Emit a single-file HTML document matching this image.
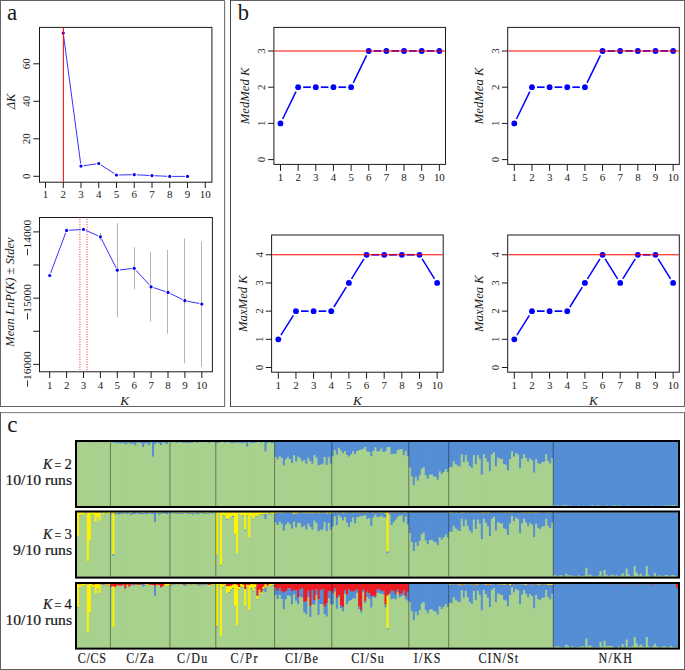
<!DOCTYPE html>
<html><head><meta charset="utf-8"><title>Figure</title>
<style>
html,body{margin:0;padding:0;background:#fff;width:685px;height:670px;overflow:hidden;}
svg{display:block;}
text{fill:#1a1a1a;}
text.h{stroke:#1a1a1a;stroke-width:0.2px;}
</style></head><body>
<svg width="685" height="670" viewBox="0 0 685 670"><rect x="0" y="0" width="225" height="1" fill="#5f5f5f" />
<rect x="0" y="406" width="225" height="1" fill="#636363" />
<rect x="0" y="0" width="1" height="407" fill="#666666" />
<rect x="224" y="0" width="1" height="407" fill="#7a7a7a" />
<rect x="225" y="1" width="1" height="406" fill="#e6e6e6" />
<rect x="230" y="0" width="455" height="1" fill="#5f5f5f" />
<rect x="230" y="406" width="455" height="1" fill="#636363" />
<rect x="230" y="0" width="1" height="407" fill="#474747" />
<rect x="684" y="0" width="1" height="407" fill="#666666" />
<rect x="0" y="412" width="685" height="1" fill="#8a8a8a" />
<rect x="1" y="413" width="683" height="1" fill="#ececec" />
<rect x="0" y="669" width="685" height="1" fill="#5c5c5c" />
<rect x="0" y="412" width="1" height="258" fill="#5f5f5f" />
<rect x="684" y="412" width="1" height="258" fill="#666666" />
<text transform="translate(12,20.1)" text-anchor="middle" style='font-family:"Liberation Serif", serif;font-size:23px;' >a</text>
<text transform="translate(243.3,20.2)" text-anchor="middle" style='font-family:"Liberation Serif", serif;font-size:22.5px;' >b</text>
<text transform="translate(12.4,431.8)" text-anchor="middle" style='font-family:"Liberation Serif", serif;font-size:23px;' >c</text>
<rect x="39.5" y="27.4" width="172.4" height="154.8" fill="none" stroke="#1a1a1a" stroke-width="1"/>
<line x1="33.3" y1="176.3" x2="39.5" y2="176.3" stroke="#1a1a1a" stroke-width="1" />
<text transform="translate(30,176.3) rotate(-90) scale(1.14,1)" text-anchor="middle" style='font-family:"Liberation Serif", serif;font-size:9.6px;' >0</text>
<line x1="33.3" y1="138.8" x2="39.5" y2="138.8" stroke="#1a1a1a" stroke-width="1" />
<text transform="translate(30,138.8) rotate(-90) scale(1.14,1)" text-anchor="middle" style='font-family:"Liberation Serif", serif;font-size:9.6px;' >20</text>
<line x1="33.3" y1="101.3" x2="39.5" y2="101.3" stroke="#1a1a1a" stroke-width="1" />
<text transform="translate(30,101.3) rotate(-90) scale(1.14,1)" text-anchor="middle" style='font-family:"Liberation Serif", serif;font-size:9.6px;' >40</text>
<line x1="33.3" y1="63.8" x2="39.5" y2="63.8" stroke="#1a1a1a" stroke-width="1" />
<text transform="translate(30,63.8) rotate(-90) scale(1.14,1)" text-anchor="middle" style='font-family:"Liberation Serif", serif;font-size:9.6px;' >60</text>
<line x1="45.5" y1="182.2" x2="45.5" y2="188" stroke="#1a1a1a" stroke-width="1" />
<text transform="translate(45.5,197.7) scale(1.14,1)" text-anchor="middle" style='font-family:"Liberation Serif", serif;font-size:9.6px;' >1</text>
<line x1="63.25" y1="182.2" x2="63.25" y2="188" stroke="#1a1a1a" stroke-width="1" />
<text transform="translate(63.25,197.7) scale(1.14,1)" text-anchor="middle" style='font-family:"Liberation Serif", serif;font-size:9.6px;' >2</text>
<line x1="81" y1="182.2" x2="81" y2="188" stroke="#1a1a1a" stroke-width="1" />
<text transform="translate(81,197.7) scale(1.14,1)" text-anchor="middle" style='font-family:"Liberation Serif", serif;font-size:9.6px;' >3</text>
<line x1="98.75" y1="182.2" x2="98.75" y2="188" stroke="#1a1a1a" stroke-width="1" />
<text transform="translate(98.75,197.7) scale(1.14,1)" text-anchor="middle" style='font-family:"Liberation Serif", serif;font-size:9.6px;' >4</text>
<line x1="116.5" y1="182.2" x2="116.5" y2="188" stroke="#1a1a1a" stroke-width="1" />
<text transform="translate(116.5,197.7) scale(1.14,1)" text-anchor="middle" style='font-family:"Liberation Serif", serif;font-size:9.6px;' >5</text>
<line x1="134.25" y1="182.2" x2="134.25" y2="188" stroke="#1a1a1a" stroke-width="1" />
<text transform="translate(134.25,197.7) scale(1.14,1)" text-anchor="middle" style='font-family:"Liberation Serif", serif;font-size:9.6px;' >6</text>
<line x1="152" y1="182.2" x2="152" y2="188" stroke="#1a1a1a" stroke-width="1" />
<text transform="translate(152,197.7) scale(1.14,1)" text-anchor="middle" style='font-family:"Liberation Serif", serif;font-size:9.6px;' >7</text>
<line x1="169.75" y1="182.2" x2="169.75" y2="188" stroke="#1a1a1a" stroke-width="1" />
<text transform="translate(169.75,197.7) scale(1.14,1)" text-anchor="middle" style='font-family:"Liberation Serif", serif;font-size:9.6px;' >8</text>
<line x1="187.5" y1="182.2" x2="187.5" y2="188" stroke="#1a1a1a" stroke-width="1" />
<text transform="translate(187.5,197.7) scale(1.14,1)" text-anchor="middle" style='font-family:"Liberation Serif", serif;font-size:9.6px;' >9</text>
<line x1="205.25" y1="182.2" x2="205.25" y2="188" stroke="#1a1a1a" stroke-width="1" />
<text transform="translate(205.25,197.7) scale(1.14,1)" text-anchor="middle" style='font-family:"Liberation Serif", serif;font-size:9.6px;' >10</text>
<text transform="translate(14.5,101.5) rotate(-90)" text-anchor="middle" style='font-family:"Liberation Serif", serif;font-size:12.5px;font-style:italic' >&#916;K</text>
<line x1="63.59" y1="35.68" x2="80.66" y2="163.52" stroke="#0000ff" stroke-width="0.8" />
<line x1="83.57" y1="165.72" x2="96.18" y2="163.88" stroke="#0000ff" stroke-width="0.8" />
<line x1="100.93" y1="164.91" x2="114.32" y2="173.59" stroke="#0000ff" stroke-width="0.8" />
<line x1="119.1" y1="174.96" x2="131.65" y2="174.74" stroke="#0000ff" stroke-width="0.8" />
<line x1="136.85" y1="174.83" x2="149.4" y2="175.47" stroke="#0000ff" stroke-width="0.8" />
<line x1="154.6" y1="175.72" x2="167.15" y2="176.28" stroke="#0000ff" stroke-width="0.8" />
<line x1="172.35" y1="176.4" x2="184.9" y2="176.4" stroke="#0000ff" stroke-width="0.8" />
<circle cx="63.25" cy="33.1" r="1.6" fill="#0000ff"/>
<circle cx="81" cy="166.1" r="1.6" fill="#0000ff"/>
<circle cx="98.75" cy="163.5" r="1.6" fill="#0000ff"/>
<circle cx="116.5" cy="175" r="1.6" fill="#0000ff"/>
<circle cx="134.25" cy="174.7" r="1.6" fill="#0000ff"/>
<circle cx="152" cy="175.6" r="1.6" fill="#0000ff"/>
<circle cx="169.75" cy="176.4" r="1.6" fill="#0000ff"/>
<circle cx="187.5" cy="176.4" r="1.6" fill="#0000ff"/>
<line x1="63.4" y1="27.9" x2="63.4" y2="181.7" stroke="#ff0000" stroke-width="1" />
<rect x="39.5" y="217.5" width="172.9" height="154.3" fill="none" stroke="#1a1a1a" stroke-width="1"/>
<line x1="33.3" y1="231.9" x2="39.5" y2="231.9" stroke="#1a1a1a" stroke-width="1" />
<line x1="33.3" y1="265.02" x2="39.5" y2="265.02" stroke="#1a1a1a" stroke-width="1" />
<line x1="33.3" y1="298.15" x2="39.5" y2="298.15" stroke="#1a1a1a" stroke-width="1" />
<line x1="33.3" y1="331.27" x2="39.5" y2="331.27" stroke="#1a1a1a" stroke-width="1" />
<line x1="33.3" y1="364.4" x2="39.5" y2="364.4" stroke="#1a1a1a" stroke-width="1" />
<text transform="translate(30.6,219.9) rotate(-90)" text-anchor="end" style='font-family:"Liberation Serif", serif;font-size:9.6px;' textLength="28.6" lengthAdjust="spacingAndGlyphs">14000</text>
<line x1="27.5" y1="248.9" x2="27.5" y2="255.3" stroke="#222" stroke-width="0.9" />
<text transform="translate(30.6,284.1) rotate(-90)" text-anchor="end" style='font-family:"Liberation Serif", serif;font-size:9.6px;' textLength="28.6" lengthAdjust="spacingAndGlyphs">15000</text>
<line x1="27.5" y1="313.1" x2="27.5" y2="319.5" stroke="#222" stroke-width="0.9" />
<text transform="translate(30.6,351.3) rotate(-90)" text-anchor="end" style='font-family:"Liberation Serif", serif;font-size:9.6px;' textLength="28.6" lengthAdjust="spacingAndGlyphs">16000</text>
<line x1="27.5" y1="380.3" x2="27.5" y2="386.7" stroke="#222" stroke-width="0.9" />
<line x1="49.7" y1="371.8" x2="49.7" y2="378" stroke="#1a1a1a" stroke-width="1" />
<text transform="translate(49.7,388.9) scale(1.14,1)" text-anchor="middle" style='font-family:"Liberation Serif", serif;font-size:9.6px;' >1</text>
<line x1="66.6" y1="371.8" x2="66.6" y2="378" stroke="#1a1a1a" stroke-width="1" />
<text transform="translate(66.6,388.9) scale(1.14,1)" text-anchor="middle" style='font-family:"Liberation Serif", serif;font-size:9.6px;' >2</text>
<line x1="83.5" y1="371.8" x2="83.5" y2="378" stroke="#1a1a1a" stroke-width="1" />
<text transform="translate(83.5,388.9) scale(1.14,1)" text-anchor="middle" style='font-family:"Liberation Serif", serif;font-size:9.6px;' >3</text>
<line x1="100.4" y1="371.8" x2="100.4" y2="378" stroke="#1a1a1a" stroke-width="1" />
<text transform="translate(100.4,388.9) scale(1.14,1)" text-anchor="middle" style='font-family:"Liberation Serif", serif;font-size:9.6px;' >4</text>
<line x1="117.3" y1="371.8" x2="117.3" y2="378" stroke="#1a1a1a" stroke-width="1" />
<text transform="translate(117.3,388.9) scale(1.14,1)" text-anchor="middle" style='font-family:"Liberation Serif", serif;font-size:9.6px;' >5</text>
<line x1="134.2" y1="371.8" x2="134.2" y2="378" stroke="#1a1a1a" stroke-width="1" />
<text transform="translate(134.2,388.9) scale(1.14,1)" text-anchor="middle" style='font-family:"Liberation Serif", serif;font-size:9.6px;' >6</text>
<line x1="151.1" y1="371.8" x2="151.1" y2="378" stroke="#1a1a1a" stroke-width="1" />
<text transform="translate(151.1,388.9) scale(1.14,1)" text-anchor="middle" style='font-family:"Liberation Serif", serif;font-size:9.6px;' >7</text>
<line x1="168" y1="371.8" x2="168" y2="378" stroke="#1a1a1a" stroke-width="1" />
<text transform="translate(168,388.9) scale(1.14,1)" text-anchor="middle" style='font-family:"Liberation Serif", serif;font-size:9.6px;' >8</text>
<line x1="184.9" y1="371.8" x2="184.9" y2="378" stroke="#1a1a1a" stroke-width="1" />
<text transform="translate(184.9,388.9) scale(1.14,1)" text-anchor="middle" style='font-family:"Liberation Serif", serif;font-size:9.6px;' >9</text>
<line x1="201.8" y1="371.8" x2="201.8" y2="378" stroke="#1a1a1a" stroke-width="1" />
<text transform="translate(201.8,388.9) scale(1.14,1)" text-anchor="middle" style='font-family:"Liberation Serif", serif;font-size:9.6px;' >10</text>
<text transform="translate(124.6,404.7)" text-anchor="middle" style='font-family:"Liberation Serif", serif;font-size:13.3px;font-style:italic' >K</text>
<text transform="translate(13.6,292) rotate(-90)" text-anchor="middle" style='font-family:"Liberation Serif", serif;font-size:12.5px;font-style:italic' >Mean LnP(K) &#177; Stdev</text>
<line x1="79.9" y1="219" x2="79.9" y2="371.3" stroke="#ff3030" stroke-width="1" stroke-dasharray="1 4" stroke-dashoffset="0"/>
<line x1="79.9" y1="219" x2="79.9" y2="371.3" stroke="#ff3030" stroke-width="1" stroke-dasharray="2 3" stroke-dashoffset="-2" stroke-opacity="0.55"/>
<line x1="87" y1="219" x2="87" y2="371.3" stroke="#ff3030" stroke-width="1" stroke-dasharray="1 4" stroke-dashoffset="0"/>
<line x1="87" y1="219" x2="87" y2="371.3" stroke="#ff3030" stroke-width="1" stroke-dasharray="2 3" stroke-dashoffset="-2" stroke-opacity="0.55"/>
<line x1="100.5" y1="232.8" x2="100.5" y2="240.7" stroke="#b4b4b4" stroke-width="1" />
<line x1="117.5" y1="223.2" x2="117.5" y2="317.2" stroke="#b4b4b4" stroke-width="1" />
<line x1="134.5" y1="247.3" x2="134.5" y2="289.3" stroke="#b4b4b4" stroke-width="1" />
<line x1="150.5" y1="251.8" x2="150.5" y2="321.5" stroke="#b4b4b4" stroke-width="1" />
<line x1="167.5" y1="250" x2="167.5" y2="333.7" stroke="#b4b4b4" stroke-width="1" />
<line x1="184.5" y1="238.6" x2="184.5" y2="363.4" stroke="#b4b4b4" stroke-width="1" />
<line x1="201.5" y1="241.7" x2="201.5" y2="366.7" stroke="#b4b4b4" stroke-width="1" />
<line x1="50.61" y1="273.07" x2="65.69" y2="232.83" stroke="#0000ff" stroke-width="0.8" />
<line x1="69.2" y1="230.25" x2="80.9" y2="229.55" stroke="#0000ff" stroke-width="0.8" />
<line x1="85.88" y1="230.44" x2="98.02" y2="235.76" stroke="#0000ff" stroke-width="0.8" />
<line x1="101.57" y1="239.12" x2="116.13" y2="267.88" stroke="#0000ff" stroke-width="0.8" />
<line x1="119.88" y1="269.91" x2="131.62" y2="268.59" stroke="#0000ff" stroke-width="0.8" />
<line x1="135.95" y1="270.22" x2="149.35" y2="284.88" stroke="#0000ff" stroke-width="0.8" />
<line x1="153.57" y1="287.62" x2="165.53" y2="291.58" stroke="#0000ff" stroke-width="0.8" />
<line x1="170.33" y1="293.55" x2="182.57" y2="299.55" stroke="#0000ff" stroke-width="0.8" />
<line x1="187.45" y1="301.2" x2="199.25" y2="303.5" stroke="#0000ff" stroke-width="0.8" />
<circle cx="49.7" cy="275.5" r="1.6" fill="#0000ff"/>
<circle cx="66.6" cy="230.4" r="1.6" fill="#0000ff"/>
<circle cx="83.5" cy="229.4" r="1.6" fill="#0000ff"/>
<circle cx="100.4" cy="236.8" r="1.6" fill="#0000ff"/>
<circle cx="117.3" cy="270.2" r="1.6" fill="#0000ff"/>
<circle cx="134.2" cy="268.3" r="1.6" fill="#0000ff"/>
<circle cx="151.1" cy="286.8" r="1.6" fill="#0000ff"/>
<circle cx="168" cy="292.4" r="1.6" fill="#0000ff"/>
<circle cx="184.9" cy="300.7" r="1.6" fill="#0000ff"/>
<circle cx="201.8" cy="304" r="1.6" fill="#0000ff"/>
<rect x="273.9" y="27.4" width="171.6" height="137" fill="none" stroke="#1a1a1a" stroke-width="1"/>
<line x1="268.1" y1="159.6" x2="273.9" y2="159.6" stroke="#1a1a1a" stroke-width="1" />
<text transform="translate(264.9,159.6) rotate(-90) scale(1.14,1)" text-anchor="middle" style='font-family:"Liberation Serif", serif;font-size:9.6px;' >0</text>
<line x1="268.1" y1="123.4" x2="273.9" y2="123.4" stroke="#1a1a1a" stroke-width="1" />
<text transform="translate(264.9,123.4) rotate(-90) scale(1.14,1)" text-anchor="middle" style='font-family:"Liberation Serif", serif;font-size:9.6px;' >1</text>
<line x1="268.1" y1="87.2" x2="273.9" y2="87.2" stroke="#1a1a1a" stroke-width="1" />
<text transform="translate(264.9,87.2) rotate(-90) scale(1.14,1)" text-anchor="middle" style='font-family:"Liberation Serif", serif;font-size:9.6px;' >2</text>
<line x1="268.1" y1="51" x2="273.9" y2="51" stroke="#1a1a1a" stroke-width="1" />
<text transform="translate(264.9,51) rotate(-90) scale(1.14,1)" text-anchor="middle" style='font-family:"Liberation Serif", serif;font-size:9.6px;' >3</text>
<line x1="280.5" y1="164.4" x2="280.5" y2="170.9" stroke="#1a1a1a" stroke-width="1" />
<text transform="translate(280.5,181.2) scale(1.14,1)" text-anchor="middle" style='font-family:"Liberation Serif", serif;font-size:9.6px;' >1</text>
<line x1="298.15" y1="164.4" x2="298.15" y2="170.9" stroke="#1a1a1a" stroke-width="1" />
<text transform="translate(298.15,181.2) scale(1.14,1)" text-anchor="middle" style='font-family:"Liberation Serif", serif;font-size:9.6px;' >2</text>
<line x1="315.8" y1="164.4" x2="315.8" y2="170.9" stroke="#1a1a1a" stroke-width="1" />
<text transform="translate(315.8,181.2) scale(1.14,1)" text-anchor="middle" style='font-family:"Liberation Serif", serif;font-size:9.6px;' >3</text>
<line x1="333.45" y1="164.4" x2="333.45" y2="170.9" stroke="#1a1a1a" stroke-width="1" />
<text transform="translate(333.45,181.2) scale(1.14,1)" text-anchor="middle" style='font-family:"Liberation Serif", serif;font-size:9.6px;' >4</text>
<line x1="351.1" y1="164.4" x2="351.1" y2="170.9" stroke="#1a1a1a" stroke-width="1" />
<text transform="translate(351.1,181.2) scale(1.14,1)" text-anchor="middle" style='font-family:"Liberation Serif", serif;font-size:9.6px;' >5</text>
<line x1="368.75" y1="164.4" x2="368.75" y2="170.9" stroke="#1a1a1a" stroke-width="1" />
<text transform="translate(368.75,181.2) scale(1.14,1)" text-anchor="middle" style='font-family:"Liberation Serif", serif;font-size:9.6px;' >6</text>
<line x1="386.4" y1="164.4" x2="386.4" y2="170.9" stroke="#1a1a1a" stroke-width="1" />
<text transform="translate(386.4,181.2) scale(1.14,1)" text-anchor="middle" style='font-family:"Liberation Serif", serif;font-size:9.6px;' >7</text>
<line x1="404.05" y1="164.4" x2="404.05" y2="170.9" stroke="#1a1a1a" stroke-width="1" />
<text transform="translate(404.05,181.2) scale(1.14,1)" text-anchor="middle" style='font-family:"Liberation Serif", serif;font-size:9.6px;' >8</text>
<line x1="421.7" y1="164.4" x2="421.7" y2="170.9" stroke="#1a1a1a" stroke-width="1" />
<text transform="translate(421.7,181.2) scale(1.14,1)" text-anchor="middle" style='font-family:"Liberation Serif", serif;font-size:9.6px;' >9</text>
<line x1="439.35" y1="164.4" x2="439.35" y2="170.9" stroke="#1a1a1a" stroke-width="1" />
<text transform="translate(439.35,181.2) scale(1.14,1)" text-anchor="middle" style='font-family:"Liberation Serif", serif;font-size:9.6px;' >10</text>
<text transform="translate(248.8,95.9) rotate(-90)" text-anchor="middle" style='font-family:"Liberation Serif", serif;font-size:12.7px;font-style:italic' >MedMed K</text>
<line x1="282.65" y1="119" x2="296" y2="91.6" stroke="#0000ff" stroke-width="1.5" />
<line x1="303.18" y1="87.2" x2="310.78" y2="87.2" stroke="#0000ff" stroke-width="1.7" />
<line x1="320.82" y1="87.2" x2="328.43" y2="87.2" stroke="#0000ff" stroke-width="1.7" />
<line x1="338.47" y1="87.2" x2="346.07" y2="87.2" stroke="#0000ff" stroke-width="1.7" />
<line x1="353.25" y1="82.8" x2="366.6" y2="55.4" stroke="#0000ff" stroke-width="1.5" />
<line x1="373.77" y1="51" x2="381.38" y2="51" stroke="#0000ff" stroke-width="1.7" />
<line x1="391.42" y1="51" x2="399.02" y2="51" stroke="#0000ff" stroke-width="1.7" />
<line x1="409.07" y1="51" x2="416.68" y2="51" stroke="#0000ff" stroke-width="1.7" />
<line x1="426.72" y1="51" x2="434.32" y2="51" stroke="#0000ff" stroke-width="1.7" />
<circle cx="280.5" cy="123.4" r="2.9" fill="#0000ff"/>
<circle cx="298.15" cy="87.2" r="2.9" fill="#0000ff"/>
<circle cx="315.8" cy="87.2" r="2.9" fill="#0000ff"/>
<circle cx="333.45" cy="87.2" r="2.9" fill="#0000ff"/>
<circle cx="351.1" cy="87.2" r="2.9" fill="#0000ff"/>
<circle cx="368.75" cy="51" r="2.9" fill="#0000ff"/>
<circle cx="386.4" cy="51" r="2.9" fill="#0000ff"/>
<circle cx="404.05" cy="51" r="2.9" fill="#0000ff"/>
<circle cx="421.7" cy="51" r="2.9" fill="#0000ff"/>
<circle cx="439.35" cy="51" r="2.9" fill="#0000ff"/>
<line x1="274.4" y1="51" x2="445" y2="51" stroke="#ff0000" stroke-width="1" />
<rect x="507.7" y="27.4" width="171.6" height="137" fill="none" stroke="#1a1a1a" stroke-width="1"/>
<line x1="501.9" y1="159.6" x2="507.7" y2="159.6" stroke="#1a1a1a" stroke-width="1" />
<text transform="translate(498.7,159.6) rotate(-90) scale(1.14,1)" text-anchor="middle" style='font-family:"Liberation Serif", serif;font-size:9.6px;' >0</text>
<line x1="501.9" y1="123.4" x2="507.7" y2="123.4" stroke="#1a1a1a" stroke-width="1" />
<text transform="translate(498.7,123.4) rotate(-90) scale(1.14,1)" text-anchor="middle" style='font-family:"Liberation Serif", serif;font-size:9.6px;' >1</text>
<line x1="501.9" y1="87.2" x2="507.7" y2="87.2" stroke="#1a1a1a" stroke-width="1" />
<text transform="translate(498.7,87.2) rotate(-90) scale(1.14,1)" text-anchor="middle" style='font-family:"Liberation Serif", serif;font-size:9.6px;' >2</text>
<line x1="501.9" y1="51" x2="507.7" y2="51" stroke="#1a1a1a" stroke-width="1" />
<text transform="translate(498.7,51) rotate(-90) scale(1.14,1)" text-anchor="middle" style='font-family:"Liberation Serif", serif;font-size:9.6px;' >3</text>
<line x1="514.3" y1="164.4" x2="514.3" y2="170.9" stroke="#1a1a1a" stroke-width="1" />
<text transform="translate(514.3,181.2) scale(1.14,1)" text-anchor="middle" style='font-family:"Liberation Serif", serif;font-size:9.6px;' >1</text>
<line x1="531.95" y1="164.4" x2="531.95" y2="170.9" stroke="#1a1a1a" stroke-width="1" />
<text transform="translate(531.95,181.2) scale(1.14,1)" text-anchor="middle" style='font-family:"Liberation Serif", serif;font-size:9.6px;' >2</text>
<line x1="549.6" y1="164.4" x2="549.6" y2="170.9" stroke="#1a1a1a" stroke-width="1" />
<text transform="translate(549.6,181.2) scale(1.14,1)" text-anchor="middle" style='font-family:"Liberation Serif", serif;font-size:9.6px;' >3</text>
<line x1="567.25" y1="164.4" x2="567.25" y2="170.9" stroke="#1a1a1a" stroke-width="1" />
<text transform="translate(567.25,181.2) scale(1.14,1)" text-anchor="middle" style='font-family:"Liberation Serif", serif;font-size:9.6px;' >4</text>
<line x1="584.9" y1="164.4" x2="584.9" y2="170.9" stroke="#1a1a1a" stroke-width="1" />
<text transform="translate(584.9,181.2) scale(1.14,1)" text-anchor="middle" style='font-family:"Liberation Serif", serif;font-size:9.6px;' >5</text>
<line x1="602.55" y1="164.4" x2="602.55" y2="170.9" stroke="#1a1a1a" stroke-width="1" />
<text transform="translate(602.55,181.2) scale(1.14,1)" text-anchor="middle" style='font-family:"Liberation Serif", serif;font-size:9.6px;' >6</text>
<line x1="620.2" y1="164.4" x2="620.2" y2="170.9" stroke="#1a1a1a" stroke-width="1" />
<text transform="translate(620.2,181.2) scale(1.14,1)" text-anchor="middle" style='font-family:"Liberation Serif", serif;font-size:9.6px;' >7</text>
<line x1="637.85" y1="164.4" x2="637.85" y2="170.9" stroke="#1a1a1a" stroke-width="1" />
<text transform="translate(637.85,181.2) scale(1.14,1)" text-anchor="middle" style='font-family:"Liberation Serif", serif;font-size:9.6px;' >8</text>
<line x1="655.5" y1="164.4" x2="655.5" y2="170.9" stroke="#1a1a1a" stroke-width="1" />
<text transform="translate(655.5,181.2) scale(1.14,1)" text-anchor="middle" style='font-family:"Liberation Serif", serif;font-size:9.6px;' >9</text>
<line x1="673.15" y1="164.4" x2="673.15" y2="170.9" stroke="#1a1a1a" stroke-width="1" />
<text transform="translate(673.15,181.2) scale(1.14,1)" text-anchor="middle" style='font-family:"Liberation Serif", serif;font-size:9.6px;' >10</text>
<text transform="translate(482.6,95.9) rotate(-90)" text-anchor="middle" style='font-family:"Liberation Serif", serif;font-size:12.7px;font-style:italic' >MedMea K</text>
<line x1="516.45" y1="119" x2="529.8" y2="91.6" stroke="#0000ff" stroke-width="1.5" />
<line x1="536.97" y1="87.2" x2="544.57" y2="87.2" stroke="#0000ff" stroke-width="1.7" />
<line x1="554.62" y1="87.2" x2="562.22" y2="87.2" stroke="#0000ff" stroke-width="1.7" />
<line x1="572.28" y1="87.2" x2="579.88" y2="87.2" stroke="#0000ff" stroke-width="1.7" />
<line x1="587.05" y1="82.8" x2="600.4" y2="55.4" stroke="#0000ff" stroke-width="1.5" />
<line x1="607.58" y1="51" x2="615.17" y2="51" stroke="#0000ff" stroke-width="1.7" />
<line x1="625.22" y1="51" x2="632.82" y2="51" stroke="#0000ff" stroke-width="1.7" />
<line x1="642.88" y1="51" x2="650.47" y2="51" stroke="#0000ff" stroke-width="1.7" />
<line x1="660.53" y1="51" x2="668.12" y2="51" stroke="#0000ff" stroke-width="1.7" />
<circle cx="514.3" cy="123.4" r="2.9" fill="#0000ff"/>
<circle cx="531.95" cy="87.2" r="2.9" fill="#0000ff"/>
<circle cx="549.6" cy="87.2" r="2.9" fill="#0000ff"/>
<circle cx="567.25" cy="87.2" r="2.9" fill="#0000ff"/>
<circle cx="584.9" cy="87.2" r="2.9" fill="#0000ff"/>
<circle cx="602.55" cy="51" r="2.9" fill="#0000ff"/>
<circle cx="620.2" cy="51" r="2.9" fill="#0000ff"/>
<circle cx="637.85" cy="51" r="2.9" fill="#0000ff"/>
<circle cx="655.5" cy="51" r="2.9" fill="#0000ff"/>
<circle cx="673.15" cy="51" r="2.9" fill="#0000ff"/>
<line x1="508.2" y1="51" x2="678.8" y2="51" stroke="#ff0000" stroke-width="1" />
<rect x="271.6" y="235" width="171.6" height="137.2" fill="none" stroke="#1a1a1a" stroke-width="1"/>
<line x1="265.8" y1="367.5" x2="271.6" y2="367.5" stroke="#1a1a1a" stroke-width="1" />
<text transform="translate(262.6,367.5) rotate(-90) scale(1.14,1)" text-anchor="middle" style='font-family:"Liberation Serif", serif;font-size:9.6px;' >0</text>
<line x1="265.8" y1="339.32" x2="271.6" y2="339.32" stroke="#1a1a1a" stroke-width="1" />
<text transform="translate(262.6,339.32) rotate(-90) scale(1.14,1)" text-anchor="middle" style='font-family:"Liberation Serif", serif;font-size:9.6px;' >1</text>
<line x1="265.8" y1="311.14" x2="271.6" y2="311.14" stroke="#1a1a1a" stroke-width="1" />
<text transform="translate(262.6,311.14) rotate(-90) scale(1.14,1)" text-anchor="middle" style='font-family:"Liberation Serif", serif;font-size:9.6px;' >2</text>
<line x1="265.8" y1="282.96" x2="271.6" y2="282.96" stroke="#1a1a1a" stroke-width="1" />
<text transform="translate(262.6,282.96) rotate(-90) scale(1.14,1)" text-anchor="middle" style='font-family:"Liberation Serif", serif;font-size:9.6px;' >3</text>
<line x1="265.8" y1="254.78" x2="271.6" y2="254.78" stroke="#1a1a1a" stroke-width="1" />
<text transform="translate(262.6,254.78) rotate(-90) scale(1.14,1)" text-anchor="middle" style='font-family:"Liberation Serif", serif;font-size:9.6px;' >4</text>
<line x1="278.3" y1="372.2" x2="278.3" y2="378.7" stroke="#1a1a1a" stroke-width="1" />
<text transform="translate(278.3,389) scale(1.14,1)" text-anchor="middle" style='font-family:"Liberation Serif", serif;font-size:9.6px;' >1</text>
<line x1="295.95" y1="372.2" x2="295.95" y2="378.7" stroke="#1a1a1a" stroke-width="1" />
<text transform="translate(295.95,389) scale(1.14,1)" text-anchor="middle" style='font-family:"Liberation Serif", serif;font-size:9.6px;' >2</text>
<line x1="313.6" y1="372.2" x2="313.6" y2="378.7" stroke="#1a1a1a" stroke-width="1" />
<text transform="translate(313.6,389) scale(1.14,1)" text-anchor="middle" style='font-family:"Liberation Serif", serif;font-size:9.6px;' >3</text>
<line x1="331.25" y1="372.2" x2="331.25" y2="378.7" stroke="#1a1a1a" stroke-width="1" />
<text transform="translate(331.25,389) scale(1.14,1)" text-anchor="middle" style='font-family:"Liberation Serif", serif;font-size:9.6px;' >4</text>
<line x1="348.9" y1="372.2" x2="348.9" y2="378.7" stroke="#1a1a1a" stroke-width="1" />
<text transform="translate(348.9,389) scale(1.14,1)" text-anchor="middle" style='font-family:"Liberation Serif", serif;font-size:9.6px;' >5</text>
<line x1="366.55" y1="372.2" x2="366.55" y2="378.7" stroke="#1a1a1a" stroke-width="1" />
<text transform="translate(366.55,389) scale(1.14,1)" text-anchor="middle" style='font-family:"Liberation Serif", serif;font-size:9.6px;' >6</text>
<line x1="384.2" y1="372.2" x2="384.2" y2="378.7" stroke="#1a1a1a" stroke-width="1" />
<text transform="translate(384.2,389) scale(1.14,1)" text-anchor="middle" style='font-family:"Liberation Serif", serif;font-size:9.6px;' >7</text>
<line x1="401.85" y1="372.2" x2="401.85" y2="378.7" stroke="#1a1a1a" stroke-width="1" />
<text transform="translate(401.85,389) scale(1.14,1)" text-anchor="middle" style='font-family:"Liberation Serif", serif;font-size:9.6px;' >8</text>
<line x1="419.5" y1="372.2" x2="419.5" y2="378.7" stroke="#1a1a1a" stroke-width="1" />
<text transform="translate(419.5,389) scale(1.14,1)" text-anchor="middle" style='font-family:"Liberation Serif", serif;font-size:9.6px;' >9</text>
<line x1="437.15" y1="372.2" x2="437.15" y2="378.7" stroke="#1a1a1a" stroke-width="1" />
<text transform="translate(437.15,389) scale(1.14,1)" text-anchor="middle" style='font-family:"Liberation Serif", serif;font-size:9.6px;' >10</text>
<text transform="translate(246.5,303.6) rotate(-90)" text-anchor="middle" style='font-family:"Liberation Serif", serif;font-size:12.7px;font-style:italic' >MaxMed K</text>
<text transform="translate(357.4,404.6)" text-anchor="middle" style='font-family:"Liberation Serif", serif;font-size:13.3px;font-style:italic' >K</text>
<line x1="280.9" y1="335.17" x2="293.35" y2="315.29" stroke="#0000ff" stroke-width="1.5" />
<line x1="300.97" y1="311.14" x2="308.57" y2="311.14" stroke="#0000ff" stroke-width="1.7" />
<line x1="318.62" y1="311.14" x2="326.23" y2="311.14" stroke="#0000ff" stroke-width="1.7" />
<line x1="333.85" y1="306.99" x2="346.3" y2="287.11" stroke="#0000ff" stroke-width="1.5" />
<line x1="351.5" y1="278.81" x2="363.95" y2="258.93" stroke="#0000ff" stroke-width="1.5" />
<line x1="371.57" y1="254.78" x2="379.18" y2="254.78" stroke="#0000ff" stroke-width="1.7" />
<line x1="389.22" y1="254.78" x2="396.82" y2="254.78" stroke="#0000ff" stroke-width="1.7" />
<line x1="406.88" y1="254.78" x2="414.48" y2="254.78" stroke="#0000ff" stroke-width="1.7" />
<line x1="422.1" y1="258.93" x2="434.55" y2="278.81" stroke="#0000ff" stroke-width="1.5" />
<circle cx="278.3" cy="339.32" r="2.9" fill="#0000ff"/>
<circle cx="295.95" cy="311.14" r="2.9" fill="#0000ff"/>
<circle cx="313.6" cy="311.14" r="2.9" fill="#0000ff"/>
<circle cx="331.25" cy="311.14" r="2.9" fill="#0000ff"/>
<circle cx="348.9" cy="282.96" r="2.9" fill="#0000ff"/>
<circle cx="366.55" cy="254.78" r="2.9" fill="#0000ff"/>
<circle cx="384.2" cy="254.78" r="2.9" fill="#0000ff"/>
<circle cx="401.85" cy="254.78" r="2.9" fill="#0000ff"/>
<circle cx="419.5" cy="254.78" r="2.9" fill="#0000ff"/>
<circle cx="437.15" cy="282.96" r="2.9" fill="#0000ff"/>
<line x1="272.1" y1="254.78" x2="442.7" y2="254.78" stroke="#ff0000" stroke-width="1" />
<rect x="507.7" y="235" width="171.6" height="137.2" fill="none" stroke="#1a1a1a" stroke-width="1"/>
<line x1="501.9" y1="367.5" x2="507.7" y2="367.5" stroke="#1a1a1a" stroke-width="1" />
<text transform="translate(498.7,367.5) rotate(-90) scale(1.14,1)" text-anchor="middle" style='font-family:"Liberation Serif", serif;font-size:9.6px;' >0</text>
<line x1="501.9" y1="339.32" x2="507.7" y2="339.32" stroke="#1a1a1a" stroke-width="1" />
<text transform="translate(498.7,339.32) rotate(-90) scale(1.14,1)" text-anchor="middle" style='font-family:"Liberation Serif", serif;font-size:9.6px;' >1</text>
<line x1="501.9" y1="311.14" x2="507.7" y2="311.14" stroke="#1a1a1a" stroke-width="1" />
<text transform="translate(498.7,311.14) rotate(-90) scale(1.14,1)" text-anchor="middle" style='font-family:"Liberation Serif", serif;font-size:9.6px;' >2</text>
<line x1="501.9" y1="282.96" x2="507.7" y2="282.96" stroke="#1a1a1a" stroke-width="1" />
<text transform="translate(498.7,282.96) rotate(-90) scale(1.14,1)" text-anchor="middle" style='font-family:"Liberation Serif", serif;font-size:9.6px;' >3</text>
<line x1="501.9" y1="254.78" x2="507.7" y2="254.78" stroke="#1a1a1a" stroke-width="1" />
<text transform="translate(498.7,254.78) rotate(-90) scale(1.14,1)" text-anchor="middle" style='font-family:"Liberation Serif", serif;font-size:9.6px;' >4</text>
<line x1="514.3" y1="372.2" x2="514.3" y2="378.7" stroke="#1a1a1a" stroke-width="1" />
<text transform="translate(514.3,389) scale(1.14,1)" text-anchor="middle" style='font-family:"Liberation Serif", serif;font-size:9.6px;' >1</text>
<line x1="531.95" y1="372.2" x2="531.95" y2="378.7" stroke="#1a1a1a" stroke-width="1" />
<text transform="translate(531.95,389) scale(1.14,1)" text-anchor="middle" style='font-family:"Liberation Serif", serif;font-size:9.6px;' >2</text>
<line x1="549.6" y1="372.2" x2="549.6" y2="378.7" stroke="#1a1a1a" stroke-width="1" />
<text transform="translate(549.6,389) scale(1.14,1)" text-anchor="middle" style='font-family:"Liberation Serif", serif;font-size:9.6px;' >3</text>
<line x1="567.25" y1="372.2" x2="567.25" y2="378.7" stroke="#1a1a1a" stroke-width="1" />
<text transform="translate(567.25,389) scale(1.14,1)" text-anchor="middle" style='font-family:"Liberation Serif", serif;font-size:9.6px;' >4</text>
<line x1="584.9" y1="372.2" x2="584.9" y2="378.7" stroke="#1a1a1a" stroke-width="1" />
<text transform="translate(584.9,389) scale(1.14,1)" text-anchor="middle" style='font-family:"Liberation Serif", serif;font-size:9.6px;' >5</text>
<line x1="602.55" y1="372.2" x2="602.55" y2="378.7" stroke="#1a1a1a" stroke-width="1" />
<text transform="translate(602.55,389) scale(1.14,1)" text-anchor="middle" style='font-family:"Liberation Serif", serif;font-size:9.6px;' >6</text>
<line x1="620.2" y1="372.2" x2="620.2" y2="378.7" stroke="#1a1a1a" stroke-width="1" />
<text transform="translate(620.2,389) scale(1.14,1)" text-anchor="middle" style='font-family:"Liberation Serif", serif;font-size:9.6px;' >7</text>
<line x1="637.85" y1="372.2" x2="637.85" y2="378.7" stroke="#1a1a1a" stroke-width="1" />
<text transform="translate(637.85,389) scale(1.14,1)" text-anchor="middle" style='font-family:"Liberation Serif", serif;font-size:9.6px;' >8</text>
<line x1="655.5" y1="372.2" x2="655.5" y2="378.7" stroke="#1a1a1a" stroke-width="1" />
<text transform="translate(655.5,389) scale(1.14,1)" text-anchor="middle" style='font-family:"Liberation Serif", serif;font-size:9.6px;' >9</text>
<line x1="673.15" y1="372.2" x2="673.15" y2="378.7" stroke="#1a1a1a" stroke-width="1" />
<text transform="translate(673.15,389) scale(1.14,1)" text-anchor="middle" style='font-family:"Liberation Serif", serif;font-size:9.6px;' >10</text>
<text transform="translate(482.6,303.6) rotate(-90)" text-anchor="middle" style='font-family:"Liberation Serif", serif;font-size:12.7px;font-style:italic' >MaxMea K</text>
<text transform="translate(593.5,404.6)" text-anchor="middle" style='font-family:"Liberation Serif", serif;font-size:13.3px;font-style:italic' >K</text>
<line x1="516.9" y1="335.17" x2="529.35" y2="315.29" stroke="#0000ff" stroke-width="1.5" />
<line x1="536.97" y1="311.14" x2="544.57" y2="311.14" stroke="#0000ff" stroke-width="1.7" />
<line x1="554.62" y1="311.14" x2="562.22" y2="311.14" stroke="#0000ff" stroke-width="1.7" />
<line x1="569.85" y1="306.99" x2="582.3" y2="287.11" stroke="#0000ff" stroke-width="1.5" />
<line x1="587.5" y1="278.81" x2="599.95" y2="258.93" stroke="#0000ff" stroke-width="1.5" />
<line x1="605.15" y1="258.93" x2="617.6" y2="278.81" stroke="#0000ff" stroke-width="1.5" />
<line x1="622.8" y1="278.81" x2="635.25" y2="258.93" stroke="#0000ff" stroke-width="1.5" />
<line x1="642.88" y1="254.78" x2="650.47" y2="254.78" stroke="#0000ff" stroke-width="1.7" />
<line x1="658.1" y1="258.93" x2="670.55" y2="278.81" stroke="#0000ff" stroke-width="1.5" />
<circle cx="514.3" cy="339.32" r="2.9" fill="#0000ff"/>
<circle cx="531.95" cy="311.14" r="2.9" fill="#0000ff"/>
<circle cx="549.6" cy="311.14" r="2.9" fill="#0000ff"/>
<circle cx="567.25" cy="311.14" r="2.9" fill="#0000ff"/>
<circle cx="584.9" cy="282.96" r="2.9" fill="#0000ff"/>
<circle cx="602.55" cy="254.78" r="2.9" fill="#0000ff"/>
<circle cx="620.2" cy="282.96" r="2.9" fill="#0000ff"/>
<circle cx="637.85" cy="254.78" r="2.9" fill="#0000ff"/>
<circle cx="655.5" cy="254.78" r="2.9" fill="#0000ff"/>
<circle cx="673.15" cy="282.96" r="2.9" fill="#0000ff"/>
<line x1="508.2" y1="254.78" x2="678.8" y2="254.78" stroke="#ff0000" stroke-width="1" />
<rect x="77" y="442" width="601" height="64" fill="#A9D18E" />
<rect x="77" y="442" width="2.96" height="0.19" fill="#558ED5" />
<rect x="77" y="442.19" width="2.96" height="63.81" fill="#A9D18E" />
<rect x="78.96" y="442" width="2.96" height="0.38" fill="#558ED5" />
<rect x="78.96" y="442.38" width="2.96" height="63.62" fill="#A9D18E" />
<rect x="80.93" y="442" width="2.96" height="0.19" fill="#558ED5" />
<rect x="80.93" y="442.19" width="2.96" height="63.81" fill="#A9D18E" />
<rect x="82.89" y="442" width="2.96" height="0.17" fill="#558ED5" />
<rect x="82.89" y="442.17" width="2.96" height="63.83" fill="#A9D18E" />
<rect x="84.86" y="442" width="2.96" height="64" fill="#A9D18E" />
<rect x="86.82" y="442" width="2.96" height="0.2" fill="#558ED5" />
<rect x="86.82" y="442.2" width="2.96" height="63.8" fill="#A9D18E" />
<rect x="88.79" y="442" width="2.96" height="0.53" fill="#558ED5" />
<rect x="88.79" y="442.53" width="2.96" height="63.47" fill="#A9D18E" />
<rect x="90.75" y="442" width="2.96" height="0.36" fill="#558ED5" />
<rect x="90.75" y="442.36" width="2.96" height="63.64" fill="#A9D18E" />
<rect x="92.72" y="442" width="2.96" height="0.51" fill="#558ED5" />
<rect x="92.72" y="442.51" width="2.96" height="63.49" fill="#A9D18E" />
<rect x="94.68" y="442" width="2.96" height="0.31" fill="#558ED5" />
<rect x="94.68" y="442.31" width="2.96" height="63.69" fill="#A9D18E" />
<rect x="96.65" y="442" width="2.96" height="0.35" fill="#558ED5" />
<rect x="96.65" y="442.35" width="2.96" height="63.65" fill="#A9D18E" />
<rect x="98.61" y="442" width="2.96" height="0.3" fill="#558ED5" />
<rect x="98.61" y="442.3" width="2.96" height="63.7" fill="#A9D18E" />
<rect x="100.58" y="442" width="2.96" height="64" fill="#A9D18E" />
<rect x="102.54" y="442" width="2.96" height="0.46" fill="#558ED5" />
<rect x="102.54" y="442.46" width="2.96" height="63.54" fill="#A9D18E" />
<rect x="104.51" y="442" width="2.96" height="0.38" fill="#558ED5" />
<rect x="104.51" y="442.38" width="2.96" height="63.62" fill="#A9D18E" />
<rect x="106.47" y="442" width="2.96" height="0.37" fill="#558ED5" />
<rect x="106.47" y="442.37" width="2.96" height="63.63" fill="#A9D18E" />
<rect x="108.44" y="442" width="2.96" height="64" fill="#A9D18E" />
<rect x="110.4" y="442" width="2.98" height="0.15" fill="#558ED5" />
<rect x="110.4" y="442.15" width="2.98" height="63.85" fill="#A9D18E" />
<rect x="112.38" y="442" width="2.98" height="0.67" fill="#558ED5" />
<rect x="112.38" y="442.67" width="2.98" height="63.33" fill="#A9D18E" />
<rect x="114.37" y="442" width="2.98" height="0.92" fill="#558ED5" />
<rect x="114.37" y="442.92" width="2.98" height="63.08" fill="#A9D18E" />
<rect x="116.35" y="442" width="2.98" height="1.38" fill="#558ED5" />
<rect x="116.35" y="443.38" width="2.98" height="62.62" fill="#A9D18E" />
<rect x="118.33" y="442" width="2.98" height="1.17" fill="#558ED5" />
<rect x="118.33" y="443.17" width="2.98" height="62.83" fill="#A9D18E" />
<rect x="120.32" y="442" width="2.98" height="1.51" fill="#558ED5" />
<rect x="120.32" y="443.51" width="2.98" height="62.49" fill="#A9D18E" />
<rect x="122.3" y="442" width="2.98" height="0.81" fill="#558ED5" />
<rect x="122.3" y="442.81" width="2.98" height="63.19" fill="#A9D18E" />
<rect x="124.28" y="442" width="2.98" height="2.6" fill="#558ED5" />
<rect x="124.28" y="444.6" width="2.98" height="61.4" fill="#A9D18E" />
<rect x="126.27" y="442" width="2.98" height="1.44" fill="#558ED5" />
<rect x="126.27" y="443.44" width="2.98" height="62.56" fill="#A9D18E" />
<rect x="128.25" y="442" width="2.98" height="0.8" fill="#558ED5" />
<rect x="128.25" y="442.8" width="2.98" height="63.2" fill="#A9D18E" />
<rect x="130.23" y="442" width="2.98" height="2.23" fill="#558ED5" />
<rect x="130.23" y="444.23" width="2.98" height="61.77" fill="#A9D18E" />
<rect x="132.22" y="442" width="2.98" height="1.53" fill="#558ED5" />
<rect x="132.22" y="443.53" width="2.98" height="62.47" fill="#A9D18E" />
<rect x="134.2" y="442" width="2.98" height="3.5" fill="#558ED5" />
<rect x="134.2" y="445.5" width="2.98" height="60.5" fill="#A9D18E" />
<rect x="136.18" y="442" width="2.98" height="0.83" fill="#558ED5" />
<rect x="136.18" y="442.83" width="2.98" height="63.17" fill="#A9D18E" />
<rect x="138.17" y="442" width="2.98" height="0.76" fill="#558ED5" />
<rect x="138.17" y="442.76" width="2.98" height="63.24" fill="#A9D18E" />
<rect x="140.15" y="442" width="2.98" height="0.99" fill="#558ED5" />
<rect x="140.15" y="442.99" width="2.98" height="63.01" fill="#A9D18E" />
<rect x="142.13" y="442" width="2.98" height="5" fill="#558ED5" />
<rect x="142.13" y="447" width="2.98" height="59" fill="#A9D18E" />
<rect x="144.12" y="442" width="2.98" height="1.58" fill="#558ED5" />
<rect x="144.12" y="443.58" width="2.98" height="62.42" fill="#A9D18E" />
<rect x="146.1" y="442" width="2.98" height="1.35" fill="#558ED5" />
<rect x="146.1" y="443.35" width="2.98" height="62.65" fill="#A9D18E" />
<rect x="148.08" y="442" width="2.98" height="3" fill="#558ED5" />
<rect x="148.08" y="445" width="2.98" height="61" fill="#A9D18E" />
<rect x="150.07" y="442" width="2.98" height="0.63" fill="#558ED5" />
<rect x="150.07" y="442.63" width="2.98" height="63.37" fill="#A9D18E" />
<rect x="152.05" y="442" width="2.98" height="14.7" fill="#558ED5" />
<rect x="152.05" y="456.7" width="2.98" height="49.3" fill="#A9D18E" />
<rect x="154.03" y="442" width="2.98" height="1.93" fill="#558ED5" />
<rect x="154.03" y="443.93" width="2.98" height="62.07" fill="#A9D18E" />
<rect x="156.02" y="442" width="2.98" height="0.72" fill="#558ED5" />
<rect x="156.02" y="442.72" width="2.98" height="63.28" fill="#A9D18E" />
<rect x="158" y="442" width="2.98" height="1.35" fill="#558ED5" />
<rect x="158" y="443.35" width="2.98" height="62.65" fill="#A9D18E" />
<rect x="159.98" y="442" width="2.98" height="3" fill="#558ED5" />
<rect x="159.98" y="445" width="2.98" height="61" fill="#A9D18E" />
<rect x="161.97" y="442" width="2.98" height="0.31" fill="#558ED5" />
<rect x="161.97" y="442.31" width="2.98" height="63.69" fill="#A9D18E" />
<rect x="163.95" y="442" width="2.98" height="1.23" fill="#558ED5" />
<rect x="163.95" y="443.23" width="2.98" height="62.77" fill="#A9D18E" />
<rect x="165.93" y="442" width="2.98" height="1.98" fill="#558ED5" />
<rect x="165.93" y="443.98" width="2.98" height="62.02" fill="#A9D18E" />
<rect x="167.92" y="442" width="2.98" height="64" fill="#A9D18E" />
<rect x="169.9" y="442" width="3" height="0.47" fill="#558ED5" />
<rect x="169.9" y="442.47" width="3" height="63.53" fill="#A9D18E" />
<rect x="171.9" y="442" width="3" height="0.56" fill="#558ED5" />
<rect x="171.9" y="442.56" width="3" height="63.44" fill="#A9D18E" />
<rect x="173.89" y="442" width="3" height="0.27" fill="#558ED5" />
<rect x="173.89" y="442.27" width="3" height="63.73" fill="#A9D18E" />
<rect x="175.89" y="442" width="3" height="0.8" fill="#558ED5" />
<rect x="175.89" y="442.8" width="3" height="63.2" fill="#A9D18E" />
<rect x="177.88" y="442" width="3" height="0.58" fill="#558ED5" />
<rect x="177.88" y="442.58" width="3" height="63.42" fill="#A9D18E" />
<rect x="179.88" y="442" width="3" height="64" fill="#A9D18E" />
<rect x="181.87" y="442" width="3" height="0.93" fill="#558ED5" />
<rect x="181.87" y="442.93" width="3" height="63.07" fill="#A9D18E" />
<rect x="183.87" y="442" width="3" height="0.87" fill="#558ED5" />
<rect x="183.87" y="442.87" width="3" height="63.13" fill="#A9D18E" />
<rect x="185.87" y="442" width="3" height="0.98" fill="#558ED5" />
<rect x="185.87" y="442.98" width="3" height="63.02" fill="#A9D18E" />
<rect x="187.86" y="442" width="3" height="1.18" fill="#558ED5" />
<rect x="187.86" y="443.18" width="3" height="62.82" fill="#A9D18E" />
<rect x="189.86" y="442" width="3" height="0.74" fill="#558ED5" />
<rect x="189.86" y="442.74" width="3" height="63.26" fill="#A9D18E" />
<rect x="191.85" y="442" width="3" height="0.65" fill="#558ED5" />
<rect x="191.85" y="442.65" width="3" height="63.35" fill="#A9D18E" />
<rect x="193.85" y="442" width="3" height="0.08" fill="#558ED5" />
<rect x="193.85" y="442.08" width="3" height="63.92" fill="#A9D18E" />
<rect x="195.84" y="442" width="3" height="0.85" fill="#558ED5" />
<rect x="195.84" y="442.85" width="3" height="63.15" fill="#A9D18E" />
<rect x="197.84" y="442" width="3" height="0.36" fill="#558ED5" />
<rect x="197.84" y="442.36" width="3" height="63.64" fill="#A9D18E" />
<rect x="199.83" y="442" width="3" height="0.42" fill="#558ED5" />
<rect x="199.83" y="442.42" width="3" height="63.58" fill="#A9D18E" />
<rect x="201.83" y="442" width="3" height="0.09" fill="#558ED5" />
<rect x="201.83" y="442.09" width="3" height="63.91" fill="#A9D18E" />
<rect x="203.83" y="442" width="3" height="0.21" fill="#558ED5" />
<rect x="203.83" y="442.21" width="3" height="63.79" fill="#A9D18E" />
<rect x="205.82" y="442" width="3" height="0.39" fill="#558ED5" />
<rect x="205.82" y="442.39" width="3" height="63.61" fill="#A9D18E" />
<rect x="207.82" y="442" width="3" height="1.12" fill="#558ED5" />
<rect x="207.82" y="443.12" width="3" height="62.88" fill="#A9D18E" />
<rect x="209.81" y="442" width="3" height="64" fill="#A9D18E" />
<rect x="211.81" y="442" width="3" height="64" fill="#A9D18E" />
<rect x="213.8" y="442" width="3" height="0.7" fill="#558ED5" />
<rect x="213.8" y="442.7" width="3" height="63.3" fill="#A9D18E" />
<rect x="215.8" y="442" width="3.03" height="1.18" fill="#558ED5" />
<rect x="215.8" y="443.18" width="3.03" height="62.82" fill="#A9D18E" />
<rect x="217.83" y="442" width="3.03" height="0.83" fill="#558ED5" />
<rect x="217.83" y="442.83" width="3.03" height="63.17" fill="#A9D18E" />
<rect x="219.86" y="442" width="3.03" height="64" fill="#A9D18E" />
<rect x="221.88" y="442" width="3.03" height="64" fill="#A9D18E" />
<rect x="223.91" y="442" width="3.03" height="0.74" fill="#558ED5" />
<rect x="223.91" y="442.74" width="3.03" height="63.26" fill="#A9D18E" />
<rect x="225.94" y="442" width="3.03" height="0.31" fill="#558ED5" />
<rect x="225.94" y="442.31" width="3.03" height="63.69" fill="#A9D18E" />
<rect x="227.97" y="442" width="3.03" height="0.15" fill="#558ED5" />
<rect x="227.97" y="442.15" width="3.03" height="63.85" fill="#A9D18E" />
<rect x="229.99" y="442" width="3.03" height="0.99" fill="#558ED5" />
<rect x="229.99" y="442.99" width="3.03" height="63.01" fill="#A9D18E" />
<rect x="232.02" y="442" width="3.03" height="1.04" fill="#558ED5" />
<rect x="232.02" y="443.04" width="3.03" height="62.96" fill="#A9D18E" />
<rect x="234.05" y="442" width="3.03" height="0.66" fill="#558ED5" />
<rect x="234.05" y="442.66" width="3.03" height="63.34" fill="#A9D18E" />
<rect x="236.08" y="442" width="3.03" height="0.7" fill="#558ED5" />
<rect x="236.08" y="442.7" width="3.03" height="63.3" fill="#A9D18E" />
<rect x="238.1" y="442" width="3.03" height="0.77" fill="#558ED5" />
<rect x="238.1" y="442.77" width="3.03" height="63.23" fill="#A9D18E" />
<rect x="240.13" y="442" width="3.03" height="1.24" fill="#558ED5" />
<rect x="240.13" y="443.24" width="3.03" height="62.76" fill="#A9D18E" />
<rect x="242.16" y="442" width="3.03" height="0.85" fill="#558ED5" />
<rect x="242.16" y="442.85" width="3.03" height="63.15" fill="#A9D18E" />
<rect x="244.19" y="442" width="3.03" height="0.81" fill="#558ED5" />
<rect x="244.19" y="442.81" width="3.03" height="63.19" fill="#A9D18E" />
<rect x="246.21" y="442" width="3.03" height="4.8" fill="#558ED5" />
<rect x="246.21" y="446.8" width="3.03" height="59.2" fill="#A9D18E" />
<rect x="248.24" y="442" width="3.03" height="64" fill="#A9D18E" />
<rect x="250.27" y="442" width="3.03" height="1.11" fill="#558ED5" />
<rect x="250.27" y="443.11" width="3.03" height="62.89" fill="#A9D18E" />
<rect x="252.3" y="442" width="3.03" height="0.98" fill="#558ED5" />
<rect x="252.3" y="442.98" width="3.03" height="63.02" fill="#A9D18E" />
<rect x="254.32" y="442" width="3.03" height="0.81" fill="#558ED5" />
<rect x="254.32" y="442.81" width="3.03" height="63.19" fill="#A9D18E" />
<rect x="256.35" y="442" width="3.03" height="64" fill="#A9D18E" />
<rect x="258.38" y="442" width="3.03" height="0.35" fill="#558ED5" />
<rect x="258.38" y="442.35" width="3.03" height="63.65" fill="#A9D18E" />
<rect x="260.41" y="442" width="3.03" height="0.94" fill="#558ED5" />
<rect x="260.41" y="442.94" width="3.03" height="63.06" fill="#A9D18E" />
<rect x="262.43" y="442" width="3.03" height="64" fill="#A9D18E" />
<rect x="264.46" y="442" width="3.03" height="9.6" fill="#558ED5" />
<rect x="264.46" y="451.6" width="3.03" height="54.4" fill="#A9D18E" />
<rect x="266.49" y="442" width="3.03" height="1.01" fill="#558ED5" />
<rect x="266.49" y="443.01" width="3.03" height="62.99" fill="#A9D18E" />
<rect x="268.52" y="442" width="3.03" height="0.08" fill="#558ED5" />
<rect x="268.52" y="442.08" width="3.03" height="63.92" fill="#A9D18E" />
<rect x="270.54" y="442" width="3.03" height="1.24" fill="#558ED5" />
<rect x="270.54" y="443.24" width="3.03" height="62.76" fill="#A9D18E" />
<rect x="272.57" y="442" width="3.03" height="0.82" fill="#558ED5" />
<rect x="272.57" y="442.82" width="3.03" height="63.18" fill="#A9D18E" />
<rect x="274.6" y="442" width="3.04" height="15" fill="#558ED5" />
<rect x="274.6" y="457" width="3.04" height="49" fill="#A9D18E" />
<rect x="276.64" y="442" width="3.04" height="17.5" fill="#558ED5" />
<rect x="276.64" y="459.5" width="3.04" height="46.5" fill="#A9D18E" />
<rect x="278.69" y="442" width="3.04" height="14.3" fill="#558ED5" />
<rect x="278.69" y="456.3" width="3.04" height="49.7" fill="#A9D18E" />
<rect x="280.73" y="442" width="3.04" height="16.1" fill="#558ED5" />
<rect x="280.73" y="458.1" width="3.04" height="47.9" fill="#A9D18E" />
<rect x="282.77" y="442" width="3.04" height="23.6" fill="#558ED5" />
<rect x="282.77" y="465.6" width="3.04" height="40.4" fill="#A9D18E" />
<rect x="284.81" y="442" width="3.04" height="17.5" fill="#558ED5" />
<rect x="284.81" y="459.5" width="3.04" height="46.5" fill="#A9D18E" />
<rect x="286.86" y="442" width="3.04" height="15.3" fill="#558ED5" />
<rect x="286.86" y="457.3" width="3.04" height="48.7" fill="#A9D18E" />
<rect x="288.9" y="442" width="3.04" height="17" fill="#558ED5" />
<rect x="288.9" y="459" width="3.04" height="47" fill="#A9D18E" />
<rect x="290.94" y="442" width="3.04" height="21" fill="#558ED5" />
<rect x="290.94" y="463" width="3.04" height="43" fill="#A9D18E" />
<rect x="292.99" y="442" width="3.04" height="13.3" fill="#558ED5" />
<rect x="292.99" y="455.3" width="3.04" height="50.7" fill="#A9D18E" />
<rect x="295.03" y="442" width="3.04" height="19.6" fill="#558ED5" />
<rect x="295.03" y="461.6" width="3.04" height="44.4" fill="#A9D18E" />
<rect x="297.07" y="442" width="3.04" height="14.8" fill="#558ED5" />
<rect x="297.07" y="456.8" width="3.04" height="49.2" fill="#A9D18E" />
<rect x="299.11" y="442" width="3.04" height="16.1" fill="#558ED5" />
<rect x="299.11" y="458.1" width="3.04" height="47.9" fill="#A9D18E" />
<rect x="301.16" y="442" width="3.04" height="19.6" fill="#558ED5" />
<rect x="301.16" y="461.6" width="3.04" height="44.4" fill="#A9D18E" />
<rect x="303.2" y="442" width="3.04" height="18.1" fill="#558ED5" />
<rect x="303.2" y="460.1" width="3.04" height="45.9" fill="#A9D18E" />
<rect x="305.24" y="442" width="3.04" height="21.8" fill="#558ED5" />
<rect x="305.24" y="463.8" width="3.04" height="42.2" fill="#A9D18E" />
<rect x="307.29" y="442" width="3.04" height="16.1" fill="#558ED5" />
<rect x="307.29" y="458.1" width="3.04" height="47.9" fill="#A9D18E" />
<rect x="309.33" y="442" width="3.04" height="19.2" fill="#558ED5" />
<rect x="309.33" y="461.2" width="3.04" height="44.8" fill="#A9D18E" />
<rect x="311.37" y="442" width="3.04" height="21.8" fill="#558ED5" />
<rect x="311.37" y="463.8" width="3.04" height="42.2" fill="#A9D18E" />
<rect x="313.41" y="442" width="3.04" height="13.1" fill="#558ED5" />
<rect x="313.41" y="455.1" width="3.04" height="50.9" fill="#A9D18E" />
<rect x="315.46" y="442" width="3.04" height="15.7" fill="#558ED5" />
<rect x="315.46" y="457.7" width="3.04" height="48.3" fill="#A9D18E" />
<rect x="317.5" y="442" width="3.04" height="23.4" fill="#558ED5" />
<rect x="317.5" y="465.4" width="3.04" height="40.6" fill="#A9D18E" />
<rect x="319.54" y="442" width="3.04" height="22.7" fill="#558ED5" />
<rect x="319.54" y="464.7" width="3.04" height="41.3" fill="#A9D18E" />
<rect x="321.59" y="442" width="3.04" height="21.8" fill="#558ED5" />
<rect x="321.59" y="463.8" width="3.04" height="42.2" fill="#A9D18E" />
<rect x="323.63" y="442" width="3.04" height="15" fill="#558ED5" />
<rect x="323.63" y="457" width="3.04" height="49" fill="#A9D18E" />
<rect x="325.67" y="442" width="3.04" height="22.9" fill="#558ED5" />
<rect x="325.67" y="464.9" width="3.04" height="41.1" fill="#A9D18E" />
<rect x="327.71" y="442" width="3.04" height="15.3" fill="#558ED5" />
<rect x="327.71" y="457.3" width="3.04" height="48.7" fill="#A9D18E" />
<rect x="329.76" y="442" width="3.04" height="21.8" fill="#558ED5" />
<rect x="329.76" y="463.8" width="3.04" height="42.2" fill="#A9D18E" />
<rect x="331.8" y="442" width="3.03" height="13.9" fill="#558ED5" />
<rect x="331.8" y="455.9" width="3.03" height="50.1" fill="#A9D18E" />
<rect x="333.83" y="442" width="3.03" height="8.1" fill="#558ED5" />
<rect x="333.83" y="450.1" width="3.03" height="55.9" fill="#A9D18E" />
<rect x="335.85" y="442" width="3.03" height="12.7" fill="#558ED5" />
<rect x="335.85" y="454.7" width="3.03" height="51.3" fill="#A9D18E" />
<rect x="337.88" y="442" width="3.03" height="5.8" fill="#558ED5" />
<rect x="337.88" y="447.8" width="3.03" height="58.2" fill="#A9D18E" />
<rect x="339.91" y="442" width="3.03" height="8.7" fill="#558ED5" />
<rect x="339.91" y="450.7" width="3.03" height="55.3" fill="#A9D18E" />
<rect x="341.93" y="442" width="3.03" height="11.5" fill="#558ED5" />
<rect x="341.93" y="453.5" width="3.03" height="52.5" fill="#A9D18E" />
<rect x="343.96" y="442" width="3.03" height="9.3" fill="#558ED5" />
<rect x="343.96" y="451.3" width="3.03" height="54.7" fill="#A9D18E" />
<rect x="345.98" y="442" width="3.03" height="13" fill="#558ED5" />
<rect x="345.98" y="455" width="3.03" height="51" fill="#A9D18E" />
<rect x="348.01" y="442" width="3.03" height="14.7" fill="#558ED5" />
<rect x="348.01" y="456.7" width="3.03" height="49.3" fill="#A9D18E" />
<rect x="350.04" y="442" width="3.03" height="12.4" fill="#558ED5" />
<rect x="350.04" y="454.4" width="3.03" height="51.6" fill="#A9D18E" />
<rect x="352.06" y="442" width="3.03" height="9.3" fill="#558ED5" />
<rect x="352.06" y="451.3" width="3.03" height="54.7" fill="#A9D18E" />
<rect x="354.09" y="442" width="3.03" height="12.1" fill="#558ED5" />
<rect x="354.09" y="454.1" width="3.03" height="51.9" fill="#A9D18E" />
<rect x="356.12" y="442" width="3.03" height="9" fill="#558ED5" />
<rect x="356.12" y="451" width="3.03" height="55" fill="#A9D18E" />
<rect x="358.14" y="442" width="3.03" height="8.3" fill="#558ED5" />
<rect x="358.14" y="450.3" width="3.03" height="55.7" fill="#A9D18E" />
<rect x="360.17" y="442" width="3.03" height="7.7" fill="#558ED5" />
<rect x="360.17" y="449.7" width="3.03" height="56.3" fill="#A9D18E" />
<rect x="362.19" y="442" width="3.03" height="6.9" fill="#558ED5" />
<rect x="362.19" y="448.9" width="3.03" height="57.1" fill="#A9D18E" />
<rect x="364.22" y="442" width="3.03" height="5.2" fill="#558ED5" />
<rect x="364.22" y="447.2" width="3.03" height="58.8" fill="#A9D18E" />
<rect x="366.25" y="442" width="3.03" height="9.6" fill="#558ED5" />
<rect x="366.25" y="451.6" width="3.03" height="54.4" fill="#A9D18E" />
<rect x="368.27" y="442" width="3.03" height="10" fill="#558ED5" />
<rect x="368.27" y="452" width="3.03" height="54" fill="#A9D18E" />
<rect x="370.3" y="442" width="3.03" height="14.4" fill="#558ED5" />
<rect x="370.3" y="456.4" width="3.03" height="49.6" fill="#A9D18E" />
<rect x="372.33" y="442" width="3.03" height="8.9" fill="#558ED5" />
<rect x="372.33" y="450.9" width="3.03" height="55.1" fill="#A9D18E" />
<rect x="374.35" y="442" width="3.03" height="5.2" fill="#558ED5" />
<rect x="374.35" y="447.2" width="3.03" height="58.8" fill="#A9D18E" />
<rect x="376.38" y="442" width="3.03" height="9.6" fill="#558ED5" />
<rect x="376.38" y="451.6" width="3.03" height="54.4" fill="#A9D18E" />
<rect x="378.41" y="442" width="3.03" height="9" fill="#558ED5" />
<rect x="378.41" y="451" width="3.03" height="55" fill="#A9D18E" />
<rect x="380.43" y="442" width="3.03" height="6.6" fill="#558ED5" />
<rect x="380.43" y="448.6" width="3.03" height="57.4" fill="#A9D18E" />
<rect x="382.46" y="442" width="3.03" height="10" fill="#558ED5" />
<rect x="382.46" y="452" width="3.03" height="54" fill="#A9D18E" />
<rect x="384.48" y="442" width="3.03" height="9.3" fill="#558ED5" />
<rect x="384.48" y="451.3" width="3.03" height="54.7" fill="#A9D18E" />
<rect x="386.51" y="442" width="3.03" height="5.2" fill="#558ED5" />
<rect x="386.51" y="447.2" width="3.03" height="58.8" fill="#A9D18E" />
<rect x="388.54" y="442" width="3.03" height="5.2" fill="#558ED5" />
<rect x="388.54" y="447.2" width="3.03" height="58.8" fill="#A9D18E" />
<rect x="390.56" y="442" width="3.03" height="12.4" fill="#558ED5" />
<rect x="390.56" y="454.4" width="3.03" height="51.6" fill="#A9D18E" />
<rect x="392.59" y="442" width="3.03" height="11.8" fill="#558ED5" />
<rect x="392.59" y="453.8" width="3.03" height="52.2" fill="#A9D18E" />
<rect x="394.62" y="442" width="3.03" height="11.8" fill="#558ED5" />
<rect x="394.62" y="453.8" width="3.03" height="52.2" fill="#A9D18E" />
<rect x="396.64" y="442" width="3.03" height="8.1" fill="#558ED5" />
<rect x="396.64" y="450.1" width="3.03" height="55.9" fill="#A9D18E" />
<rect x="398.67" y="442" width="3.03" height="7.2" fill="#558ED5" />
<rect x="398.67" y="449.2" width="3.03" height="56.8" fill="#A9D18E" />
<rect x="400.69" y="442" width="3.03" height="7.2" fill="#558ED5" />
<rect x="400.69" y="449.2" width="3.03" height="56.8" fill="#A9D18E" />
<rect x="402.72" y="442" width="3.03" height="13" fill="#558ED5" />
<rect x="402.72" y="455" width="3.03" height="51" fill="#A9D18E" />
<rect x="404.75" y="442" width="3.03" height="8.9" fill="#558ED5" />
<rect x="404.75" y="450.9" width="3.03" height="55.1" fill="#A9D18E" />
<rect x="406.77" y="442" width="3.03" height="14.1" fill="#558ED5" />
<rect x="406.77" y="456.1" width="3.03" height="49.9" fill="#A9D18E" />
<rect x="408.8" y="442" width="3" height="25.6" fill="#558ED5" />
<rect x="408.8" y="467.6" width="3" height="38.4" fill="#A9D18E" />
<rect x="410.8" y="442" width="3" height="34.6" fill="#558ED5" />
<rect x="410.8" y="476.6" width="3" height="29.4" fill="#A9D18E" />
<rect x="412.79" y="442" width="3" height="43.5" fill="#558ED5" />
<rect x="412.79" y="485.5" width="3" height="20.5" fill="#A9D18E" />
<rect x="414.79" y="442" width="3" height="34.9" fill="#558ED5" />
<rect x="414.79" y="476.9" width="3" height="29.1" fill="#A9D18E" />
<rect x="416.78" y="442" width="2.99" height="38.7" fill="#558ED5" />
<rect x="416.78" y="480.7" width="2.99" height="25.3" fill="#A9D18E" />
<rect x="418.77" y="442" width="3" height="33.4" fill="#558ED5" />
<rect x="418.77" y="475.4" width="3" height="30.6" fill="#A9D18E" />
<rect x="420.77" y="442" width="3" height="26.7" fill="#558ED5" />
<rect x="420.77" y="468.7" width="3" height="37.3" fill="#A9D18E" />
<rect x="422.76" y="442" width="3" height="25.2" fill="#558ED5" />
<rect x="422.76" y="467.2" width="3" height="38.8" fill="#A9D18E" />
<rect x="424.76" y="442" width="3" height="33.1" fill="#558ED5" />
<rect x="424.76" y="475.1" width="3" height="30.9" fill="#A9D18E" />
<rect x="426.75" y="442" width="3" height="36.8" fill="#558ED5" />
<rect x="426.75" y="478.8" width="3" height="27.2" fill="#A9D18E" />
<rect x="428.75" y="442" width="3" height="32.9" fill="#558ED5" />
<rect x="428.75" y="474.9" width="3" height="31.1" fill="#A9D18E" />
<rect x="430.75" y="442" width="3" height="32.2" fill="#558ED5" />
<rect x="430.75" y="474.2" width="3" height="31.8" fill="#A9D18E" />
<rect x="432.74" y="442" width="3" height="34.2" fill="#558ED5" />
<rect x="432.74" y="476.2" width="3" height="29.8" fill="#A9D18E" />
<rect x="434.74" y="442" width="3" height="34.9" fill="#558ED5" />
<rect x="434.74" y="476.9" width="3" height="29.1" fill="#A9D18E" />
<rect x="436.73" y="442" width="3" height="37.9" fill="#558ED5" />
<rect x="436.73" y="479.9" width="3" height="26.1" fill="#A9D18E" />
<rect x="438.73" y="442" width="2.99" height="29.5" fill="#558ED5" />
<rect x="438.73" y="471.5" width="2.99" height="34.5" fill="#A9D18E" />
<rect x="440.72" y="442" width="3" height="32.3" fill="#558ED5" />
<rect x="440.72" y="474.3" width="3" height="31.7" fill="#A9D18E" />
<rect x="442.71" y="442" width="3" height="30.1" fill="#558ED5" />
<rect x="442.71" y="472.1" width="3" height="33.9" fill="#A9D18E" />
<rect x="444.71" y="442" width="3" height="27.1" fill="#558ED5" />
<rect x="444.71" y="469.1" width="3" height="36.9" fill="#A9D18E" />
<rect x="446.7" y="442" width="3" height="30.1" fill="#558ED5" />
<rect x="446.7" y="472.1" width="3" height="33.9" fill="#A9D18E" />
<rect x="448.7" y="442" width="3.01" height="25" fill="#558ED5" />
<rect x="448.7" y="467" width="3.01" height="39" fill="#A9D18E" />
<rect x="450.71" y="442" width="3.01" height="25.4" fill="#558ED5" />
<rect x="450.71" y="467.4" width="3.01" height="38.6" fill="#A9D18E" />
<rect x="452.72" y="442" width="3.01" height="19.3" fill="#558ED5" />
<rect x="452.72" y="461.3" width="3.01" height="44.7" fill="#A9D18E" />
<rect x="454.73" y="442" width="3.01" height="22.1" fill="#558ED5" />
<rect x="454.73" y="464.1" width="3.01" height="41.9" fill="#A9D18E" />
<rect x="456.74" y="442" width="3.01" height="23.8" fill="#558ED5" />
<rect x="456.74" y="465.8" width="3.01" height="40.2" fill="#A9D18E" />
<rect x="458.75" y="442" width="3.01" height="24.6" fill="#558ED5" />
<rect x="458.75" y="466.6" width="3.01" height="39.4" fill="#A9D18E" />
<rect x="460.76" y="442" width="3.01" height="12.3" fill="#558ED5" />
<rect x="460.76" y="454.3" width="3.01" height="51.7" fill="#A9D18E" />
<rect x="462.77" y="442" width="3.01" height="20.1" fill="#558ED5" />
<rect x="462.77" y="462.1" width="3.01" height="43.9" fill="#A9D18E" />
<rect x="464.78" y="442" width="3.01" height="13.1" fill="#558ED5" />
<rect x="464.78" y="455.1" width="3.01" height="50.9" fill="#A9D18E" />
<rect x="466.79" y="442" width="3.01" height="19.7" fill="#558ED5" />
<rect x="466.79" y="461.7" width="3.01" height="44.3" fill="#A9D18E" />
<rect x="468.8" y="442" width="3.01" height="24.2" fill="#558ED5" />
<rect x="468.8" y="466.2" width="3.01" height="39.8" fill="#A9D18E" />
<rect x="470.81" y="442" width="3.01" height="26.2" fill="#558ED5" />
<rect x="470.81" y="468.2" width="3.01" height="37.8" fill="#A9D18E" />
<rect x="472.82" y="442" width="3.01" height="13.1" fill="#558ED5" />
<rect x="472.82" y="455.1" width="3.01" height="50.9" fill="#A9D18E" />
<rect x="474.82" y="442" width="3.01" height="22.5" fill="#558ED5" />
<rect x="474.82" y="464.5" width="3.01" height="41.5" fill="#A9D18E" />
<rect x="476.83" y="442" width="3.01" height="13.1" fill="#558ED5" />
<rect x="476.83" y="455.1" width="3.01" height="50.9" fill="#A9D18E" />
<rect x="478.84" y="442" width="3.01" height="17.2" fill="#558ED5" />
<rect x="478.84" y="459.2" width="3.01" height="46.8" fill="#A9D18E" />
<rect x="480.85" y="442" width="3.01" height="32.8" fill="#558ED5" />
<rect x="480.85" y="474.8" width="3.01" height="31.2" fill="#A9D18E" />
<rect x="482.86" y="442" width="3.01" height="12.3" fill="#558ED5" />
<rect x="482.86" y="454.3" width="3.01" height="51.7" fill="#A9D18E" />
<rect x="484.87" y="442" width="3.01" height="16.4" fill="#558ED5" />
<rect x="484.87" y="458.4" width="3.01" height="47.6" fill="#A9D18E" />
<rect x="486.88" y="442" width="3.01" height="20.1" fill="#558ED5" />
<rect x="486.88" y="462.1" width="3.01" height="43.9" fill="#A9D18E" />
<rect x="488.89" y="442" width="3.01" height="29.5" fill="#558ED5" />
<rect x="488.89" y="471.5" width="3.01" height="34.5" fill="#A9D18E" />
<rect x="490.9" y="442" width="3.01" height="12.3" fill="#558ED5" />
<rect x="490.9" y="454.3" width="3.01" height="51.7" fill="#A9D18E" />
<rect x="492.91" y="442" width="3.01" height="10.3" fill="#558ED5" />
<rect x="492.91" y="452.3" width="3.01" height="53.7" fill="#A9D18E" />
<rect x="494.92" y="442" width="3.01" height="24.2" fill="#558ED5" />
<rect x="494.92" y="466.2" width="3.01" height="39.8" fill="#A9D18E" />
<rect x="496.93" y="442" width="3.01" height="15.6" fill="#558ED5" />
<rect x="496.93" y="457.6" width="3.01" height="48.4" fill="#A9D18E" />
<rect x="498.94" y="442" width="3.01" height="16.8" fill="#558ED5" />
<rect x="498.94" y="458.8" width="3.01" height="47.2" fill="#A9D18E" />
<rect x="500.95" y="442" width="3.01" height="17.2" fill="#558ED5" />
<rect x="500.95" y="459.2" width="3.01" height="46.8" fill="#A9D18E" />
<rect x="502.96" y="442" width="3.01" height="22.1" fill="#558ED5" />
<rect x="502.96" y="464.1" width="3.01" height="41.9" fill="#A9D18E" />
<rect x="504.97" y="442" width="3.01" height="22.9" fill="#558ED5" />
<rect x="504.97" y="464.9" width="3.01" height="41.1" fill="#A9D18E" />
<rect x="506.98" y="442" width="3.01" height="28.7" fill="#558ED5" />
<rect x="506.98" y="470.7" width="3.01" height="35.3" fill="#A9D18E" />
<rect x="508.99" y="442" width="3.01" height="17.2" fill="#558ED5" />
<rect x="508.99" y="459.2" width="3.01" height="46.8" fill="#A9D18E" />
<rect x="511" y="442" width="3.01" height="9.4" fill="#558ED5" />
<rect x="511" y="451.4" width="3.01" height="54.6" fill="#A9D18E" />
<rect x="513.01" y="442" width="3.01" height="14.8" fill="#558ED5" />
<rect x="513.01" y="456.8" width="3.01" height="49.2" fill="#A9D18E" />
<rect x="515.02" y="442" width="3.01" height="11.1" fill="#558ED5" />
<rect x="515.02" y="453.1" width="3.01" height="52.9" fill="#A9D18E" />
<rect x="517.03" y="442" width="3.01" height="12.7" fill="#558ED5" />
<rect x="517.03" y="454.7" width="3.01" height="51.3" fill="#A9D18E" />
<rect x="519.04" y="442" width="3.01" height="26.6" fill="#558ED5" />
<rect x="519.04" y="468.6" width="3.01" height="37.4" fill="#A9D18E" />
<rect x="521.05" y="442" width="3.01" height="16.8" fill="#558ED5" />
<rect x="521.05" y="458.8" width="3.01" height="47.2" fill="#A9D18E" />
<rect x="523.06" y="442" width="3.01" height="12.3" fill="#558ED5" />
<rect x="523.06" y="454.3" width="3.01" height="51.7" fill="#A9D18E" />
<rect x="525.07" y="442" width="3.01" height="16" fill="#558ED5" />
<rect x="525.07" y="458" width="3.01" height="48" fill="#A9D18E" />
<rect x="527.08" y="442" width="3.01" height="19.7" fill="#558ED5" />
<rect x="527.08" y="461.7" width="3.01" height="44.3" fill="#A9D18E" />
<rect x="529.08" y="442" width="3.01" height="16.4" fill="#558ED5" />
<rect x="529.08" y="458.4" width="3.01" height="47.6" fill="#A9D18E" />
<rect x="531.09" y="442" width="3.01" height="18.4" fill="#558ED5" />
<rect x="531.09" y="460.4" width="3.01" height="45.6" fill="#A9D18E" />
<rect x="533.1" y="442" width="3.01" height="30.7" fill="#558ED5" />
<rect x="533.1" y="472.7" width="3.01" height="33.3" fill="#A9D18E" />
<rect x="535.11" y="442" width="3.01" height="17.2" fill="#558ED5" />
<rect x="535.11" y="459.2" width="3.01" height="46.8" fill="#A9D18E" />
<rect x="537.12" y="442" width="3.01" height="21.3" fill="#558ED5" />
<rect x="537.12" y="463.3" width="3.01" height="42.7" fill="#A9D18E" />
<rect x="539.13" y="442" width="3.01" height="22.5" fill="#558ED5" />
<rect x="539.13" y="464.5" width="3.01" height="41.5" fill="#A9D18E" />
<rect x="541.14" y="442" width="3.01" height="20.1" fill="#558ED5" />
<rect x="541.14" y="462.1" width="3.01" height="43.9" fill="#A9D18E" />
<rect x="543.15" y="442" width="3.01" height="19.7" fill="#558ED5" />
<rect x="543.15" y="461.7" width="3.01" height="44.3" fill="#A9D18E" />
<rect x="545.16" y="442" width="3.01" height="12.3" fill="#558ED5" />
<rect x="545.16" y="454.3" width="3.01" height="51.7" fill="#A9D18E" />
<rect x="547.17" y="442" width="3.01" height="19.3" fill="#558ED5" />
<rect x="547.17" y="461.3" width="3.01" height="44.7" fill="#A9D18E" />
<rect x="549.18" y="442" width="3.01" height="21.7" fill="#558ED5" />
<rect x="549.18" y="463.7" width="3.01" height="42.3" fill="#A9D18E" />
<rect x="551.19" y="442" width="3.01" height="16" fill="#558ED5" />
<rect x="551.19" y="458" width="3.01" height="48" fill="#A9D18E" />
<rect x="553.2" y="442" width="3.01" height="63.57" fill="#558ED5" />
<rect x="553.2" y="505.57" width="3.01" height="0.43" fill="#A9D18E" />
<rect x="555.21" y="442" width="3.01" height="63.87" fill="#558ED5" />
<rect x="555.21" y="505.87" width="3.01" height="0.13" fill="#A9D18E" />
<rect x="557.23" y="442" width="3.01" height="63.37" fill="#558ED5" />
<rect x="557.23" y="505.37" width="3.01" height="0.63" fill="#A9D18E" />
<rect x="559.24" y="442" width="3.01" height="63.92" fill="#558ED5" />
<rect x="559.24" y="505.92" width="3.01" height="0.08" fill="#A9D18E" />
<rect x="561.25" y="442" width="3.01" height="63.48" fill="#558ED5" />
<rect x="561.25" y="505.48" width="3.01" height="0.52" fill="#A9D18E" />
<rect x="563.26" y="442" width="3.01" height="63.3" fill="#558ED5" />
<rect x="563.26" y="505.3" width="3.01" height="0.7" fill="#A9D18E" />
<rect x="565.28" y="442" width="3.01" height="63.26" fill="#558ED5" />
<rect x="565.28" y="505.26" width="3.01" height="0.74" fill="#A9D18E" />
<rect x="567.29" y="442" width="3.01" height="64" fill="#558ED5" />
<rect x="567.29" y="506" width="3.01" height="0" fill="#A9D18E" />
<rect x="569.3" y="442" width="3.01" height="63.55" fill="#558ED5" />
<rect x="569.3" y="505.55" width="3.01" height="0.45" fill="#A9D18E" />
<rect x="571.32" y="442" width="3.01" height="64" fill="#558ED5" />
<rect x="571.32" y="506" width="3.01" height="0" fill="#A9D18E" />
<rect x="573.33" y="442" width="3.01" height="64" fill="#558ED5" />
<rect x="573.33" y="506" width="3.01" height="0" fill="#A9D18E" />
<rect x="575.34" y="442" width="3.01" height="64" fill="#558ED5" />
<rect x="575.34" y="506" width="3.01" height="0" fill="#A9D18E" />
<rect x="577.35" y="442" width="3.01" height="63.47" fill="#558ED5" />
<rect x="577.35" y="505.47" width="3.01" height="0.53" fill="#A9D18E" />
<rect x="579.37" y="442" width="3.01" height="64" fill="#558ED5" />
<rect x="579.37" y="506" width="3.01" height="0" fill="#A9D18E" />
<rect x="581.38" y="442" width="3.01" height="63.91" fill="#558ED5" />
<rect x="581.38" y="505.91" width="3.01" height="0.09" fill="#A9D18E" />
<rect x="583.39" y="442" width="3.01" height="63.98" fill="#558ED5" />
<rect x="583.39" y="505.98" width="3.01" height="0.02" fill="#A9D18E" />
<rect x="585.41" y="442" width="3.01" height="63.91" fill="#558ED5" />
<rect x="585.41" y="505.91" width="3.01" height="0.09" fill="#A9D18E" />
<rect x="587.42" y="442" width="3.01" height="64" fill="#558ED5" />
<rect x="587.42" y="506" width="3.01" height="0" fill="#A9D18E" />
<rect x="589.43" y="442" width="3.01" height="63.81" fill="#558ED5" />
<rect x="589.43" y="505.81" width="3.01" height="0.19" fill="#A9D18E" />
<rect x="591.45" y="442" width="3.01" height="63.18" fill="#558ED5" />
<rect x="591.45" y="505.18" width="3.01" height="0.82" fill="#A9D18E" />
<rect x="593.46" y="442" width="3.01" height="63.88" fill="#558ED5" />
<rect x="593.46" y="505.88" width="3.01" height="0.12" fill="#A9D18E" />
<rect x="595.47" y="442" width="3.01" height="63.69" fill="#558ED5" />
<rect x="595.47" y="505.69" width="3.01" height="0.31" fill="#A9D18E" />
<rect x="597.48" y="442" width="3.01" height="63.5" fill="#558ED5" />
<rect x="597.48" y="505.5" width="3.01" height="0.5" fill="#A9D18E" />
<rect x="599.5" y="442" width="3.01" height="63.98" fill="#558ED5" />
<rect x="599.5" y="505.98" width="3.01" height="0.02" fill="#A9D18E" />
<rect x="601.51" y="442" width="3.01" height="64" fill="#558ED5" />
<rect x="601.51" y="506" width="3.01" height="0" fill="#A9D18E" />
<rect x="603.52" y="442" width="3.01" height="64" fill="#558ED5" />
<rect x="603.52" y="506" width="3.01" height="0" fill="#A9D18E" />
<rect x="605.54" y="442" width="3.01" height="63.47" fill="#558ED5" />
<rect x="605.54" y="505.47" width="3.01" height="0.53" fill="#A9D18E" />
<rect x="607.55" y="442" width="3.01" height="64" fill="#558ED5" />
<rect x="607.55" y="506" width="3.01" height="0" fill="#A9D18E" />
<rect x="609.56" y="442" width="3.01" height="64" fill="#558ED5" />
<rect x="609.56" y="506" width="3.01" height="0" fill="#A9D18E" />
<rect x="611.57" y="442" width="3.01" height="63.5" fill="#558ED5" />
<rect x="611.57" y="505.5" width="3.01" height="0.5" fill="#A9D18E" />
<rect x="613.59" y="442" width="3.01" height="63.58" fill="#558ED5" />
<rect x="613.59" y="505.58" width="3.01" height="0.42" fill="#A9D18E" />
<rect x="615.6" y="442" width="3.01" height="63.9" fill="#558ED5" />
<rect x="615.6" y="505.9" width="3.01" height="0.1" fill="#A9D18E" />
<rect x="617.61" y="442" width="3.01" height="63.58" fill="#558ED5" />
<rect x="617.61" y="505.58" width="3.01" height="0.42" fill="#A9D18E" />
<rect x="619.63" y="442" width="3.01" height="63.83" fill="#558ED5" />
<rect x="619.63" y="505.83" width="3.01" height="0.17" fill="#A9D18E" />
<rect x="621.64" y="442" width="3.01" height="64" fill="#558ED5" />
<rect x="621.64" y="506" width="3.01" height="0" fill="#A9D18E" />
<rect x="623.65" y="442" width="3.01" height="64" fill="#558ED5" />
<rect x="623.65" y="506" width="3.01" height="0" fill="#A9D18E" />
<rect x="625.66" y="442" width="3.01" height="64" fill="#558ED5" />
<rect x="625.66" y="506" width="3.01" height="0" fill="#A9D18E" />
<rect x="627.68" y="442" width="3.01" height="63.53" fill="#558ED5" />
<rect x="627.68" y="505.53" width="3.01" height="0.47" fill="#A9D18E" />
<rect x="629.69" y="442" width="3.01" height="64" fill="#558ED5" />
<rect x="629.69" y="506" width="3.01" height="0" fill="#A9D18E" />
<rect x="631.7" y="442" width="3.01" height="64" fill="#558ED5" />
<rect x="631.7" y="506" width="3.01" height="0" fill="#A9D18E" />
<rect x="633.72" y="442" width="3.01" height="64" fill="#558ED5" />
<rect x="633.72" y="506" width="3.01" height="0" fill="#A9D18E" />
<rect x="635.73" y="442" width="3.01" height="64" fill="#558ED5" />
<rect x="635.73" y="506" width="3.01" height="0" fill="#A9D18E" />
<rect x="637.74" y="442" width="3.01" height="63.95" fill="#558ED5" />
<rect x="637.74" y="505.95" width="3.01" height="0.05" fill="#A9D18E" />
<rect x="639.75" y="442" width="3.01" height="64" fill="#558ED5" />
<rect x="639.75" y="506" width="3.01" height="0" fill="#A9D18E" />
<rect x="641.77" y="442" width="3.01" height="63.75" fill="#558ED5" />
<rect x="641.77" y="505.75" width="3.01" height="0.25" fill="#A9D18E" />
<rect x="643.78" y="442" width="3.01" height="64" fill="#558ED5" />
<rect x="643.78" y="506" width="3.01" height="0" fill="#A9D18E" />
<rect x="645.79" y="442" width="3.01" height="63.77" fill="#558ED5" />
<rect x="645.79" y="505.77" width="3.01" height="0.23" fill="#A9D18E" />
<rect x="647.81" y="442" width="3.01" height="64" fill="#558ED5" />
<rect x="647.81" y="506" width="3.01" height="0" fill="#A9D18E" />
<rect x="649.82" y="442" width="3.01" height="64" fill="#558ED5" />
<rect x="649.82" y="506" width="3.01" height="0" fill="#A9D18E" />
<rect x="651.83" y="442" width="3.01" height="63.61" fill="#558ED5" />
<rect x="651.83" y="505.61" width="3.01" height="0.39" fill="#A9D18E" />
<rect x="653.85" y="442" width="3.01" height="64" fill="#558ED5" />
<rect x="653.85" y="506" width="3.01" height="0" fill="#A9D18E" />
<rect x="655.86" y="442" width="3.01" height="64" fill="#558ED5" />
<rect x="655.86" y="506" width="3.01" height="0" fill="#A9D18E" />
<rect x="657.87" y="442" width="3.01" height="64" fill="#558ED5" />
<rect x="657.87" y="506" width="3.01" height="0" fill="#A9D18E" />
<rect x="659.88" y="442" width="3.01" height="63.78" fill="#558ED5" />
<rect x="659.88" y="505.78" width="3.01" height="0.22" fill="#A9D18E" />
<rect x="661.9" y="442" width="3.01" height="64" fill="#558ED5" />
<rect x="661.9" y="506" width="3.01" height="0" fill="#A9D18E" />
<rect x="663.91" y="442" width="3.01" height="63.59" fill="#558ED5" />
<rect x="663.91" y="505.59" width="3.01" height="0.41" fill="#A9D18E" />
<rect x="665.92" y="442" width="3.01" height="63.6" fill="#558ED5" />
<rect x="665.92" y="505.6" width="3.01" height="0.4" fill="#A9D18E" />
<rect x="667.94" y="442" width="3.01" height="63.63" fill="#558ED5" />
<rect x="667.94" y="505.63" width="3.01" height="0.37" fill="#A9D18E" />
<rect x="669.95" y="442" width="3.01" height="63.77" fill="#558ED5" />
<rect x="669.95" y="505.77" width="3.01" height="0.23" fill="#A9D18E" />
<rect x="671.96" y="442" width="3.01" height="63.37" fill="#558ED5" />
<rect x="671.96" y="505.37" width="3.01" height="0.63" fill="#A9D18E" />
<rect x="673.97" y="442" width="3.01" height="63.64" fill="#558ED5" />
<rect x="673.97" y="505.64" width="3.01" height="0.36" fill="#A9D18E" />
<rect x="675.99" y="442" width="2.01" height="63.72" fill="#558ED5" />
<rect x="675.99" y="505.72" width="2.01" height="0.28" fill="#A9D18E" />
<line x1="110.4" y1="442" x2="110.4" y2="506" stroke="#000000" stroke-width="1" stroke-opacity="0.42"/>
<line x1="169.9" y1="442" x2="169.9" y2="506" stroke="#000000" stroke-width="1" stroke-opacity="0.42"/>
<line x1="215.8" y1="442" x2="215.8" y2="506" stroke="#000000" stroke-width="1" stroke-opacity="0.42"/>
<line x1="274.6" y1="442" x2="274.6" y2="506" stroke="#000000" stroke-width="1" stroke-opacity="0.42"/>
<line x1="331.8" y1="442" x2="331.8" y2="506" stroke="#000000" stroke-width="1" stroke-opacity="0.42"/>
<line x1="408.8" y1="442" x2="408.8" y2="506" stroke="#000000" stroke-width="1" stroke-opacity="0.42"/>
<line x1="448.7" y1="442" x2="448.7" y2="506" stroke="#000000" stroke-width="1" stroke-opacity="0.42"/>
<line x1="553.2" y1="442" x2="553.2" y2="506" stroke="#000000" stroke-width="1" stroke-opacity="0.42"/>
<rect x="76" y="441" width="603" height="66" fill="none" stroke="#000" stroke-width="2"/>
<rect x="77" y="512.5" width="601" height="64.2" fill="#A9D18E" />
<rect x="77" y="512.5" width="2.96" height="23.2" fill="#FFF200" />
<rect x="77" y="535.7" width="2.96" height="41" fill="#A9D18E" />
<rect x="78.96" y="512.5" width="2.96" height="2.5" fill="#FFF200" />
<rect x="78.96" y="515" width="2.96" height="0.58" fill="#558ED5" />
<rect x="78.96" y="515.58" width="2.96" height="61.12" fill="#A9D18E" />
<rect x="80.93" y="512.5" width="2.96" height="2" fill="#FFF200" />
<rect x="80.93" y="514.5" width="2.96" height="0.13" fill="#558ED5" />
<rect x="80.93" y="514.63" width="2.96" height="62.07" fill="#A9D18E" />
<rect x="82.89" y="512.5" width="2.96" height="2" fill="#FFF200" />
<rect x="82.89" y="514.5" width="2.96" height="62.2" fill="#A9D18E" />
<rect x="84.86" y="512.5" width="2.96" height="0.14" fill="#FFF200" />
<rect x="84.86" y="512.64" width="2.96" height="0.86" fill="#558ED5" />
<rect x="84.86" y="513.49" width="2.96" height="63.21" fill="#A9D18E" />
<rect x="86.82" y="512.5" width="2.96" height="49.2" fill="#FFF200" />
<rect x="86.82" y="561.7" width="2.96" height="0.42" fill="#558ED5" />
<rect x="86.82" y="562.12" width="2.96" height="14.58" fill="#A9D18E" />
<rect x="88.79" y="512.5" width="2.96" height="28.3" fill="#FFF200" />
<rect x="88.79" y="540.8" width="2.96" height="0.22" fill="#558ED5" />
<rect x="88.79" y="541.02" width="2.96" height="35.68" fill="#A9D18E" />
<rect x="90.75" y="512.5" width="2.96" height="2" fill="#FFF200" />
<rect x="90.75" y="514.5" width="2.96" height="0.48" fill="#558ED5" />
<rect x="90.75" y="514.98" width="2.96" height="61.72" fill="#A9D18E" />
<rect x="92.72" y="512.5" width="2.96" height="2.5" fill="#FFF200" />
<rect x="92.72" y="515" width="2.96" height="0.23" fill="#558ED5" />
<rect x="92.72" y="515.23" width="2.96" height="61.47" fill="#A9D18E" />
<rect x="94.68" y="512.5" width="2.96" height="10.1" fill="#FFF200" />
<rect x="94.68" y="522.6" width="2.96" height="0.46" fill="#558ED5" />
<rect x="94.68" y="523.06" width="2.96" height="53.64" fill="#A9D18E" />
<rect x="96.65" y="512.5" width="2.96" height="4.5" fill="#FFF200" />
<rect x="96.65" y="517" width="2.96" height="0.2" fill="#558ED5" />
<rect x="96.65" y="517.2" width="2.96" height="59.5" fill="#A9D18E" />
<rect x="98.61" y="512.5" width="2.96" height="8.3" fill="#FFF200" />
<rect x="98.61" y="520.8" width="2.96" height="0.16" fill="#558ED5" />
<rect x="98.61" y="520.96" width="2.96" height="55.74" fill="#A9D18E" />
<rect x="100.58" y="512.5" width="2.96" height="0.17" fill="#FFF200" />
<rect x="100.58" y="512.67" width="2.96" height="0.28" fill="#558ED5" />
<rect x="100.58" y="512.95" width="2.96" height="63.75" fill="#A9D18E" />
<rect x="102.54" y="512.5" width="2.96" height="1.93" fill="#FFF200" />
<rect x="102.54" y="514.43" width="2.96" height="62.27" fill="#A9D18E" />
<rect x="104.51" y="512.5" width="2.96" height="0.92" fill="#FFF200" />
<rect x="104.51" y="513.42" width="2.96" height="0.53" fill="#558ED5" />
<rect x="104.51" y="513.95" width="2.96" height="62.75" fill="#A9D18E" />
<rect x="106.47" y="512.5" width="2.96" height="0.91" fill="#FFF200" />
<rect x="106.47" y="513.41" width="2.96" height="63.29" fill="#A9D18E" />
<rect x="108.44" y="512.5" width="2.96" height="1.44" fill="#FFF200" />
<rect x="108.44" y="513.94" width="2.96" height="0.37" fill="#558ED5" />
<rect x="108.44" y="514.31" width="2.96" height="62.39" fill="#A9D18E" />
<rect x="110.4" y="512.5" width="2.98" height="0.28" fill="#FFF200" />
<rect x="110.4" y="512.78" width="2.98" height="1.46" fill="#558ED5" />
<rect x="110.4" y="514.24" width="2.98" height="62.46" fill="#A9D18E" />
<rect x="112.38" y="512.5" width="2.98" height="41.9" fill="#FFF200" />
<rect x="112.38" y="554.4" width="2.98" height="1.51" fill="#558ED5" />
<rect x="112.38" y="555.91" width="2.98" height="20.79" fill="#A9D18E" />
<rect x="114.37" y="512.5" width="2.98" height="0.4" fill="#FFF200" />
<rect x="114.37" y="512.9" width="2.98" height="1.82" fill="#558ED5" />
<rect x="114.37" y="514.72" width="2.98" height="61.98" fill="#A9D18E" />
<rect x="116.35" y="512.5" width="2.98" height="0.7" fill="#FFF200" />
<rect x="116.35" y="513.2" width="2.98" height="0.78" fill="#558ED5" />
<rect x="116.35" y="513.98" width="2.98" height="62.72" fill="#A9D18E" />
<rect x="118.33" y="512.5" width="2.98" height="2.29" fill="#558ED5" />
<rect x="118.33" y="514.79" width="2.98" height="61.91" fill="#A9D18E" />
<rect x="120.32" y="512.5" width="2.98" height="0.39" fill="#FFF200" />
<rect x="120.32" y="512.89" width="2.98" height="0.8" fill="#558ED5" />
<rect x="120.32" y="513.69" width="2.98" height="63.01" fill="#A9D18E" />
<rect x="122.3" y="512.5" width="2.98" height="0.18" fill="#FFF200" />
<rect x="122.3" y="512.68" width="2.98" height="1.31" fill="#558ED5" />
<rect x="122.3" y="513.99" width="2.98" height="62.71" fill="#A9D18E" />
<rect x="124.28" y="512.5" width="2.98" height="0.94" fill="#FFF200" />
<rect x="124.28" y="513.44" width="2.98" height="0.62" fill="#558ED5" />
<rect x="124.28" y="514.05" width="2.98" height="62.65" fill="#A9D18E" />
<rect x="126.27" y="512.5" width="2.98" height="1.82" fill="#558ED5" />
<rect x="126.27" y="514.32" width="2.98" height="62.38" fill="#A9D18E" />
<rect x="128.25" y="512.5" width="2.98" height="0.81" fill="#FFF200" />
<rect x="128.25" y="513.31" width="2.98" height="0.39" fill="#558ED5" />
<rect x="128.25" y="513.7" width="2.98" height="63" fill="#A9D18E" />
<rect x="130.23" y="512.5" width="2.98" height="0.85" fill="#FFF200" />
<rect x="130.23" y="513.35" width="2.98" height="1.79" fill="#558ED5" />
<rect x="130.23" y="515.14" width="2.98" height="61.56" fill="#A9D18E" />
<rect x="132.22" y="512.5" width="2.98" height="1.69" fill="#558ED5" />
<rect x="132.22" y="514.19" width="2.98" height="62.51" fill="#A9D18E" />
<rect x="134.2" y="512.5" width="2.98" height="1.36" fill="#558ED5" />
<rect x="134.2" y="513.86" width="2.98" height="62.84" fill="#A9D18E" />
<rect x="136.18" y="512.5" width="2.98" height="0.28" fill="#FFF200" />
<rect x="136.18" y="512.78" width="2.98" height="0.75" fill="#558ED5" />
<rect x="136.18" y="513.53" width="2.98" height="63.17" fill="#A9D18E" />
<rect x="138.17" y="512.5" width="2.98" height="0.08" fill="#FFF200" />
<rect x="138.17" y="512.58" width="2.98" height="1.51" fill="#558ED5" />
<rect x="138.17" y="514.1" width="2.98" height="62.6" fill="#A9D18E" />
<rect x="140.15" y="512.5" width="2.98" height="0.44" fill="#FFF200" />
<rect x="140.15" y="512.94" width="2.98" height="1.13" fill="#558ED5" />
<rect x="140.15" y="514.06" width="2.98" height="62.64" fill="#A9D18E" />
<rect x="142.13" y="512.5" width="2.98" height="0.49" fill="#FFF200" />
<rect x="142.13" y="512.99" width="2.98" height="1.43" fill="#558ED5" />
<rect x="142.13" y="514.42" width="2.98" height="62.28" fill="#A9D18E" />
<rect x="144.12" y="512.5" width="2.98" height="0.2" fill="#FFF200" />
<rect x="144.12" y="512.7" width="2.98" height="1.33" fill="#558ED5" />
<rect x="144.12" y="514.03" width="2.98" height="62.67" fill="#A9D18E" />
<rect x="146.1" y="512.5" width="2.98" height="0.31" fill="#FFF200" />
<rect x="146.1" y="512.81" width="2.98" height="1.67" fill="#558ED5" />
<rect x="146.1" y="514.49" width="2.98" height="62.21" fill="#A9D18E" />
<rect x="148.08" y="512.5" width="2.98" height="0.11" fill="#FFF200" />
<rect x="148.08" y="512.61" width="2.98" height="0.7" fill="#558ED5" />
<rect x="148.08" y="513.32" width="2.98" height="63.38" fill="#A9D18E" />
<rect x="150.07" y="512.5" width="2.98" height="0.27" fill="#FFF200" />
<rect x="150.07" y="512.77" width="2.98" height="1.2" fill="#558ED5" />
<rect x="150.07" y="513.97" width="2.98" height="62.73" fill="#A9D18E" />
<rect x="152.05" y="512.5" width="2.98" height="0.3" fill="#FFF200" />
<rect x="152.05" y="512.8" width="2.98" height="1.29" fill="#558ED5" />
<rect x="152.05" y="514.09" width="2.98" height="62.61" fill="#A9D18E" />
<rect x="154.03" y="512.5" width="2.98" height="0.26" fill="#FFF200" />
<rect x="154.03" y="512.76" width="2.98" height="9.4" fill="#558ED5" />
<rect x="154.03" y="522.16" width="2.98" height="54.54" fill="#A9D18E" />
<rect x="156.02" y="512.5" width="2.98" height="0.43" fill="#FFF200" />
<rect x="156.02" y="512.93" width="2.98" height="0.44" fill="#558ED5" />
<rect x="156.02" y="513.37" width="2.98" height="63.33" fill="#A9D18E" />
<rect x="158" y="512.5" width="2.98" height="0.43" fill="#FFF200" />
<rect x="158" y="512.93" width="2.98" height="1.83" fill="#558ED5" />
<rect x="158" y="514.76" width="2.98" height="61.94" fill="#A9D18E" />
<rect x="159.98" y="512.5" width="2.98" height="0.43" fill="#FFF200" />
<rect x="159.98" y="512.93" width="2.98" height="1.09" fill="#558ED5" />
<rect x="159.98" y="514.02" width="2.98" height="62.68" fill="#A9D18E" />
<rect x="161.97" y="512.5" width="2.98" height="0.62" fill="#558ED5" />
<rect x="161.97" y="513.12" width="2.98" height="63.58" fill="#A9D18E" />
<rect x="163.95" y="512.5" width="2.98" height="1.24" fill="#558ED5" />
<rect x="163.95" y="513.74" width="2.98" height="62.96" fill="#A9D18E" />
<rect x="165.93" y="512.5" width="2.98" height="1.64" fill="#558ED5" />
<rect x="165.93" y="514.14" width="2.98" height="62.56" fill="#A9D18E" />
<rect x="167.92" y="512.5" width="2.98" height="64.2" fill="#A9D18E" />
<rect x="169.9" y="512.5" width="3" height="0.19" fill="#FFF200" />
<rect x="169.9" y="512.69" width="3" height="1.23" fill="#558ED5" />
<rect x="169.9" y="513.92" width="3" height="62.78" fill="#A9D18E" />
<rect x="171.9" y="512.5" width="3" height="0.07" fill="#FFF200" />
<rect x="171.9" y="512.57" width="3" height="0.05" fill="#558ED5" />
<rect x="171.9" y="512.62" width="3" height="64.08" fill="#A9D18E" />
<rect x="173.89" y="512.5" width="3" height="0.45" fill="#FFF200" />
<rect x="173.89" y="512.95" width="3" height="0.81" fill="#558ED5" />
<rect x="173.89" y="513.76" width="3" height="62.94" fill="#A9D18E" />
<rect x="175.89" y="512.5" width="3" height="0.75" fill="#FFF200" />
<rect x="175.89" y="513.25" width="3" height="0.67" fill="#558ED5" />
<rect x="175.89" y="513.92" width="3" height="62.78" fill="#A9D18E" />
<rect x="177.88" y="512.5" width="3" height="0.29" fill="#FFF200" />
<rect x="177.88" y="512.79" width="3" height="0.88" fill="#558ED5" />
<rect x="177.88" y="513.68" width="3" height="63.02" fill="#A9D18E" />
<rect x="179.88" y="512.5" width="3" height="0.8" fill="#FFF200" />
<rect x="179.88" y="513.3" width="3" height="0.84" fill="#558ED5" />
<rect x="179.88" y="514.14" width="3" height="62.56" fill="#A9D18E" />
<rect x="181.87" y="512.5" width="3" height="0.61" fill="#FFF200" />
<rect x="181.87" y="513.11" width="3" height="0.99" fill="#558ED5" />
<rect x="181.87" y="514.1" width="3" height="62.6" fill="#A9D18E" />
<rect x="183.87" y="512.5" width="3" height="0.26" fill="#FFF200" />
<rect x="183.87" y="512.76" width="3" height="0.17" fill="#558ED5" />
<rect x="183.87" y="512.92" width="3" height="63.78" fill="#A9D18E" />
<rect x="185.87" y="512.5" width="3" height="0.21" fill="#FFF200" />
<rect x="185.87" y="512.71" width="3" height="0.89" fill="#558ED5" />
<rect x="185.87" y="513.6" width="3" height="63.1" fill="#A9D18E" />
<rect x="187.86" y="512.5" width="3" height="0.48" fill="#FFF200" />
<rect x="187.86" y="512.98" width="3" height="1.03" fill="#558ED5" />
<rect x="187.86" y="514.01" width="3" height="62.69" fill="#A9D18E" />
<rect x="189.86" y="512.5" width="3" height="0.24" fill="#FFF200" />
<rect x="189.86" y="512.74" width="3" height="0.96" fill="#558ED5" />
<rect x="189.86" y="513.7" width="3" height="63" fill="#A9D18E" />
<rect x="191.85" y="512.5" width="3" height="0.67" fill="#FFF200" />
<rect x="191.85" y="513.17" width="3" height="1.62" fill="#558ED5" />
<rect x="191.85" y="514.79" width="3" height="61.91" fill="#A9D18E" />
<rect x="193.85" y="512.5" width="3" height="0.33" fill="#FFF200" />
<rect x="193.85" y="512.83" width="3" height="0.51" fill="#558ED5" />
<rect x="193.85" y="513.34" width="3" height="63.36" fill="#A9D18E" />
<rect x="195.84" y="512.5" width="3" height="0.2" fill="#FFF200" />
<rect x="195.84" y="512.7" width="3" height="1.64" fill="#558ED5" />
<rect x="195.84" y="514.34" width="3" height="62.36" fill="#A9D18E" />
<rect x="197.84" y="512.5" width="3" height="0.59" fill="#FFF200" />
<rect x="197.84" y="513.09" width="3" height="0.95" fill="#558ED5" />
<rect x="197.84" y="514.04" width="3" height="62.66" fill="#A9D18E" />
<rect x="199.83" y="512.5" width="3" height="0.6" fill="#558ED5" />
<rect x="199.83" y="513.1" width="3" height="63.6" fill="#A9D18E" />
<rect x="201.83" y="512.5" width="3" height="0.41" fill="#FFF200" />
<rect x="201.83" y="512.91" width="3" height="0.68" fill="#558ED5" />
<rect x="201.83" y="513.58" width="3" height="63.12" fill="#A9D18E" />
<rect x="203.83" y="512.5" width="3" height="0.53" fill="#FFF200" />
<rect x="203.83" y="513.03" width="3" height="1.05" fill="#558ED5" />
<rect x="203.83" y="514.09" width="3" height="62.61" fill="#A9D18E" />
<rect x="205.82" y="512.5" width="3" height="0.56" fill="#FFF200" />
<rect x="205.82" y="513.06" width="3" height="0.61" fill="#558ED5" />
<rect x="205.82" y="513.67" width="3" height="63.03" fill="#A9D18E" />
<rect x="207.82" y="512.5" width="3" height="0.36" fill="#FFF200" />
<rect x="207.82" y="512.86" width="3" height="0.82" fill="#558ED5" />
<rect x="207.82" y="513.68" width="3" height="63.02" fill="#A9D18E" />
<rect x="209.81" y="512.5" width="3" height="0.23" fill="#FFF200" />
<rect x="209.81" y="512.73" width="3" height="0.62" fill="#558ED5" />
<rect x="209.81" y="513.35" width="3" height="63.35" fill="#A9D18E" />
<rect x="211.81" y="512.5" width="3" height="0.87" fill="#558ED5" />
<rect x="211.81" y="513.37" width="3" height="63.33" fill="#A9D18E" />
<rect x="213.8" y="512.5" width="3" height="0.3" fill="#FFF200" />
<rect x="213.8" y="512.8" width="3" height="0.35" fill="#558ED5" />
<rect x="213.8" y="513.15" width="3" height="63.55" fill="#A9D18E" />
<rect x="215.8" y="512.5" width="3.03" height="42.1" fill="#FFF200" />
<rect x="215.8" y="554.6" width="3.03" height="22.1" fill="#A9D18E" />
<rect x="217.83" y="512.5" width="3.03" height="1.05" fill="#FFF200" />
<rect x="217.83" y="513.55" width="3.03" height="63.15" fill="#A9D18E" />
<rect x="219.86" y="512.5" width="3.03" height="52.5" fill="#FFF200" />
<rect x="219.86" y="565" width="3.03" height="0.83" fill="#558ED5" />
<rect x="219.86" y="565.83" width="3.03" height="10.87" fill="#A9D18E" />
<rect x="221.88" y="512.5" width="3.03" height="3" fill="#FFF200" />
<rect x="221.88" y="515.5" width="3.03" height="0.58" fill="#558ED5" />
<rect x="221.88" y="516.08" width="3.03" height="60.62" fill="#A9D18E" />
<rect x="223.91" y="512.5" width="3.03" height="3.06" fill="#FFF200" />
<rect x="223.91" y="515.56" width="3.03" height="61.14" fill="#A9D18E" />
<rect x="225.94" y="512.5" width="3.03" height="6.7" fill="#FFF200" />
<rect x="225.94" y="519.2" width="3.03" height="0.81" fill="#558ED5" />
<rect x="225.94" y="520.01" width="3.03" height="56.69" fill="#A9D18E" />
<rect x="227.97" y="512.5" width="3.03" height="6" fill="#FFF200" />
<rect x="227.97" y="518.5" width="3.03" height="0.25" fill="#558ED5" />
<rect x="227.97" y="518.75" width="3.03" height="57.95" fill="#A9D18E" />
<rect x="229.99" y="512.5" width="3.03" height="4" fill="#FFF200" />
<rect x="229.99" y="516.5" width="3.03" height="60.2" fill="#A9D18E" />
<rect x="232.02" y="512.5" width="3.03" height="3.5" fill="#FFF200" />
<rect x="232.02" y="516" width="3.03" height="0.97" fill="#558ED5" />
<rect x="232.02" y="516.97" width="3.03" height="59.73" fill="#A9D18E" />
<rect x="234.05" y="512.5" width="3.03" height="22" fill="#FFF200" />
<rect x="234.05" y="534.5" width="3.03" height="0.58" fill="#558ED5" />
<rect x="234.05" y="535.08" width="3.03" height="41.62" fill="#A9D18E" />
<rect x="236.08" y="512.5" width="3.03" height="40.8" fill="#FFF200" />
<rect x="236.08" y="553.3" width="3.03" height="23.4" fill="#A9D18E" />
<rect x="238.1" y="512.5" width="3.03" height="1.1" fill="#FFF200" />
<rect x="238.1" y="513.6" width="3.03" height="0.17" fill="#558ED5" />
<rect x="238.1" y="513.77" width="3.03" height="62.93" fill="#A9D18E" />
<rect x="240.13" y="512.5" width="3.03" height="3" fill="#FFF200" />
<rect x="240.13" y="515.5" width="3.03" height="61.2" fill="#A9D18E" />
<rect x="242.16" y="512.5" width="3.03" height="2.5" fill="#FFF200" />
<rect x="242.16" y="515" width="3.03" height="0.7" fill="#558ED5" />
<rect x="242.16" y="515.7" width="3.03" height="61" fill="#A9D18E" />
<rect x="244.19" y="512.5" width="3.03" height="17.2" fill="#FFF200" />
<rect x="244.19" y="529.7" width="3.03" height="0.88" fill="#558ED5" />
<rect x="244.19" y="530.58" width="3.03" height="46.12" fill="#A9D18E" />
<rect x="246.21" y="512.5" width="3.03" height="3" fill="#FFF200" />
<rect x="246.21" y="515.5" width="3.03" height="1.07" fill="#558ED5" />
<rect x="246.21" y="516.57" width="3.03" height="60.13" fill="#A9D18E" />
<rect x="248.24" y="512.5" width="3.03" height="25.2" fill="#FFF200" />
<rect x="248.24" y="537.7" width="3.03" height="0.4" fill="#558ED5" />
<rect x="248.24" y="538.1" width="3.03" height="38.6" fill="#A9D18E" />
<rect x="250.27" y="512.5" width="3.03" height="4" fill="#FFF200" />
<rect x="250.27" y="516.5" width="3.03" height="0.17" fill="#558ED5" />
<rect x="250.27" y="516.67" width="3.03" height="60.03" fill="#A9D18E" />
<rect x="252.3" y="512.5" width="3.03" height="6.4" fill="#FFF200" />
<rect x="252.3" y="518.9" width="3.03" height="0.6" fill="#558ED5" />
<rect x="252.3" y="519.5" width="3.03" height="57.2" fill="#A9D18E" />
<rect x="254.32" y="512.5" width="3.03" height="3" fill="#FFF200" />
<rect x="254.32" y="515.5" width="3.03" height="61.2" fill="#A9D18E" />
<rect x="256.35" y="512.5" width="3.03" height="3.5" fill="#FFF200" />
<rect x="256.35" y="516" width="3.03" height="0.59" fill="#558ED5" />
<rect x="256.35" y="516.59" width="3.03" height="60.11" fill="#A9D18E" />
<rect x="258.38" y="512.5" width="3.03" height="1.55" fill="#FFF200" />
<rect x="258.38" y="514.05" width="3.03" height="0.48" fill="#558ED5" />
<rect x="258.38" y="514.52" width="3.03" height="62.18" fill="#A9D18E" />
<rect x="260.41" y="512.5" width="3.03" height="2.16" fill="#FFF200" />
<rect x="260.41" y="514.66" width="3.03" height="0.3" fill="#558ED5" />
<rect x="260.41" y="514.96" width="3.03" height="61.74" fill="#A9D18E" />
<rect x="262.43" y="512.5" width="3.03" height="1.53" fill="#FFF200" />
<rect x="262.43" y="514.03" width="3.03" height="0.74" fill="#558ED5" />
<rect x="262.43" y="514.77" width="3.03" height="61.93" fill="#A9D18E" />
<rect x="264.46" y="512.5" width="3.03" height="1.46" fill="#FFF200" />
<rect x="264.46" y="513.96" width="3.03" height="5" fill="#558ED5" />
<rect x="264.46" y="518.96" width="3.03" height="57.74" fill="#A9D18E" />
<rect x="266.49" y="512.5" width="3.03" height="0.81" fill="#FFF200" />
<rect x="266.49" y="513.31" width="3.03" height="63.39" fill="#A9D18E" />
<rect x="268.52" y="512.5" width="3.03" height="0.4" fill="#FFF200" />
<rect x="268.52" y="512.9" width="3.03" height="0.61" fill="#558ED5" />
<rect x="268.52" y="513.51" width="3.03" height="63.19" fill="#A9D18E" />
<rect x="270.54" y="512.5" width="3.03" height="1.72" fill="#FFF200" />
<rect x="270.54" y="514.22" width="3.03" height="0.68" fill="#558ED5" />
<rect x="270.54" y="514.9" width="3.03" height="61.8" fill="#A9D18E" />
<rect x="272.57" y="512.5" width="3.03" height="1.4" fill="#FFF200" />
<rect x="272.57" y="513.9" width="3.03" height="62.8" fill="#A9D18E" />
<rect x="274.6" y="512.5" width="3.04" height="0.68" fill="#FFF200" />
<rect x="274.6" y="513.18" width="3.04" height="9.5" fill="#558ED5" />
<rect x="274.6" y="522.68" width="3.04" height="54.02" fill="#A9D18E" />
<rect x="276.64" y="512.5" width="3.04" height="0.49" fill="#FFF200" />
<rect x="276.64" y="512.99" width="3.04" height="12" fill="#558ED5" />
<rect x="276.64" y="524.99" width="3.04" height="51.71" fill="#A9D18E" />
<rect x="278.69" y="512.5" width="3.04" height="0.44" fill="#FFF200" />
<rect x="278.69" y="512.94" width="3.04" height="8.8" fill="#558ED5" />
<rect x="278.69" y="521.74" width="3.04" height="54.96" fill="#A9D18E" />
<rect x="280.73" y="512.5" width="3.04" height="0.79" fill="#FFF200" />
<rect x="280.73" y="513.29" width="3.04" height="10.6" fill="#558ED5" />
<rect x="280.73" y="523.89" width="3.04" height="52.81" fill="#A9D18E" />
<rect x="282.77" y="512.5" width="3.04" height="0.21" fill="#FFF200" />
<rect x="282.77" y="512.71" width="3.04" height="18.1" fill="#558ED5" />
<rect x="282.77" y="530.81" width="3.04" height="45.89" fill="#A9D18E" />
<rect x="284.81" y="512.5" width="3.04" height="0.35" fill="#FFF200" />
<rect x="284.81" y="512.85" width="3.04" height="12" fill="#558ED5" />
<rect x="284.81" y="524.85" width="3.04" height="51.85" fill="#A9D18E" />
<rect x="286.86" y="512.5" width="3.04" height="0.06" fill="#FFF200" />
<rect x="286.86" y="512.56" width="3.04" height="9.8" fill="#558ED5" />
<rect x="286.86" y="522.36" width="3.04" height="54.34" fill="#A9D18E" />
<rect x="288.9" y="512.5" width="3.04" height="0.3" fill="#FFF200" />
<rect x="288.9" y="512.8" width="3.04" height="11.5" fill="#558ED5" />
<rect x="288.9" y="524.3" width="3.04" height="52.4" fill="#A9D18E" />
<rect x="290.94" y="512.5" width="3.04" height="0.71" fill="#FFF200" />
<rect x="290.94" y="513.21" width="3.04" height="15.5" fill="#558ED5" />
<rect x="290.94" y="528.71" width="3.04" height="47.99" fill="#A9D18E" />
<rect x="292.99" y="512.5" width="3.04" height="1.43" fill="#FFF200" />
<rect x="292.99" y="513.93" width="3.04" height="7.8" fill="#558ED5" />
<rect x="292.99" y="521.73" width="3.04" height="54.97" fill="#A9D18E" />
<rect x="295.03" y="512.5" width="3.04" height="0.94" fill="#FFF200" />
<rect x="295.03" y="513.44" width="3.04" height="14.1" fill="#558ED5" />
<rect x="295.03" y="527.54" width="3.04" height="49.16" fill="#A9D18E" />
<rect x="297.07" y="512.5" width="3.04" height="0.95" fill="#FFF200" />
<rect x="297.07" y="513.45" width="3.04" height="9.3" fill="#558ED5" />
<rect x="297.07" y="522.75" width="3.04" height="53.95" fill="#A9D18E" />
<rect x="299.11" y="512.5" width="3.04" height="0.2" fill="#FFF200" />
<rect x="299.11" y="512.7" width="3.04" height="10.6" fill="#558ED5" />
<rect x="299.11" y="523.3" width="3.04" height="53.4" fill="#A9D18E" />
<rect x="301.16" y="512.5" width="3.04" height="0.74" fill="#FFF200" />
<rect x="301.16" y="513.24" width="3.04" height="14.1" fill="#558ED5" />
<rect x="301.16" y="527.34" width="3.04" height="49.36" fill="#A9D18E" />
<rect x="303.2" y="512.5" width="3.04" height="0.63" fill="#FFF200" />
<rect x="303.2" y="513.13" width="3.04" height="12.6" fill="#558ED5" />
<rect x="303.2" y="525.73" width="3.04" height="50.97" fill="#A9D18E" />
<rect x="305.24" y="512.5" width="3.04" height="0.81" fill="#FFF200" />
<rect x="305.24" y="513.31" width="3.04" height="16.3" fill="#558ED5" />
<rect x="305.24" y="529.61" width="3.04" height="47.09" fill="#A9D18E" />
<rect x="307.29" y="512.5" width="3.04" height="0.7" fill="#FFF200" />
<rect x="307.29" y="513.2" width="3.04" height="10.6" fill="#558ED5" />
<rect x="307.29" y="523.8" width="3.04" height="52.9" fill="#A9D18E" />
<rect x="309.33" y="512.5" width="3.04" height="0.7" fill="#FFF200" />
<rect x="309.33" y="513.2" width="3.04" height="13.7" fill="#558ED5" />
<rect x="309.33" y="526.9" width="3.04" height="49.8" fill="#A9D18E" />
<rect x="311.37" y="512.5" width="3.04" height="0.97" fill="#FFF200" />
<rect x="311.37" y="513.47" width="3.04" height="16.3" fill="#558ED5" />
<rect x="311.37" y="529.77" width="3.04" height="46.93" fill="#A9D18E" />
<rect x="313.41" y="512.5" width="3.04" height="0.6" fill="#FFF200" />
<rect x="313.41" y="513.1" width="3.04" height="7.6" fill="#558ED5" />
<rect x="313.41" y="520.7" width="3.04" height="56" fill="#A9D18E" />
<rect x="315.46" y="512.5" width="3.04" height="0.41" fill="#FFF200" />
<rect x="315.46" y="512.91" width="3.04" height="10.2" fill="#558ED5" />
<rect x="315.46" y="523.11" width="3.04" height="53.59" fill="#A9D18E" />
<rect x="317.5" y="512.5" width="3.04" height="0.97" fill="#FFF200" />
<rect x="317.5" y="513.47" width="3.04" height="17.9" fill="#558ED5" />
<rect x="317.5" y="531.37" width="3.04" height="45.33" fill="#A9D18E" />
<rect x="319.54" y="512.5" width="3.04" height="0.18" fill="#FFF200" />
<rect x="319.54" y="512.68" width="3.04" height="17.2" fill="#558ED5" />
<rect x="319.54" y="529.88" width="3.04" height="46.82" fill="#A9D18E" />
<rect x="321.59" y="512.5" width="3.04" height="0.73" fill="#FFF200" />
<rect x="321.59" y="513.23" width="3.04" height="16.3" fill="#558ED5" />
<rect x="321.59" y="529.53" width="3.04" height="47.17" fill="#A9D18E" />
<rect x="323.63" y="512.5" width="3.04" height="0.19" fill="#FFF200" />
<rect x="323.63" y="512.69" width="3.04" height="9.5" fill="#558ED5" />
<rect x="323.63" y="522.19" width="3.04" height="54.51" fill="#A9D18E" />
<rect x="325.67" y="512.5" width="3.04" height="1.17" fill="#FFF200" />
<rect x="325.67" y="513.67" width="3.04" height="17.4" fill="#558ED5" />
<rect x="325.67" y="531.07" width="3.04" height="45.63" fill="#A9D18E" />
<rect x="327.71" y="512.5" width="3.04" height="0.61" fill="#FFF200" />
<rect x="327.71" y="513.11" width="3.04" height="9.8" fill="#558ED5" />
<rect x="327.71" y="522.91" width="3.04" height="53.79" fill="#A9D18E" />
<rect x="329.76" y="512.5" width="3.04" height="1.07" fill="#FFF200" />
<rect x="329.76" y="513.57" width="3.04" height="16.3" fill="#558ED5" />
<rect x="329.76" y="529.87" width="3.04" height="46.83" fill="#A9D18E" />
<rect x="331.8" y="512.5" width="3.03" height="0.6" fill="#FFF200" />
<rect x="331.8" y="513.1" width="3.03" height="13.4" fill="#558ED5" />
<rect x="331.8" y="526.5" width="3.03" height="50.2" fill="#A9D18E" />
<rect x="333.83" y="512.5" width="3.03" height="0.19" fill="#FFF200" />
<rect x="333.83" y="512.69" width="3.03" height="3.8" fill="#558ED5" />
<rect x="333.83" y="516.49" width="3.03" height="60.21" fill="#A9D18E" />
<rect x="335.85" y="512.5" width="3.03" height="0.8" fill="#FFF200" />
<rect x="335.85" y="513.3" width="3.03" height="12.2" fill="#558ED5" />
<rect x="335.85" y="525.5" width="3.03" height="51.2" fill="#A9D18E" />
<rect x="337.88" y="512.5" width="3.03" height="0.2" fill="#FFF200" />
<rect x="337.88" y="512.7" width="3.03" height="2.6" fill="#558ED5" />
<rect x="337.88" y="515.3" width="3.03" height="61.4" fill="#A9D18E" />
<rect x="339.91" y="512.5" width="3.03" height="0.39" fill="#FFF200" />
<rect x="339.91" y="512.89" width="3.03" height="4.3" fill="#558ED5" />
<rect x="339.91" y="517.19" width="3.03" height="59.51" fill="#A9D18E" />
<rect x="341.93" y="512.5" width="3.03" height="0.86" fill="#FFF200" />
<rect x="341.93" y="513.36" width="3.03" height="7.3" fill="#558ED5" />
<rect x="341.93" y="520.66" width="3.03" height="56.04" fill="#A9D18E" />
<rect x="343.96" y="512.5" width="3.03" height="0.24" fill="#FFF200" />
<rect x="343.96" y="512.74" width="3.03" height="4.3" fill="#558ED5" />
<rect x="343.96" y="517.04" width="3.03" height="59.66" fill="#A9D18E" />
<rect x="345.98" y="512.5" width="3.03" height="0.4" fill="#FFF200" />
<rect x="345.98" y="512.9" width="3.03" height="9.9" fill="#558ED5" />
<rect x="345.98" y="522.8" width="3.03" height="53.9" fill="#A9D18E" />
<rect x="348.01" y="512.5" width="3.03" height="0.21" fill="#FFF200" />
<rect x="348.01" y="512.71" width="3.03" height="14.3" fill="#558ED5" />
<rect x="348.01" y="527.01" width="3.03" height="49.69" fill="#A9D18E" />
<rect x="350.04" y="512.5" width="3.03" height="9.6" fill="#558ED5" />
<rect x="350.04" y="522.1" width="3.03" height="54.6" fill="#A9D18E" />
<rect x="352.06" y="512.5" width="3.03" height="0.81" fill="#FFF200" />
<rect x="352.06" y="513.31" width="3.03" height="4.3" fill="#558ED5" />
<rect x="352.06" y="517.61" width="3.03" height="59.09" fill="#A9D18E" />
<rect x="354.09" y="512.5" width="3.03" height="11.1" fill="#558ED5" />
<rect x="354.09" y="523.6" width="3.03" height="53.1" fill="#A9D18E" />
<rect x="356.12" y="512.5" width="3.03" height="0.75" fill="#FFF200" />
<rect x="356.12" y="513.25" width="3.03" height="4" fill="#558ED5" />
<rect x="356.12" y="517.25" width="3.03" height="59.45" fill="#A9D18E" />
<rect x="358.14" y="512.5" width="3.03" height="0.38" fill="#FFF200" />
<rect x="358.14" y="512.88" width="3.03" height="3.8" fill="#558ED5" />
<rect x="358.14" y="516.68" width="3.03" height="60.02" fill="#A9D18E" />
<rect x="360.17" y="512.5" width="3.03" height="0.36" fill="#FFF200" />
<rect x="360.17" y="512.86" width="3.03" height="3.5" fill="#558ED5" />
<rect x="360.17" y="516.36" width="3.03" height="60.34" fill="#A9D18E" />
<rect x="362.19" y="512.5" width="3.03" height="0.41" fill="#FFF200" />
<rect x="362.19" y="512.91" width="3.03" height="2.9" fill="#558ED5" />
<rect x="362.19" y="515.81" width="3.03" height="60.89" fill="#A9D18E" />
<rect x="364.22" y="512.5" width="3.03" height="0.38" fill="#FFF200" />
<rect x="364.22" y="512.88" width="3.03" height="2.6" fill="#558ED5" />
<rect x="364.22" y="515.48" width="3.03" height="61.22" fill="#A9D18E" />
<rect x="366.25" y="512.5" width="3.03" height="0.54" fill="#FFF200" />
<rect x="366.25" y="513.04" width="3.03" height="6.1" fill="#558ED5" />
<rect x="366.25" y="519.14" width="3.03" height="57.56" fill="#A9D18E" />
<rect x="368.27" y="512.5" width="3.03" height="0.13" fill="#FFF200" />
<rect x="368.27" y="512.63" width="3.03" height="5.5" fill="#558ED5" />
<rect x="368.27" y="518.13" width="3.03" height="58.57" fill="#A9D18E" />
<rect x="370.3" y="512.5" width="3.03" height="0.25" fill="#FFF200" />
<rect x="370.3" y="512.75" width="3.03" height="13.1" fill="#558ED5" />
<rect x="370.3" y="525.85" width="3.03" height="50.85" fill="#A9D18E" />
<rect x="372.33" y="512.5" width="3.03" height="0.63" fill="#FFF200" />
<rect x="372.33" y="513.13" width="3.03" height="4.3" fill="#558ED5" />
<rect x="372.33" y="517.43" width="3.03" height="59.27" fill="#A9D18E" />
<rect x="374.35" y="512.5" width="3.03" height="0.26" fill="#FFF200" />
<rect x="374.35" y="512.76" width="3.03" height="2" fill="#558ED5" />
<rect x="374.35" y="514.76" width="3.03" height="61.94" fill="#A9D18E" />
<rect x="376.38" y="512.5" width="3.03" height="0.12" fill="#FFF200" />
<rect x="376.38" y="512.62" width="3.03" height="4.3" fill="#558ED5" />
<rect x="376.38" y="516.92" width="3.03" height="59.78" fill="#A9D18E" />
<rect x="378.41" y="512.5" width="3.03" height="0.49" fill="#FFF200" />
<rect x="378.41" y="512.99" width="3.03" height="4.3" fill="#558ED5" />
<rect x="378.41" y="517.29" width="3.03" height="59.41" fill="#A9D18E" />
<rect x="380.43" y="512.5" width="3.03" height="0.57" fill="#FFF200" />
<rect x="380.43" y="513.07" width="3.03" height="2.6" fill="#558ED5" />
<rect x="380.43" y="515.67" width="3.03" height="61.03" fill="#A9D18E" />
<rect x="382.46" y="512.5" width="3.03" height="0.19" fill="#FFF200" />
<rect x="382.46" y="512.69" width="3.03" height="4.6" fill="#558ED5" />
<rect x="382.46" y="517.29" width="3.03" height="59.41" fill="#A9D18E" />
<rect x="384.48" y="512.5" width="3.03" height="1.24" fill="#FFF200" />
<rect x="384.48" y="513.74" width="3.03" height="4" fill="#558ED5" />
<rect x="384.48" y="517.74" width="3.03" height="58.96" fill="#A9D18E" />
<rect x="386.51" y="512.5" width="3.03" height="39" fill="#FFF200" />
<rect x="386.51" y="551.5" width="3.03" height="2" fill="#558ED5" />
<rect x="386.51" y="553.5" width="3.03" height="23.2" fill="#A9D18E" />
<rect x="388.54" y="512.5" width="3.03" height="0.45" fill="#FFF200" />
<rect x="388.54" y="512.95" width="3.03" height="1.7" fill="#558ED5" />
<rect x="388.54" y="514.65" width="3.03" height="62.05" fill="#A9D18E" />
<rect x="390.56" y="512.5" width="3.03" height="0.33" fill="#FFF200" />
<rect x="390.56" y="512.83" width="3.03" height="12.2" fill="#558ED5" />
<rect x="390.56" y="525.03" width="3.03" height="51.67" fill="#A9D18E" />
<rect x="392.59" y="512.5" width="3.03" height="0.42" fill="#FFF200" />
<rect x="392.59" y="512.92" width="3.03" height="9.3" fill="#558ED5" />
<rect x="392.59" y="522.22" width="3.03" height="54.48" fill="#A9D18E" />
<rect x="394.62" y="512.5" width="3.03" height="7.3" fill="#558ED5" />
<rect x="394.62" y="519.8" width="3.03" height="56.9" fill="#A9D18E" />
<rect x="396.64" y="512.5" width="3.03" height="0.4" fill="#FFF200" />
<rect x="396.64" y="512.9" width="3.03" height="4" fill="#558ED5" />
<rect x="396.64" y="516.9" width="3.03" height="59.8" fill="#A9D18E" />
<rect x="398.67" y="512.5" width="3.03" height="0.09" fill="#FFF200" />
<rect x="398.67" y="512.59" width="3.03" height="3.2" fill="#558ED5" />
<rect x="398.67" y="515.79" width="3.03" height="60.91" fill="#A9D18E" />
<rect x="400.69" y="512.5" width="3.03" height="0.21" fill="#FFF200" />
<rect x="400.69" y="512.71" width="3.03" height="2.6" fill="#558ED5" />
<rect x="400.69" y="515.31" width="3.03" height="61.39" fill="#A9D18E" />
<rect x="402.72" y="512.5" width="3.03" height="0.62" fill="#FFF200" />
<rect x="402.72" y="513.12" width="3.03" height="9.3" fill="#558ED5" />
<rect x="402.72" y="522.42" width="3.03" height="54.28" fill="#A9D18E" />
<rect x="404.75" y="512.5" width="3.03" height="0.55" fill="#FFF200" />
<rect x="404.75" y="513.05" width="3.03" height="3.5" fill="#558ED5" />
<rect x="404.75" y="516.55" width="3.03" height="60.15" fill="#A9D18E" />
<rect x="406.77" y="512.5" width="3.03" height="12.2" fill="#558ED5" />
<rect x="406.77" y="524.7" width="3.03" height="52" fill="#A9D18E" />
<rect x="408.8" y="512.5" width="3" height="20.6" fill="#558ED5" />
<rect x="408.8" y="533.1" width="3" height="43.6" fill="#A9D18E" />
<rect x="410.8" y="512.5" width="3" height="29.6" fill="#558ED5" />
<rect x="410.8" y="542.1" width="3" height="34.6" fill="#A9D18E" />
<rect x="412.79" y="512.5" width="3" height="38.5" fill="#558ED5" />
<rect x="412.79" y="551" width="3" height="25.7" fill="#A9D18E" />
<rect x="414.79" y="512.5" width="3" height="29.9" fill="#558ED5" />
<rect x="414.79" y="542.4" width="3" height="34.3" fill="#A9D18E" />
<rect x="416.78" y="512.5" width="2.99" height="33.7" fill="#558ED5" />
<rect x="416.78" y="546.2" width="2.99" height="30.5" fill="#A9D18E" />
<rect x="418.77" y="512.5" width="3" height="28.4" fill="#558ED5" />
<rect x="418.77" y="540.9" width="3" height="35.8" fill="#A9D18E" />
<rect x="420.77" y="512.5" width="3" height="21.7" fill="#558ED5" />
<rect x="420.77" y="534.2" width="3" height="42.5" fill="#A9D18E" />
<rect x="422.76" y="512.5" width="3" height="20.2" fill="#558ED5" />
<rect x="422.76" y="532.7" width="3" height="44" fill="#A9D18E" />
<rect x="424.76" y="512.5" width="3" height="28.1" fill="#558ED5" />
<rect x="424.76" y="540.6" width="3" height="36.1" fill="#A9D18E" />
<rect x="426.75" y="512.5" width="3" height="31.8" fill="#558ED5" />
<rect x="426.75" y="544.3" width="3" height="32.4" fill="#A9D18E" />
<rect x="428.75" y="512.5" width="3" height="27.9" fill="#558ED5" />
<rect x="428.75" y="540.4" width="3" height="36.3" fill="#A9D18E" />
<rect x="430.75" y="512.5" width="3" height="27.2" fill="#558ED5" />
<rect x="430.75" y="539.7" width="3" height="37" fill="#A9D18E" />
<rect x="432.74" y="512.5" width="3" height="29.2" fill="#558ED5" />
<rect x="432.74" y="541.7" width="3" height="35" fill="#A9D18E" />
<rect x="434.74" y="512.5" width="3" height="29.9" fill="#558ED5" />
<rect x="434.74" y="542.4" width="3" height="34.3" fill="#A9D18E" />
<rect x="436.73" y="512.5" width="3" height="32.9" fill="#558ED5" />
<rect x="436.73" y="545.4" width="3" height="31.3" fill="#A9D18E" />
<rect x="438.73" y="512.5" width="2.99" height="24.5" fill="#558ED5" />
<rect x="438.73" y="537" width="2.99" height="39.7" fill="#A9D18E" />
<rect x="440.72" y="512.5" width="3" height="27.3" fill="#558ED5" />
<rect x="440.72" y="539.8" width="3" height="36.9" fill="#A9D18E" />
<rect x="442.71" y="512.5" width="3" height="25.1" fill="#558ED5" />
<rect x="442.71" y="537.6" width="3" height="39.1" fill="#A9D18E" />
<rect x="444.71" y="512.5" width="3" height="22.1" fill="#558ED5" />
<rect x="444.71" y="534.6" width="3" height="42.1" fill="#A9D18E" />
<rect x="446.7" y="512.5" width="3" height="25.1" fill="#558ED5" />
<rect x="446.7" y="537.6" width="3" height="39.1" fill="#A9D18E" />
<rect x="448.7" y="512.5" width="3.01" height="0.52" fill="#FFF200" />
<rect x="448.7" y="513.02" width="3.01" height="18.48" fill="#558ED5" />
<rect x="448.7" y="531.5" width="3.01" height="45.2" fill="#A9D18E" />
<rect x="450.71" y="512.5" width="3.01" height="0.43" fill="#FFF200" />
<rect x="450.71" y="512.93" width="3.01" height="18.97" fill="#558ED5" />
<rect x="450.71" y="531.9" width="3.01" height="44.8" fill="#A9D18E" />
<rect x="452.72" y="512.5" width="3.01" height="13.3" fill="#558ED5" />
<rect x="452.72" y="525.8" width="3.01" height="50.9" fill="#A9D18E" />
<rect x="454.73" y="512.5" width="3.01" height="0.75" fill="#FFF200" />
<rect x="454.73" y="513.25" width="3.01" height="15.35" fill="#558ED5" />
<rect x="454.73" y="528.6" width="3.01" height="48.1" fill="#A9D18E" />
<rect x="456.74" y="512.5" width="3.01" height="17.8" fill="#558ED5" />
<rect x="456.74" y="530.3" width="3.01" height="46.4" fill="#A9D18E" />
<rect x="458.75" y="512.5" width="3.01" height="18.6" fill="#558ED5" />
<rect x="458.75" y="531.1" width="3.01" height="45.6" fill="#A9D18E" />
<rect x="460.76" y="512.5" width="3.01" height="0.81" fill="#FFF200" />
<rect x="460.76" y="513.31" width="3.01" height="5.49" fill="#558ED5" />
<rect x="460.76" y="518.8" width="3.01" height="57.9" fill="#A9D18E" />
<rect x="462.77" y="512.5" width="3.01" height="0.37" fill="#FFF200" />
<rect x="462.77" y="512.87" width="3.01" height="13.73" fill="#558ED5" />
<rect x="462.77" y="526.6" width="3.01" height="50.1" fill="#A9D18E" />
<rect x="464.78" y="512.5" width="3.01" height="0.14" fill="#FFF200" />
<rect x="464.78" y="512.64" width="3.01" height="6.96" fill="#558ED5" />
<rect x="464.78" y="519.6" width="3.01" height="57.1" fill="#A9D18E" />
<rect x="466.79" y="512.5" width="3.01" height="0.46" fill="#FFF200" />
<rect x="466.79" y="512.96" width="3.01" height="13.24" fill="#558ED5" />
<rect x="466.79" y="526.2" width="3.01" height="50.5" fill="#A9D18E" />
<rect x="468.8" y="512.5" width="3.01" height="18.2" fill="#558ED5" />
<rect x="468.8" y="530.7" width="3.01" height="46" fill="#A9D18E" />
<rect x="470.81" y="512.5" width="3.01" height="0.39" fill="#FFF200" />
<rect x="470.81" y="512.89" width="3.01" height="19.81" fill="#558ED5" />
<rect x="470.81" y="532.7" width="3.01" height="44" fill="#A9D18E" />
<rect x="472.82" y="512.5" width="3.01" height="7.1" fill="#558ED5" />
<rect x="472.82" y="519.6" width="3.01" height="57.1" fill="#A9D18E" />
<rect x="474.82" y="512.5" width="3.01" height="0.14" fill="#FFF200" />
<rect x="474.82" y="512.64" width="3.01" height="16.36" fill="#558ED5" />
<rect x="474.82" y="529" width="3.01" height="47.7" fill="#A9D18E" />
<rect x="476.83" y="512.5" width="3.01" height="0.26" fill="#FFF200" />
<rect x="476.83" y="512.76" width="3.01" height="6.84" fill="#558ED5" />
<rect x="476.83" y="519.6" width="3.01" height="57.1" fill="#A9D18E" />
<rect x="478.84" y="512.5" width="3.01" height="0.19" fill="#FFF200" />
<rect x="478.84" y="512.69" width="3.01" height="11.01" fill="#558ED5" />
<rect x="478.84" y="523.7" width="3.01" height="53" fill="#A9D18E" />
<rect x="480.85" y="512.5" width="3.01" height="0.72" fill="#FFF200" />
<rect x="480.85" y="513.22" width="3.01" height="26.08" fill="#558ED5" />
<rect x="480.85" y="539.3" width="3.01" height="37.4" fill="#A9D18E" />
<rect x="482.86" y="512.5" width="3.01" height="0.55" fill="#FFF200" />
<rect x="482.86" y="513.05" width="3.01" height="5.75" fill="#558ED5" />
<rect x="482.86" y="518.8" width="3.01" height="57.9" fill="#A9D18E" />
<rect x="484.87" y="512.5" width="3.01" height="0.32" fill="#FFF200" />
<rect x="484.87" y="512.82" width="3.01" height="10.08" fill="#558ED5" />
<rect x="484.87" y="522.9" width="3.01" height="53.8" fill="#A9D18E" />
<rect x="486.88" y="512.5" width="3.01" height="0.75" fill="#FFF200" />
<rect x="486.88" y="513.25" width="3.01" height="13.35" fill="#558ED5" />
<rect x="486.88" y="526.6" width="3.01" height="50.1" fill="#A9D18E" />
<rect x="488.89" y="512.5" width="3.01" height="0.28" fill="#FFF200" />
<rect x="488.89" y="512.78" width="3.01" height="23.22" fill="#558ED5" />
<rect x="488.89" y="536" width="3.01" height="40.7" fill="#A9D18E" />
<rect x="490.9" y="512.5" width="3.01" height="6.3" fill="#558ED5" />
<rect x="490.9" y="518.8" width="3.01" height="57.9" fill="#A9D18E" />
<rect x="492.91" y="512.5" width="3.01" height="0.1" fill="#FFF200" />
<rect x="492.91" y="512.6" width="3.01" height="4.2" fill="#558ED5" />
<rect x="492.91" y="516.8" width="3.01" height="59.9" fill="#A9D18E" />
<rect x="494.92" y="512.5" width="3.01" height="18.2" fill="#558ED5" />
<rect x="494.92" y="530.7" width="3.01" height="46" fill="#A9D18E" />
<rect x="496.93" y="512.5" width="3.01" height="0.31" fill="#FFF200" />
<rect x="496.93" y="512.81" width="3.01" height="9.29" fill="#558ED5" />
<rect x="496.93" y="522.1" width="3.01" height="54.6" fill="#A9D18E" />
<rect x="498.94" y="512.5" width="3.01" height="0.14" fill="#FFF200" />
<rect x="498.94" y="512.64" width="3.01" height="10.66" fill="#558ED5" />
<rect x="498.94" y="523.3" width="3.01" height="53.4" fill="#A9D18E" />
<rect x="500.95" y="512.5" width="3.01" height="0.22" fill="#FFF200" />
<rect x="500.95" y="512.72" width="3.01" height="10.98" fill="#558ED5" />
<rect x="500.95" y="523.7" width="3.01" height="53" fill="#A9D18E" />
<rect x="502.96" y="512.5" width="3.01" height="0.44" fill="#FFF200" />
<rect x="502.96" y="512.94" width="3.01" height="15.66" fill="#558ED5" />
<rect x="502.96" y="528.6" width="3.01" height="48.1" fill="#A9D18E" />
<rect x="504.97" y="512.5" width="3.01" height="0.1" fill="#FFF200" />
<rect x="504.97" y="512.6" width="3.01" height="16.8" fill="#558ED5" />
<rect x="504.97" y="529.4" width="3.01" height="47.3" fill="#A9D18E" />
<rect x="506.98" y="512.5" width="3.01" height="0.55" fill="#FFF200" />
<rect x="506.98" y="513.05" width="3.01" height="22.15" fill="#558ED5" />
<rect x="506.98" y="535.2" width="3.01" height="41.5" fill="#A9D18E" />
<rect x="508.99" y="512.5" width="3.01" height="0.39" fill="#FFF200" />
<rect x="508.99" y="512.89" width="3.01" height="10.81" fill="#558ED5" />
<rect x="508.99" y="523.7" width="3.01" height="53" fill="#A9D18E" />
<rect x="511" y="512.5" width="3.01" height="0.39" fill="#FFF200" />
<rect x="511" y="512.89" width="3.01" height="3.01" fill="#558ED5" />
<rect x="511" y="515.9" width="3.01" height="60.8" fill="#A9D18E" />
<rect x="513.01" y="512.5" width="3.01" height="0.09" fill="#FFF200" />
<rect x="513.01" y="512.59" width="3.01" height="8.71" fill="#558ED5" />
<rect x="513.01" y="521.3" width="3.01" height="55.4" fill="#A9D18E" />
<rect x="515.02" y="512.5" width="3.01" height="0.11" fill="#FFF200" />
<rect x="515.02" y="512.61" width="3.01" height="4.99" fill="#558ED5" />
<rect x="515.02" y="517.6" width="3.01" height="59.1" fill="#A9D18E" />
<rect x="517.03" y="512.5" width="3.01" height="0.35" fill="#FFF200" />
<rect x="517.03" y="512.85" width="3.01" height="6.35" fill="#558ED5" />
<rect x="517.03" y="519.2" width="3.01" height="57.5" fill="#A9D18E" />
<rect x="519.04" y="512.5" width="3.01" height="20.6" fill="#558ED5" />
<rect x="519.04" y="533.1" width="3.01" height="43.6" fill="#A9D18E" />
<rect x="521.05" y="512.5" width="3.01" height="0.48" fill="#FFF200" />
<rect x="521.05" y="512.98" width="3.01" height="10.32" fill="#558ED5" />
<rect x="521.05" y="523.3" width="3.01" height="53.4" fill="#A9D18E" />
<rect x="523.06" y="512.5" width="3.01" height="0.49" fill="#FFF200" />
<rect x="523.06" y="512.99" width="3.01" height="5.81" fill="#558ED5" />
<rect x="523.06" y="518.8" width="3.01" height="57.9" fill="#A9D18E" />
<rect x="525.07" y="512.5" width="3.01" height="0.36" fill="#FFF200" />
<rect x="525.07" y="512.86" width="3.01" height="9.64" fill="#558ED5" />
<rect x="525.07" y="522.5" width="3.01" height="54.2" fill="#A9D18E" />
<rect x="527.08" y="512.5" width="3.01" height="0.58" fill="#FFF200" />
<rect x="527.08" y="513.08" width="3.01" height="13.12" fill="#558ED5" />
<rect x="527.08" y="526.2" width="3.01" height="50.5" fill="#A9D18E" />
<rect x="529.08" y="512.5" width="3.01" height="0.8" fill="#FFF200" />
<rect x="529.08" y="513.3" width="3.01" height="9.6" fill="#558ED5" />
<rect x="529.08" y="522.9" width="3.01" height="53.8" fill="#A9D18E" />
<rect x="531.09" y="512.5" width="3.01" height="0.19" fill="#FFF200" />
<rect x="531.09" y="512.69" width="3.01" height="12.21" fill="#558ED5" />
<rect x="531.09" y="524.9" width="3.01" height="51.8" fill="#A9D18E" />
<rect x="533.1" y="512.5" width="3.01" height="0.54" fill="#FFF200" />
<rect x="533.1" y="513.04" width="3.01" height="24.16" fill="#558ED5" />
<rect x="533.1" y="537.2" width="3.01" height="39.5" fill="#A9D18E" />
<rect x="535.11" y="512.5" width="3.01" height="0.58" fill="#FFF200" />
<rect x="535.11" y="513.08" width="3.01" height="10.62" fill="#558ED5" />
<rect x="535.11" y="523.7" width="3.01" height="53" fill="#A9D18E" />
<rect x="537.12" y="512.5" width="3.01" height="0.3" fill="#FFF200" />
<rect x="537.12" y="512.8" width="3.01" height="15" fill="#558ED5" />
<rect x="537.12" y="527.8" width="3.01" height="48.9" fill="#A9D18E" />
<rect x="539.13" y="512.5" width="3.01" height="0.15" fill="#FFF200" />
<rect x="539.13" y="512.65" width="3.01" height="16.35" fill="#558ED5" />
<rect x="539.13" y="529" width="3.01" height="47.7" fill="#A9D18E" />
<rect x="541.14" y="512.5" width="3.01" height="0.11" fill="#FFF200" />
<rect x="541.14" y="512.61" width="3.01" height="13.99" fill="#558ED5" />
<rect x="541.14" y="526.6" width="3.01" height="50.1" fill="#A9D18E" />
<rect x="543.15" y="512.5" width="3.01" height="0.31" fill="#FFF200" />
<rect x="543.15" y="512.81" width="3.01" height="13.39" fill="#558ED5" />
<rect x="543.15" y="526.2" width="3.01" height="50.5" fill="#A9D18E" />
<rect x="545.16" y="512.5" width="3.01" height="0.25" fill="#FFF200" />
<rect x="545.16" y="512.75" width="3.01" height="6.05" fill="#558ED5" />
<rect x="545.16" y="518.8" width="3.01" height="57.9" fill="#A9D18E" />
<rect x="547.17" y="512.5" width="3.01" height="0.45" fill="#FFF200" />
<rect x="547.17" y="512.95" width="3.01" height="12.85" fill="#558ED5" />
<rect x="547.17" y="525.8" width="3.01" height="50.9" fill="#A9D18E" />
<rect x="549.18" y="512.5" width="3.01" height="0.5" fill="#FFF200" />
<rect x="549.18" y="513" width="3.01" height="15.2" fill="#558ED5" />
<rect x="549.18" y="528.2" width="3.01" height="48.5" fill="#A9D18E" />
<rect x="551.19" y="512.5" width="3.01" height="10" fill="#558ED5" />
<rect x="551.19" y="522.5" width="3.01" height="54.2" fill="#A9D18E" />
<rect x="553.2" y="512.5" width="3.01" height="62.53" fill="#558ED5" />
<rect x="553.2" y="575.03" width="3.01" height="1.67" fill="#A9D18E" />
<rect x="555.21" y="512.5" width="3.01" height="63.12" fill="#558ED5" />
<rect x="555.21" y="575.62" width="3.01" height="1.08" fill="#A9D18E" />
<rect x="557.23" y="512.5" width="3.01" height="63.97" fill="#558ED5" />
<rect x="557.23" y="576.47" width="3.01" height="0.23" fill="#A9D18E" />
<rect x="559.24" y="512.5" width="3.01" height="62.75" fill="#558ED5" />
<rect x="559.24" y="575.25" width="3.01" height="1.45" fill="#A9D18E" />
<rect x="561.25" y="512.5" width="3.01" height="63.19" fill="#558ED5" />
<rect x="561.25" y="575.69" width="3.01" height="1.01" fill="#A9D18E" />
<rect x="563.26" y="512.5" width="3.01" height="64.2" fill="#558ED5" />
<rect x="563.26" y="576.7" width="3.01" height="0" fill="#A9D18E" />
<rect x="565.28" y="512.5" width="3.01" height="61.2" fill="#558ED5" />
<rect x="565.28" y="573.7" width="3.01" height="3" fill="#A9D18E" />
<rect x="567.29" y="512.5" width="3.01" height="63.2" fill="#558ED5" />
<rect x="567.29" y="575.7" width="3.01" height="1" fill="#A9D18E" />
<rect x="569.3" y="512.5" width="3.01" height="62.87" fill="#558ED5" />
<rect x="569.3" y="575.37" width="3.01" height="1.33" fill="#A9D18E" />
<rect x="571.32" y="512.5" width="3.01" height="63.28" fill="#558ED5" />
<rect x="571.32" y="575.78" width="3.01" height="0.92" fill="#A9D18E" />
<rect x="573.33" y="512.5" width="3.01" height="63.49" fill="#558ED5" />
<rect x="573.33" y="575.99" width="3.01" height="0.71" fill="#A9D18E" />
<rect x="575.34" y="512.5" width="3.01" height="64.2" fill="#558ED5" />
<rect x="575.34" y="576.7" width="3.01" height="0" fill="#A9D18E" />
<rect x="577.35" y="512.5" width="3.01" height="62.82" fill="#558ED5" />
<rect x="577.35" y="575.32" width="3.01" height="1.38" fill="#A9D18E" />
<rect x="579.37" y="512.5" width="3.01" height="63.38" fill="#558ED5" />
<rect x="579.37" y="575.88" width="3.01" height="0.82" fill="#A9D18E" />
<rect x="581.38" y="512.5" width="3.01" height="63.57" fill="#558ED5" />
<rect x="581.38" y="576.07" width="3.01" height="0.63" fill="#A9D18E" />
<rect x="583.39" y="512.5" width="3.01" height="63.19" fill="#558ED5" />
<rect x="583.39" y="575.69" width="3.01" height="1.01" fill="#A9D18E" />
<rect x="585.41" y="512.5" width="3.01" height="55.3" fill="#558ED5" />
<rect x="585.41" y="567.8" width="3.01" height="8.9" fill="#A9D18E" />
<rect x="587.42" y="512.5" width="3.01" height="62.99" fill="#558ED5" />
<rect x="587.42" y="575.49" width="3.01" height="1.21" fill="#A9D18E" />
<rect x="589.43" y="512.5" width="3.01" height="62.2" fill="#558ED5" />
<rect x="589.43" y="574.7" width="3.01" height="2" fill="#A9D18E" />
<rect x="591.45" y="512.5" width="3.01" height="63.42" fill="#558ED5" />
<rect x="591.45" y="575.92" width="3.01" height="0.78" fill="#A9D18E" />
<rect x="593.46" y="512.5" width="3.01" height="64.2" fill="#558ED5" />
<rect x="593.46" y="576.7" width="3.01" height="0" fill="#A9D18E" />
<rect x="595.47" y="512.5" width="3.01" height="63.65" fill="#558ED5" />
<rect x="595.47" y="576.15" width="3.01" height="0.55" fill="#A9D18E" />
<rect x="597.48" y="512.5" width="3.01" height="62.99" fill="#558ED5" />
<rect x="597.48" y="575.49" width="3.01" height="1.21" fill="#A9D18E" />
<rect x="599.5" y="512.5" width="3.01" height="58.5" fill="#558ED5" />
<rect x="599.5" y="571" width="3.01" height="5.7" fill="#A9D18E" />
<rect x="601.51" y="512.5" width="3.01" height="63.62" fill="#558ED5" />
<rect x="601.51" y="576.12" width="3.01" height="0.58" fill="#A9D18E" />
<rect x="603.52" y="512.5" width="3.01" height="57.5" fill="#558ED5" />
<rect x="603.52" y="570" width="3.01" height="6.7" fill="#A9D18E" />
<rect x="605.54" y="512.5" width="3.01" height="62.45" fill="#558ED5" />
<rect x="605.54" y="574.95" width="3.01" height="1.75" fill="#A9D18E" />
<rect x="607.55" y="512.5" width="3.01" height="63.6" fill="#558ED5" />
<rect x="607.55" y="576.1" width="3.01" height="0.6" fill="#A9D18E" />
<rect x="609.56" y="512.5" width="3.01" height="62.96" fill="#558ED5" />
<rect x="609.56" y="575.46" width="3.01" height="1.24" fill="#A9D18E" />
<rect x="611.57" y="512.5" width="3.01" height="62.39" fill="#558ED5" />
<rect x="611.57" y="574.89" width="3.01" height="1.81" fill="#A9D18E" />
<rect x="613.59" y="512.5" width="3.01" height="63.38" fill="#558ED5" />
<rect x="613.59" y="575.88" width="3.01" height="0.82" fill="#A9D18E" />
<rect x="615.6" y="512.5" width="3.01" height="62.66" fill="#558ED5" />
<rect x="615.6" y="575.16" width="3.01" height="1.54" fill="#A9D18E" />
<rect x="617.61" y="512.5" width="3.01" height="63.83" fill="#558ED5" />
<rect x="617.61" y="576.33" width="3.01" height="0.37" fill="#A9D18E" />
<rect x="619.63" y="512.5" width="3.01" height="63.28" fill="#558ED5" />
<rect x="619.63" y="575.78" width="3.01" height="0.92" fill="#A9D18E" />
<rect x="621.64" y="512.5" width="3.01" height="60.7" fill="#558ED5" />
<rect x="621.64" y="573.2" width="3.01" height="3.5" fill="#A9D18E" />
<rect x="623.65" y="512.5" width="3.01" height="63.33" fill="#558ED5" />
<rect x="623.65" y="575.83" width="3.01" height="0.87" fill="#A9D18E" />
<rect x="625.66" y="512.5" width="3.01" height="56.2" fill="#558ED5" />
<rect x="625.66" y="568.7" width="3.01" height="8" fill="#A9D18E" />
<rect x="627.68" y="512.5" width="3.01" height="61.97" fill="#558ED5" />
<rect x="627.68" y="574.47" width="3.01" height="2.23" fill="#A9D18E" />
<rect x="629.69" y="512.5" width="3.01" height="63.8" fill="#558ED5" />
<rect x="629.69" y="576.3" width="3.01" height="0.4" fill="#A9D18E" />
<rect x="631.7" y="512.5" width="3.01" height="63.75" fill="#558ED5" />
<rect x="631.7" y="576.25" width="3.01" height="0.45" fill="#A9D18E" />
<rect x="633.72" y="512.5" width="3.01" height="53.6" fill="#558ED5" />
<rect x="633.72" y="566.1" width="3.01" height="10.6" fill="#A9D18E" />
<rect x="635.73" y="512.5" width="3.01" height="60.2" fill="#558ED5" />
<rect x="635.73" y="572.7" width="3.01" height="4" fill="#A9D18E" />
<rect x="637.74" y="512.5" width="3.01" height="63.1" fill="#558ED5" />
<rect x="637.74" y="575.6" width="3.01" height="1.1" fill="#A9D18E" />
<rect x="639.75" y="512.5" width="3.01" height="61.2" fill="#558ED5" />
<rect x="639.75" y="573.7" width="3.01" height="3" fill="#A9D18E" />
<rect x="641.77" y="512.5" width="3.01" height="63.57" fill="#558ED5" />
<rect x="641.77" y="576.07" width="3.01" height="0.63" fill="#A9D18E" />
<rect x="643.78" y="512.5" width="3.01" height="63.08" fill="#558ED5" />
<rect x="643.78" y="575.58" width="3.01" height="1.12" fill="#A9D18E" />
<rect x="645.79" y="512.5" width="3.01" height="53.6" fill="#558ED5" />
<rect x="645.79" y="566.1" width="3.01" height="10.6" fill="#A9D18E" />
<rect x="647.81" y="512.5" width="3.01" height="62.94" fill="#558ED5" />
<rect x="647.81" y="575.44" width="3.01" height="1.26" fill="#A9D18E" />
<rect x="649.82" y="512.5" width="3.01" height="64.2" fill="#558ED5" />
<rect x="649.82" y="576.7" width="3.01" height="0" fill="#A9D18E" />
<rect x="651.83" y="512.5" width="3.01" height="63.82" fill="#558ED5" />
<rect x="651.83" y="576.32" width="3.01" height="0.38" fill="#A9D18E" />
<rect x="653.85" y="512.5" width="3.01" height="60.5" fill="#558ED5" />
<rect x="653.85" y="573" width="3.01" height="3.7" fill="#A9D18E" />
<rect x="655.86" y="512.5" width="3.01" height="63.64" fill="#558ED5" />
<rect x="655.86" y="576.14" width="3.01" height="0.56" fill="#A9D18E" />
<rect x="657.87" y="512.5" width="3.01" height="62.88" fill="#558ED5" />
<rect x="657.87" y="575.38" width="3.01" height="1.32" fill="#A9D18E" />
<rect x="659.88" y="512.5" width="3.01" height="63.35" fill="#558ED5" />
<rect x="659.88" y="575.85" width="3.01" height="0.85" fill="#A9D18E" />
<rect x="661.9" y="512.5" width="3.01" height="63.64" fill="#558ED5" />
<rect x="661.9" y="576.14" width="3.01" height="0.56" fill="#A9D18E" />
<rect x="663.91" y="512.5" width="3.01" height="63.07" fill="#558ED5" />
<rect x="663.91" y="575.57" width="3.01" height="1.13" fill="#A9D18E" />
<rect x="665.92" y="512.5" width="3.01" height="62.45" fill="#558ED5" />
<rect x="665.92" y="574.95" width="3.01" height="1.75" fill="#A9D18E" />
<rect x="667.94" y="512.5" width="3.01" height="63.4" fill="#558ED5" />
<rect x="667.94" y="575.9" width="3.01" height="0.8" fill="#A9D18E" />
<rect x="669.95" y="512.5" width="3.01" height="63.18" fill="#558ED5" />
<rect x="669.95" y="575.68" width="3.01" height="1.02" fill="#A9D18E" />
<rect x="671.96" y="512.5" width="3.01" height="62.66" fill="#558ED5" />
<rect x="671.96" y="575.16" width="3.01" height="1.54" fill="#A9D18E" />
<rect x="673.97" y="512.5" width="3.01" height="63.24" fill="#558ED5" />
<rect x="673.97" y="575.74" width="3.01" height="0.96" fill="#A9D18E" />
<rect x="675.99" y="512.5" width="2.01" height="64.17" fill="#558ED5" />
<rect x="675.99" y="576.67" width="2.01" height="0.03" fill="#A9D18E" />
<line x1="110.4" y1="512.5" x2="110.4" y2="576.7" stroke="#000000" stroke-width="1" stroke-opacity="0.42"/>
<line x1="169.9" y1="512.5" x2="169.9" y2="576.7" stroke="#000000" stroke-width="1" stroke-opacity="0.42"/>
<line x1="215.8" y1="512.5" x2="215.8" y2="576.7" stroke="#000000" stroke-width="1" stroke-opacity="0.42"/>
<line x1="274.6" y1="512.5" x2="274.6" y2="576.7" stroke="#000000" stroke-width="1" stroke-opacity="0.42"/>
<line x1="331.8" y1="512.5" x2="331.8" y2="576.7" stroke="#000000" stroke-width="1" stroke-opacity="0.42"/>
<line x1="408.8" y1="512.5" x2="408.8" y2="576.7" stroke="#000000" stroke-width="1" stroke-opacity="0.42"/>
<line x1="448.7" y1="512.5" x2="448.7" y2="576.7" stroke="#000000" stroke-width="1" stroke-opacity="0.42"/>
<line x1="553.2" y1="512.5" x2="553.2" y2="576.7" stroke="#000000" stroke-width="1" stroke-opacity="0.42"/>
<rect x="76" y="511.5" width="603" height="66.1" fill="none" stroke="#000" stroke-width="2"/>
<rect x="77" y="583.8" width="601" height="63.8" fill="#A9D18E" />
<rect x="77" y="583.8" width="2.96" height="23.7" fill="#FFF200" />
<rect x="77" y="607.5" width="2.96" height="0.87" fill="#558ED5" />
<rect x="77" y="608.37" width="2.96" height="39.23" fill="#A9D18E" />
<rect x="78.96" y="583.8" width="2.96" height="0.79" fill="#ED1C24" />
<rect x="78.96" y="584.59" width="2.96" height="2.5" fill="#FFF200" />
<rect x="78.96" y="587.09" width="2.96" height="0.24" fill="#558ED5" />
<rect x="78.96" y="587.33" width="2.96" height="60.27" fill="#A9D18E" />
<rect x="80.93" y="583.8" width="2.96" height="2" fill="#FFF200" />
<rect x="80.93" y="585.8" width="2.96" height="0.42" fill="#558ED5" />
<rect x="80.93" y="586.22" width="2.96" height="61.38" fill="#A9D18E" />
<rect x="82.89" y="583.8" width="2.96" height="2" fill="#FFF200" />
<rect x="82.89" y="585.8" width="2.96" height="0.28" fill="#558ED5" />
<rect x="82.89" y="586.08" width="2.96" height="61.52" fill="#A9D18E" />
<rect x="84.86" y="583.8" width="2.96" height="0.59" fill="#FFF200" />
<rect x="84.86" y="584.39" width="2.96" height="63.21" fill="#A9D18E" />
<rect x="86.82" y="583.8" width="2.96" height="0.58" fill="#ED1C24" />
<rect x="86.82" y="584.38" width="2.96" height="47.8" fill="#FFF200" />
<rect x="86.82" y="632.18" width="2.96" height="0.18" fill="#558ED5" />
<rect x="86.82" y="632.37" width="2.96" height="15.23" fill="#A9D18E" />
<rect x="88.79" y="583.8" width="2.96" height="0.24" fill="#ED1C24" />
<rect x="88.79" y="584.04" width="2.96" height="28" fill="#FFF200" />
<rect x="88.79" y="612.04" width="2.96" height="0.07" fill="#558ED5" />
<rect x="88.79" y="612.12" width="2.96" height="35.48" fill="#A9D18E" />
<rect x="90.75" y="583.8" width="2.96" height="0.4" fill="#ED1C24" />
<rect x="90.75" y="584.2" width="2.96" height="2" fill="#FFF200" />
<rect x="90.75" y="586.2" width="2.96" height="0.24" fill="#558ED5" />
<rect x="90.75" y="586.44" width="2.96" height="61.16" fill="#A9D18E" />
<rect x="92.72" y="583.8" width="2.96" height="1.08" fill="#ED1C24" />
<rect x="92.72" y="584.88" width="2.96" height="2.5" fill="#FFF200" />
<rect x="92.72" y="587.38" width="2.96" height="0.44" fill="#558ED5" />
<rect x="92.72" y="587.82" width="2.96" height="59.78" fill="#A9D18E" />
<rect x="94.68" y="583.8" width="2.96" height="9.8" fill="#FFF200" />
<rect x="94.68" y="593.6" width="2.96" height="0.05" fill="#558ED5" />
<rect x="94.68" y="593.65" width="2.96" height="53.95" fill="#A9D18E" />
<rect x="96.65" y="583.8" width="2.96" height="0.39" fill="#ED1C24" />
<rect x="96.65" y="584.19" width="2.96" height="4.5" fill="#FFF200" />
<rect x="96.65" y="588.69" width="2.96" height="0.72" fill="#558ED5" />
<rect x="96.65" y="589.41" width="2.96" height="58.19" fill="#A9D18E" />
<rect x="98.61" y="583.8" width="2.96" height="0.59" fill="#ED1C24" />
<rect x="98.61" y="584.39" width="2.96" height="9.1" fill="#FFF200" />
<rect x="98.61" y="593.49" width="2.96" height="0.38" fill="#558ED5" />
<rect x="98.61" y="593.87" width="2.96" height="53.73" fill="#A9D18E" />
<rect x="100.58" y="583.8" width="2.96" height="0.52" fill="#ED1C24" />
<rect x="100.58" y="584.32" width="2.96" height="0.24" fill="#558ED5" />
<rect x="100.58" y="584.56" width="2.96" height="63.04" fill="#A9D18E" />
<rect x="102.54" y="583.8" width="2.96" height="0.72" fill="#ED1C24" />
<rect x="102.54" y="584.52" width="2.96" height="0.55" fill="#558ED5" />
<rect x="102.54" y="585.07" width="2.96" height="62.53" fill="#A9D18E" />
<rect x="104.51" y="583.8" width="2.96" height="0.58" fill="#ED1C24" />
<rect x="104.51" y="584.38" width="2.96" height="0.84" fill="#FFF200" />
<rect x="104.51" y="585.21" width="2.96" height="0.3" fill="#558ED5" />
<rect x="104.51" y="585.52" width="2.96" height="62.08" fill="#A9D18E" />
<rect x="106.47" y="583.8" width="2.96" height="0.75" fill="#ED1C24" />
<rect x="106.47" y="584.55" width="2.96" height="0.49" fill="#FFF200" />
<rect x="106.47" y="585.04" width="2.96" height="0.58" fill="#558ED5" />
<rect x="106.47" y="585.61" width="2.96" height="61.99" fill="#A9D18E" />
<rect x="108.44" y="583.8" width="2.96" height="0.07" fill="#ED1C24" />
<rect x="108.44" y="583.87" width="2.96" height="0.96" fill="#FFF200" />
<rect x="108.44" y="584.84" width="2.96" height="0.15" fill="#558ED5" />
<rect x="108.44" y="584.99" width="2.96" height="62.61" fill="#A9D18E" />
<rect x="110.4" y="583.8" width="2.98" height="3" fill="#ED1C24" />
<rect x="110.4" y="586.8" width="2.98" height="60.8" fill="#A9D18E" />
<rect x="112.38" y="583.8" width="2.98" height="2.5" fill="#ED1C24" />
<rect x="112.38" y="586.3" width="2.98" height="40.7" fill="#FFF200" />
<rect x="112.38" y="627" width="2.98" height="20.6" fill="#A9D18E" />
<rect x="114.37" y="583.8" width="2.98" height="3.5" fill="#ED1C24" />
<rect x="114.37" y="587.3" width="2.98" height="60.3" fill="#A9D18E" />
<rect x="116.35" y="583.8" width="2.98" height="1.5" fill="#ED1C24" />
<rect x="116.35" y="585.3" width="2.98" height="62.3" fill="#A9D18E" />
<rect x="118.33" y="583.8" width="2.98" height="2" fill="#ED1C24" />
<rect x="118.33" y="585.8" width="2.98" height="0.3" fill="#558ED5" />
<rect x="118.33" y="586.1" width="2.98" height="61.5" fill="#A9D18E" />
<rect x="120.32" y="583.8" width="2.98" height="2" fill="#ED1C24" />
<rect x="120.32" y="585.8" width="2.98" height="61.8" fill="#A9D18E" />
<rect x="122.3" y="583.8" width="2.98" height="1" fill="#ED1C24" />
<rect x="122.3" y="584.8" width="2.98" height="0.3" fill="#558ED5" />
<rect x="122.3" y="585.1" width="2.98" height="62.5" fill="#A9D18E" />
<rect x="124.28" y="583.8" width="2.98" height="4.5" fill="#ED1C24" />
<rect x="124.28" y="588.3" width="2.98" height="1" fill="#558ED5" />
<rect x="124.28" y="589.3" width="2.98" height="58.3" fill="#A9D18E" />
<rect x="126.27" y="583.8" width="2.98" height="1" fill="#ED1C24" />
<rect x="126.27" y="584.8" width="2.98" height="0.5" fill="#FFF200" />
<rect x="126.27" y="585.3" width="2.98" height="62.3" fill="#A9D18E" />
<rect x="128.25" y="583.8" width="2.98" height="3" fill="#ED1C24" />
<rect x="128.25" y="586.8" width="2.98" height="60.8" fill="#A9D18E" />
<rect x="130.23" y="583.8" width="2.98" height="1" fill="#ED1C24" />
<rect x="130.23" y="584.8" width="2.98" height="0.3" fill="#558ED5" />
<rect x="130.23" y="585.1" width="2.98" height="62.5" fill="#A9D18E" />
<rect x="132.22" y="583.8" width="2.98" height="0.5" fill="#ED1C24" />
<rect x="132.22" y="584.3" width="2.98" height="1.5" fill="#558ED5" />
<rect x="132.22" y="585.8" width="2.98" height="61.8" fill="#A9D18E" />
<rect x="134.2" y="583.8" width="2.98" height="1" fill="#ED1C24" />
<rect x="134.2" y="584.8" width="2.98" height="62.8" fill="#A9D18E" />
<rect x="136.18" y="583.8" width="2.98" height="1" fill="#ED1C24" />
<rect x="136.18" y="584.8" width="2.98" height="0.3" fill="#FFF200" />
<rect x="136.18" y="585.1" width="2.98" height="62.5" fill="#A9D18E" />
<rect x="138.17" y="583.8" width="2.98" height="1" fill="#ED1C24" />
<rect x="138.17" y="584.8" width="2.98" height="0.3" fill="#558ED5" />
<rect x="138.17" y="585.1" width="2.98" height="62.5" fill="#A9D18E" />
<rect x="140.15" y="583.8" width="2.98" height="0.8" fill="#ED1C24" />
<rect x="140.15" y="584.6" width="2.98" height="0.5" fill="#558ED5" />
<rect x="140.15" y="585.1" width="2.98" height="62.5" fill="#A9D18E" />
<rect x="142.13" y="583.8" width="2.98" height="0.5" fill="#ED1C24" />
<rect x="142.13" y="584.3" width="2.98" height="2.5" fill="#558ED5" />
<rect x="142.13" y="586.8" width="2.98" height="60.8" fill="#A9D18E" />
<rect x="144.12" y="583.8" width="2.98" height="0.5" fill="#ED1C24" />
<rect x="144.12" y="584.3" width="2.98" height="0.5" fill="#FFF200" />
<rect x="144.12" y="584.8" width="2.98" height="1" fill="#558ED5" />
<rect x="144.12" y="585.8" width="2.98" height="61.8" fill="#A9D18E" />
<rect x="146.1" y="583.8" width="2.98" height="0.5" fill="#ED1C24" />
<rect x="146.1" y="584.3" width="2.98" height="0.8" fill="#FFF200" />
<rect x="146.1" y="585.1" width="2.98" height="62.5" fill="#A9D18E" />
<rect x="148.08" y="583.8" width="2.98" height="1" fill="#ED1C24" />
<rect x="148.08" y="584.8" width="2.98" height="0.5" fill="#FFF200" />
<rect x="148.08" y="585.3" width="2.98" height="62.3" fill="#A9D18E" />
<rect x="150.07" y="583.8" width="2.98" height="1" fill="#ED1C24" />
<rect x="150.07" y="584.8" width="2.98" height="0.3" fill="#558ED5" />
<rect x="150.07" y="585.1" width="2.98" height="62.5" fill="#A9D18E" />
<rect x="152.05" y="583.8" width="2.98" height="1.5" fill="#ED1C24" />
<rect x="152.05" y="585.3" width="2.98" height="62.3" fill="#A9D18E" />
<rect x="154.03" y="583.8" width="2.98" height="2.5" fill="#ED1C24" />
<rect x="154.03" y="586.3" width="2.98" height="9.5" fill="#558ED5" />
<rect x="154.03" y="595.8" width="2.98" height="51.8" fill="#A9D18E" />
<rect x="156.02" y="583.8" width="2.98" height="1" fill="#ED1C24" />
<rect x="156.02" y="584.8" width="2.98" height="62.8" fill="#A9D18E" />
<rect x="158" y="583.8" width="2.98" height="1.2" fill="#ED1C24" />
<rect x="158" y="585" width="2.98" height="62.6" fill="#A9D18E" />
<rect x="159.98" y="583.8" width="2.98" height="3.5" fill="#ED1C24" />
<rect x="159.98" y="587.3" width="2.98" height="0.5" fill="#558ED5" />
<rect x="159.98" y="587.8" width="2.98" height="59.8" fill="#A9D18E" />
<rect x="161.97" y="583.8" width="2.98" height="2.5" fill="#ED1C24" />
<rect x="161.97" y="586.3" width="2.98" height="61.3" fill="#A9D18E" />
<rect x="163.95" y="583.8" width="2.98" height="0.5" fill="#ED1C24" />
<rect x="163.95" y="584.3" width="2.98" height="1.5" fill="#FFF200" />
<rect x="163.95" y="585.8" width="2.98" height="61.8" fill="#A9D18E" />
<rect x="165.93" y="583.8" width="2.98" height="0.3" fill="#ED1C24" />
<rect x="165.93" y="584.1" width="2.98" height="1.5" fill="#FFF200" />
<rect x="165.93" y="585.6" width="2.98" height="62" fill="#A9D18E" />
<rect x="167.92" y="583.8" width="2.98" height="0.3" fill="#ED1C24" />
<rect x="167.92" y="584.1" width="2.98" height="1.2" fill="#FFF200" />
<rect x="167.92" y="585.3" width="2.98" height="62.3" fill="#A9D18E" />
<rect x="169.9" y="583.8" width="3" height="0.76" fill="#ED1C24" />
<rect x="169.9" y="584.56" width="3" height="0.53" fill="#FFF200" />
<rect x="169.9" y="585.09" width="3" height="0.89" fill="#558ED5" />
<rect x="169.9" y="585.99" width="3" height="61.61" fill="#A9D18E" />
<rect x="171.9" y="583.8" width="3" height="0.39" fill="#ED1C24" />
<rect x="171.9" y="584.19" width="3" height="0.21" fill="#FFF200" />
<rect x="171.9" y="584.41" width="3" height="0.84" fill="#558ED5" />
<rect x="171.9" y="585.24" width="3" height="62.36" fill="#A9D18E" />
<rect x="173.89" y="583.8" width="3" height="0.33" fill="#ED1C24" />
<rect x="173.89" y="584.13" width="3" height="0.21" fill="#FFF200" />
<rect x="173.89" y="584.33" width="3" height="0.49" fill="#558ED5" />
<rect x="173.89" y="584.83" width="3" height="62.77" fill="#A9D18E" />
<rect x="175.89" y="583.8" width="3" height="0.39" fill="#ED1C24" />
<rect x="175.89" y="584.19" width="3" height="0.2" fill="#FFF200" />
<rect x="175.89" y="584.39" width="3" height="63.21" fill="#A9D18E" />
<rect x="177.88" y="583.8" width="3" height="0.61" fill="#ED1C24" />
<rect x="177.88" y="584.41" width="3" height="0.29" fill="#FFF200" />
<rect x="177.88" y="584.7" width="3" height="0.21" fill="#558ED5" />
<rect x="177.88" y="584.91" width="3" height="62.69" fill="#A9D18E" />
<rect x="179.88" y="583.8" width="3" height="0.92" fill="#FFF200" />
<rect x="179.88" y="584.72" width="3" height="0.53" fill="#558ED5" />
<rect x="179.88" y="585.26" width="3" height="62.34" fill="#A9D18E" />
<rect x="181.87" y="583.8" width="3" height="0.79" fill="#ED1C24" />
<rect x="181.87" y="584.59" width="3" height="0.52" fill="#558ED5" />
<rect x="181.87" y="585.11" width="3" height="62.49" fill="#A9D18E" />
<rect x="183.87" y="583.8" width="3" height="0.45" fill="#ED1C24" />
<rect x="183.87" y="584.25" width="3" height="1.66" fill="#558ED5" />
<rect x="183.87" y="585.91" width="3" height="61.69" fill="#A9D18E" />
<rect x="185.87" y="583.8" width="3" height="0.62" fill="#ED1C24" />
<rect x="185.87" y="584.42" width="3" height="0.21" fill="#FFF200" />
<rect x="185.87" y="584.63" width="3" height="0.81" fill="#558ED5" />
<rect x="185.87" y="585.44" width="3" height="62.16" fill="#A9D18E" />
<rect x="187.86" y="583.8" width="3" height="0.55" fill="#ED1C24" />
<rect x="187.86" y="584.35" width="3" height="0.56" fill="#FFF200" />
<rect x="187.86" y="584.9" width="3" height="62.7" fill="#A9D18E" />
<rect x="189.86" y="583.8" width="3" height="0.66" fill="#ED1C24" />
<rect x="189.86" y="584.46" width="3" height="0.12" fill="#FFF200" />
<rect x="189.86" y="584.58" width="3" height="0.61" fill="#558ED5" />
<rect x="189.86" y="585.19" width="3" height="62.41" fill="#A9D18E" />
<rect x="191.85" y="583.8" width="3" height="0.2" fill="#ED1C24" />
<rect x="191.85" y="584" width="3" height="0.37" fill="#FFF200" />
<rect x="191.85" y="584.36" width="3" height="0.41" fill="#558ED5" />
<rect x="191.85" y="584.77" width="3" height="62.83" fill="#A9D18E" />
<rect x="193.85" y="583.8" width="3" height="0.48" fill="#ED1C24" />
<rect x="193.85" y="584.28" width="3" height="0.29" fill="#FFF200" />
<rect x="193.85" y="584.57" width="3" height="63.03" fill="#A9D18E" />
<rect x="195.84" y="583.8" width="3" height="0.39" fill="#ED1C24" />
<rect x="195.84" y="584.19" width="3" height="0.9" fill="#558ED5" />
<rect x="195.84" y="585.09" width="3" height="62.51" fill="#A9D18E" />
<rect x="197.84" y="583.8" width="3" height="0.9" fill="#ED1C24" />
<rect x="197.84" y="584.7" width="3" height="0.34" fill="#FFF200" />
<rect x="197.84" y="585.04" width="3" height="0.85" fill="#558ED5" />
<rect x="197.84" y="585.89" width="3" height="61.71" fill="#A9D18E" />
<rect x="199.83" y="583.8" width="3" height="1.4" fill="#558ED5" />
<rect x="199.83" y="585.2" width="3" height="62.4" fill="#A9D18E" />
<rect x="201.83" y="583.8" width="3" height="0.77" fill="#ED1C24" />
<rect x="201.83" y="584.57" width="3" height="0.76" fill="#FFF200" />
<rect x="201.83" y="585.33" width="3" height="0.94" fill="#558ED5" />
<rect x="201.83" y="586.27" width="3" height="61.33" fill="#A9D18E" />
<rect x="203.83" y="583.8" width="3" height="0.11" fill="#ED1C24" />
<rect x="203.83" y="583.91" width="3" height="0.11" fill="#FFF200" />
<rect x="203.83" y="584.03" width="3" height="0.93" fill="#558ED5" />
<rect x="203.83" y="584.95" width="3" height="62.65" fill="#A9D18E" />
<rect x="205.82" y="583.8" width="3" height="0.96" fill="#558ED5" />
<rect x="205.82" y="584.76" width="3" height="62.84" fill="#A9D18E" />
<rect x="207.82" y="583.8" width="3" height="1.17" fill="#ED1C24" />
<rect x="207.82" y="584.97" width="3" height="1" fill="#FFF200" />
<rect x="207.82" y="585.97" width="3" height="0.2" fill="#558ED5" />
<rect x="207.82" y="586.17" width="3" height="61.43" fill="#A9D18E" />
<rect x="209.81" y="583.8" width="3" height="0.49" fill="#ED1C24" />
<rect x="209.81" y="584.29" width="3" height="0.08" fill="#FFF200" />
<rect x="209.81" y="584.37" width="3" height="0.33" fill="#558ED5" />
<rect x="209.81" y="584.7" width="3" height="62.9" fill="#A9D18E" />
<rect x="211.81" y="583.8" width="3" height="0.37" fill="#ED1C24" />
<rect x="211.81" y="584.17" width="3" height="0.69" fill="#FFF200" />
<rect x="211.81" y="584.86" width="3" height="0.3" fill="#558ED5" />
<rect x="211.81" y="585.16" width="3" height="62.44" fill="#A9D18E" />
<rect x="213.8" y="583.8" width="3" height="0.17" fill="#ED1C24" />
<rect x="213.8" y="583.97" width="3" height="0.69" fill="#FFF200" />
<rect x="213.8" y="584.66" width="3" height="0.17" fill="#558ED5" />
<rect x="213.8" y="584.82" width="3" height="62.78" fill="#A9D18E" />
<rect x="215.8" y="583.8" width="3.03" height="0.27" fill="#ED1C24" />
<rect x="215.8" y="584.07" width="3.03" height="42.1" fill="#FFF200" />
<rect x="215.8" y="626.17" width="3.03" height="0.69" fill="#558ED5" />
<rect x="215.8" y="626.86" width="3.03" height="20.74" fill="#A9D18E" />
<rect x="217.83" y="583.8" width="3.03" height="1.05" fill="#FFF200" />
<rect x="217.83" y="584.85" width="3.03" height="0.73" fill="#558ED5" />
<rect x="217.83" y="585.58" width="3.03" height="62.02" fill="#A9D18E" />
<rect x="219.86" y="583.8" width="3.03" height="0.1" fill="#ED1C24" />
<rect x="219.86" y="583.9" width="3.03" height="52.5" fill="#FFF200" />
<rect x="219.86" y="636.4" width="3.03" height="11.2" fill="#A9D18E" />
<rect x="221.88" y="583.8" width="3.03" height="0.62" fill="#ED1C24" />
<rect x="221.88" y="584.42" width="3.03" height="3" fill="#FFF200" />
<rect x="221.88" y="587.42" width="3.03" height="0.59" fill="#558ED5" />
<rect x="221.88" y="588.01" width="3.03" height="59.59" fill="#A9D18E" />
<rect x="223.91" y="583.8" width="3.03" height="0.12" fill="#ED1C24" />
<rect x="223.91" y="583.92" width="3.03" height="0.97" fill="#FFF200" />
<rect x="223.91" y="584.88" width="3.03" height="0.65" fill="#558ED5" />
<rect x="223.91" y="585.53" width="3.03" height="62.07" fill="#A9D18E" />
<rect x="225.94" y="583.8" width="3.03" height="2.5" fill="#ED1C24" />
<rect x="225.94" y="586.3" width="3.03" height="6.7" fill="#FFF200" />
<rect x="225.94" y="593" width="3.03" height="54.6" fill="#A9D18E" />
<rect x="227.97" y="583.8" width="3.03" height="2.5" fill="#ED1C24" />
<rect x="227.97" y="586.3" width="3.03" height="6" fill="#FFF200" />
<rect x="227.97" y="592.3" width="3.03" height="0.81" fill="#558ED5" />
<rect x="227.97" y="593.11" width="3.03" height="54.49" fill="#A9D18E" />
<rect x="229.99" y="583.8" width="3.03" height="2" fill="#ED1C24" />
<rect x="229.99" y="585.8" width="3.03" height="4" fill="#FFF200" />
<rect x="229.99" y="589.8" width="3.03" height="0.97" fill="#558ED5" />
<rect x="229.99" y="590.77" width="3.03" height="56.83" fill="#A9D18E" />
<rect x="232.02" y="583.8" width="3.03" height="0.92" fill="#ED1C24" />
<rect x="232.02" y="584.72" width="3.03" height="3.5" fill="#FFF200" />
<rect x="232.02" y="588.22" width="3.03" height="0.83" fill="#558ED5" />
<rect x="232.02" y="589.06" width="3.03" height="58.54" fill="#A9D18E" />
<rect x="234.05" y="583.8" width="3.03" height="0.08" fill="#ED1C24" />
<rect x="234.05" y="583.88" width="3.03" height="22" fill="#FFF200" />
<rect x="234.05" y="605.88" width="3.03" height="0.37" fill="#558ED5" />
<rect x="234.05" y="606.25" width="3.03" height="41.35" fill="#A9D18E" />
<rect x="236.08" y="583.8" width="3.03" height="1.1" fill="#ED1C24" />
<rect x="236.08" y="584.9" width="3.03" height="40.8" fill="#FFF200" />
<rect x="236.08" y="625.7" width="3.03" height="0.28" fill="#558ED5" />
<rect x="236.08" y="625.98" width="3.03" height="21.62" fill="#A9D18E" />
<rect x="238.1" y="583.8" width="3.03" height="3.2" fill="#ED1C24" />
<rect x="238.1" y="587" width="3.03" height="2.05" fill="#FFF200" />
<rect x="238.1" y="589.05" width="3.03" height="0.61" fill="#558ED5" />
<rect x="238.1" y="589.66" width="3.03" height="57.94" fill="#A9D18E" />
<rect x="240.13" y="583.8" width="3.03" height="3" fill="#FFF200" />
<rect x="240.13" y="586.8" width="3.03" height="0.92" fill="#558ED5" />
<rect x="240.13" y="587.72" width="3.03" height="59.88" fill="#A9D18E" />
<rect x="242.16" y="583.8" width="3.03" height="0.97" fill="#ED1C24" />
<rect x="242.16" y="584.77" width="3.03" height="2.5" fill="#FFF200" />
<rect x="242.16" y="587.27" width="3.03" height="0.34" fill="#558ED5" />
<rect x="242.16" y="587.62" width="3.03" height="59.98" fill="#A9D18E" />
<rect x="244.19" y="583.8" width="3.03" height="5.5" fill="#ED1C24" />
<rect x="244.19" y="589.3" width="3.03" height="17.2" fill="#FFF200" />
<rect x="244.19" y="606.5" width="3.03" height="0.64" fill="#558ED5" />
<rect x="244.19" y="607.14" width="3.03" height="40.46" fill="#A9D18E" />
<rect x="246.21" y="583.8" width="3.03" height="1" fill="#ED1C24" />
<rect x="246.21" y="584.8" width="3.03" height="3" fill="#FFF200" />
<rect x="246.21" y="587.8" width="3.03" height="0.34" fill="#558ED5" />
<rect x="246.21" y="588.14" width="3.03" height="59.46" fill="#A9D18E" />
<rect x="248.24" y="583.8" width="3.03" height="1.26" fill="#ED1C24" />
<rect x="248.24" y="585.06" width="3.03" height="25.2" fill="#FFF200" />
<rect x="248.24" y="610.26" width="3.03" height="0.35" fill="#558ED5" />
<rect x="248.24" y="610.61" width="3.03" height="36.99" fill="#A9D18E" />
<rect x="250.27" y="583.8" width="3.03" height="0.16" fill="#ED1C24" />
<rect x="250.27" y="583.96" width="3.03" height="4" fill="#FFF200" />
<rect x="250.27" y="587.96" width="3.03" height="1.07" fill="#558ED5" />
<rect x="250.27" y="589.03" width="3.03" height="58.57" fill="#A9D18E" />
<rect x="252.3" y="583.8" width="3.03" height="0.65" fill="#ED1C24" />
<rect x="252.3" y="584.45" width="3.03" height="6.4" fill="#FFF200" />
<rect x="252.3" y="590.85" width="3.03" height="0.76" fill="#558ED5" />
<rect x="252.3" y="591.61" width="3.03" height="55.99" fill="#A9D18E" />
<rect x="254.32" y="583.8" width="3.03" height="0.61" fill="#ED1C24" />
<rect x="254.32" y="584.41" width="3.03" height="3" fill="#FFF200" />
<rect x="254.32" y="587.41" width="3.03" height="1.1" fill="#558ED5" />
<rect x="254.32" y="588.51" width="3.03" height="59.09" fill="#A9D18E" />
<rect x="256.35" y="583.8" width="3.03" height="12" fill="#ED1C24" />
<rect x="256.35" y="595.8" width="3.03" height="3.5" fill="#FFF200" />
<rect x="256.35" y="599.3" width="3.03" height="0.52" fill="#558ED5" />
<rect x="256.35" y="599.82" width="3.03" height="47.78" fill="#A9D18E" />
<rect x="258.38" y="583.8" width="3.03" height="6" fill="#ED1C24" />
<rect x="258.38" y="589.8" width="3.03" height="1.55" fill="#FFF200" />
<rect x="258.38" y="591.35" width="3.03" height="56.25" fill="#A9D18E" />
<rect x="260.41" y="583.8" width="3.03" height="8.8" fill="#ED1C24" />
<rect x="260.41" y="592.6" width="3.03" height="1.35" fill="#FFF200" />
<rect x="260.41" y="593.95" width="3.03" height="0.37" fill="#558ED5" />
<rect x="260.41" y="594.33" width="3.03" height="53.27" fill="#A9D18E" />
<rect x="262.43" y="583.8" width="3.03" height="3" fill="#ED1C24" />
<rect x="262.43" y="586.8" width="3.03" height="2.1" fill="#FFF200" />
<rect x="262.43" y="588.9" width="3.03" height="1.4" fill="#558ED5" />
<rect x="262.43" y="590.3" width="3.03" height="57.3" fill="#A9D18E" />
<rect x="264.46" y="583.8" width="3.03" height="0.43" fill="#ED1C24" />
<rect x="264.46" y="584.23" width="3.03" height="3.14" fill="#FFF200" />
<rect x="264.46" y="587.37" width="3.03" height="5" fill="#558ED5" />
<rect x="264.46" y="592.37" width="3.03" height="55.23" fill="#A9D18E" />
<rect x="266.49" y="583.8" width="3.03" height="2" fill="#ED1C24" />
<rect x="266.49" y="585.8" width="3.03" height="0.71" fill="#FFF200" />
<rect x="266.49" y="586.51" width="3.03" height="0.59" fill="#558ED5" />
<rect x="266.49" y="587.09" width="3.03" height="60.51" fill="#A9D18E" />
<rect x="268.52" y="583.8" width="3.03" height="0.59" fill="#ED1C24" />
<rect x="268.52" y="584.39" width="3.03" height="1.66" fill="#FFF200" />
<rect x="268.52" y="586.04" width="3.03" height="0.16" fill="#558ED5" />
<rect x="268.52" y="586.2" width="3.03" height="61.4" fill="#A9D18E" />
<rect x="270.54" y="583.8" width="3.03" height="0.06" fill="#ED1C24" />
<rect x="270.54" y="583.86" width="3.03" height="1.82" fill="#FFF200" />
<rect x="270.54" y="585.68" width="3.03" height="0.61" fill="#558ED5" />
<rect x="270.54" y="586.3" width="3.03" height="61.3" fill="#A9D18E" />
<rect x="272.57" y="583.8" width="3.03" height="1.08" fill="#FFF200" />
<rect x="272.57" y="584.88" width="3.03" height="1.17" fill="#558ED5" />
<rect x="272.57" y="586.05" width="3.03" height="61.55" fill="#A9D18E" />
<rect x="274.6" y="583.8" width="3.04" height="4.34" fill="#ED1C24" />
<rect x="274.6" y="588.14" width="3.04" height="6.79" fill="#558ED5" />
<rect x="274.6" y="594.93" width="3.04" height="52.67" fill="#A9D18E" />
<rect x="276.64" y="583.8" width="3.04" height="7.06" fill="#ED1C24" />
<rect x="276.64" y="590.86" width="3.04" height="8.14" fill="#558ED5" />
<rect x="276.64" y="599" width="3.04" height="48.6" fill="#A9D18E" />
<rect x="278.69" y="583.8" width="3.04" height="3.89" fill="#ED1C24" />
<rect x="278.69" y="587.69" width="3.04" height="7.24" fill="#558ED5" />
<rect x="278.69" y="594.93" width="3.04" height="52.67" fill="#A9D18E" />
<rect x="280.73" y="583.8" width="3.04" height="7.06" fill="#ED1C24" />
<rect x="280.73" y="590.86" width="3.04" height="8.14" fill="#558ED5" />
<rect x="280.73" y="599" width="3.04" height="48.6" fill="#A9D18E" />
<rect x="282.77" y="583.8" width="3.04" height="8.87" fill="#ED1C24" />
<rect x="282.77" y="592.67" width="3.04" height="16.74" fill="#558ED5" />
<rect x="282.77" y="609.41" width="3.04" height="38.19" fill="#A9D18E" />
<rect x="284.81" y="583.8" width="3.04" height="7.51" fill="#ED1C24" />
<rect x="284.81" y="591.31" width="3.04" height="8.14" fill="#558ED5" />
<rect x="284.81" y="599.46" width="3.04" height="48.14" fill="#A9D18E" />
<rect x="286.86" y="583.8" width="3.04" height="4.8" fill="#ED1C24" />
<rect x="286.86" y="588.6" width="3.04" height="6.79" fill="#558ED5" />
<rect x="286.86" y="595.38" width="3.04" height="52.22" fill="#A9D18E" />
<rect x="288.9" y="583.8" width="3.04" height="4.34" fill="#ED1C24" />
<rect x="288.9" y="588.14" width="3.04" height="8.14" fill="#558ED5" />
<rect x="288.9" y="596.29" width="3.04" height="51.31" fill="#A9D18E" />
<rect x="290.94" y="583.8" width="3.04" height="7.51" fill="#ED1C24" />
<rect x="290.94" y="591.31" width="3.04" height="13.12" fill="#558ED5" />
<rect x="290.94" y="604.43" width="3.04" height="43.17" fill="#A9D18E" />
<rect x="292.99" y="583.8" width="3.04" height="6.15" fill="#ED1C24" />
<rect x="292.99" y="589.95" width="3.04" height="4.52" fill="#558ED5" />
<rect x="292.99" y="594.48" width="3.04" height="53.12" fill="#A9D18E" />
<rect x="295.03" y="583.8" width="3.04" height="6.61" fill="#ED1C24" />
<rect x="295.03" y="590.41" width="3.04" height="10.41" fill="#558ED5" />
<rect x="295.03" y="600.81" width="3.04" height="46.79" fill="#A9D18E" />
<rect x="297.07" y="583.8" width="3.04" height="13.85" fill="#ED1C24" />
<rect x="297.07" y="597.65" width="3.04" height="6.79" fill="#558ED5" />
<rect x="297.07" y="604.43" width="3.04" height="43.17" fill="#A9D18E" />
<rect x="299.11" y="583.8" width="3.04" height="5.25" fill="#ED1C24" />
<rect x="299.11" y="589.05" width="3.04" height="7.69" fill="#558ED5" />
<rect x="299.11" y="596.74" width="3.04" height="50.86" fill="#A9D18E" />
<rect x="301.16" y="583.8" width="3.04" height="4.34" fill="#ED1C24" />
<rect x="301.16" y="588.14" width="3.04" height="9.5" fill="#558ED5" />
<rect x="301.16" y="597.65" width="3.04" height="49.95" fill="#A9D18E" />
<rect x="303.2" y="583.8" width="3.04" height="18.37" fill="#ED1C24" />
<rect x="303.2" y="602.17" width="3.04" height="10.41" fill="#558ED5" />
<rect x="303.2" y="612.58" width="3.04" height="35.02" fill="#A9D18E" />
<rect x="305.24" y="583.8" width="3.04" height="17.47" fill="#ED1C24" />
<rect x="305.24" y="601.27" width="3.04" height="13.12" fill="#558ED5" />
<rect x="305.24" y="614.39" width="3.04" height="33.21" fill="#A9D18E" />
<rect x="307.29" y="583.8" width="3.04" height="7.06" fill="#ED1C24" />
<rect x="307.29" y="590.86" width="3.04" height="6.33" fill="#558ED5" />
<rect x="307.29" y="597.19" width="3.04" height="50.41" fill="#A9D18E" />
<rect x="309.33" y="583.8" width="3.04" height="22.44" fill="#ED1C24" />
<rect x="309.33" y="606.24" width="3.04" height="10.86" fill="#558ED5" />
<rect x="309.33" y="617.1" width="3.04" height="30.5" fill="#A9D18E" />
<rect x="311.37" y="583.8" width="3.04" height="6.15" fill="#ED1C24" />
<rect x="311.37" y="589.95" width="3.04" height="14.48" fill="#558ED5" />
<rect x="311.37" y="604.43" width="3.04" height="43.17" fill="#A9D18E" />
<rect x="313.41" y="583.8" width="3.04" height="16.56" fill="#ED1C24" />
<rect x="313.41" y="600.36" width="3.04" height="4.52" fill="#558ED5" />
<rect x="313.41" y="604.89" width="3.04" height="42.71" fill="#A9D18E" />
<rect x="315.46" y="583.8" width="3.04" height="5.25" fill="#ED1C24" />
<rect x="315.46" y="589.05" width="3.04" height="5.88" fill="#558ED5" />
<rect x="315.46" y="594.93" width="3.04" height="52.67" fill="#A9D18E" />
<rect x="317.5" y="583.8" width="3.04" height="15.66" fill="#ED1C24" />
<rect x="317.5" y="599.46" width="3.04" height="15.38" fill="#558ED5" />
<rect x="317.5" y="614.84" width="3.04" height="32.76" fill="#A9D18E" />
<rect x="319.54" y="583.8" width="3.04" height="6.61" fill="#ED1C24" />
<rect x="319.54" y="590.41" width="3.04" height="13.57" fill="#558ED5" />
<rect x="319.54" y="603.98" width="3.04" height="43.62" fill="#A9D18E" />
<rect x="321.59" y="583.8" width="3.04" height="5.25" fill="#ED1C24" />
<rect x="321.59" y="589.05" width="3.04" height="15.38" fill="#558ED5" />
<rect x="321.59" y="604.43" width="3.04" height="43.17" fill="#A9D18E" />
<rect x="323.63" y="583.8" width="3.04" height="22.9" fill="#ED1C24" />
<rect x="323.63" y="606.7" width="3.04" height="7.69" fill="#558ED5" />
<rect x="323.63" y="614.39" width="3.04" height="33.21" fill="#A9D18E" />
<rect x="325.67" y="583.8" width="3.04" height="19.28" fill="#ED1C24" />
<rect x="325.67" y="603.08" width="3.04" height="13.57" fill="#558ED5" />
<rect x="325.67" y="616.65" width="3.04" height="30.95" fill="#A9D18E" />
<rect x="327.71" y="583.8" width="3.04" height="7.51" fill="#ED1C24" />
<rect x="327.71" y="591.31" width="3.04" height="6.79" fill="#558ED5" />
<rect x="327.71" y="598.1" width="3.04" height="49.5" fill="#A9D18E" />
<rect x="329.76" y="583.8" width="3.04" height="7.06" fill="#ED1C24" />
<rect x="329.76" y="590.86" width="3.04" height="13.12" fill="#558ED5" />
<rect x="329.76" y="603.98" width="3.04" height="43.62" fill="#A9D18E" />
<rect x="331.8" y="583.8" width="3.03" height="9.9" fill="#ED1C24" />
<rect x="331.8" y="593.7" width="3.03" height="11.1" fill="#558ED5" />
<rect x="331.8" y="604.8" width="3.03" height="42.8" fill="#A9D18E" />
<rect x="333.83" y="583.8" width="3.03" height="4.6" fill="#ED1C24" />
<rect x="333.83" y="588.4" width="3.03" height="3.2" fill="#558ED5" />
<rect x="333.83" y="591.6" width="3.03" height="56" fill="#A9D18E" />
<rect x="335.85" y="583.8" width="3.03" height="14.6" fill="#ED1C24" />
<rect x="335.85" y="598.4" width="3.03" height="10.5" fill="#558ED5" />
<rect x="335.85" y="608.9" width="3.03" height="38.7" fill="#A9D18E" />
<rect x="337.88" y="583.8" width="3.03" height="11" fill="#ED1C24" />
<rect x="337.88" y="594.8" width="3.03" height="2.1" fill="#558ED5" />
<rect x="337.88" y="596.9" width="3.03" height="50.7" fill="#A9D18E" />
<rect x="339.91" y="583.8" width="3.03" height="21.8" fill="#ED1C24" />
<rect x="339.91" y="605.6" width="3.03" height="2.7" fill="#558ED5" />
<rect x="339.91" y="608.3" width="3.03" height="39.3" fill="#A9D18E" />
<rect x="341.93" y="583.8" width="3.03" height="23.3" fill="#ED1C24" />
<rect x="341.93" y="607.1" width="3.03" height="4.4" fill="#558ED5" />
<rect x="341.93" y="611.5" width="3.03" height="36.1" fill="#A9D18E" />
<rect x="343.96" y="583.8" width="3.03" height="6.4" fill="#ED1C24" />
<rect x="343.96" y="590.2" width="3.03" height="3.5" fill="#558ED5" />
<rect x="343.96" y="593.7" width="3.03" height="53.9" fill="#A9D18E" />
<rect x="345.98" y="583.8" width="3.03" height="11" fill="#ED1C24" />
<rect x="345.98" y="594.8" width="3.03" height="9.7" fill="#558ED5" />
<rect x="345.98" y="604.5" width="3.03" height="43.1" fill="#A9D18E" />
<rect x="348.01" y="583.8" width="3.03" height="5.5" fill="#ED1C24" />
<rect x="348.01" y="589.3" width="3.03" height="12" fill="#558ED5" />
<rect x="348.01" y="601.3" width="3.03" height="46.3" fill="#A9D18E" />
<rect x="350.04" y="583.8" width="3.03" height="7.8" fill="#ED1C24" />
<rect x="350.04" y="591.6" width="3.03" height="8.5" fill="#558ED5" />
<rect x="350.04" y="600.1" width="3.03" height="47.5" fill="#A9D18E" />
<rect x="352.06" y="583.8" width="3.03" height="7.8" fill="#ED1C24" />
<rect x="352.06" y="591.6" width="3.03" height="6.8" fill="#558ED5" />
<rect x="352.06" y="598.4" width="3.03" height="49.2" fill="#A9D18E" />
<rect x="354.09" y="583.8" width="3.03" height="7" fill="#ED1C24" />
<rect x="354.09" y="590.8" width="3.03" height="7.8" fill="#558ED5" />
<rect x="354.09" y="598.6" width="3.03" height="49" fill="#A9D18E" />
<rect x="356.12" y="583.8" width="3.03" height="5.5" fill="#ED1C24" />
<rect x="356.12" y="589.3" width="3.03" height="3.5" fill="#558ED5" />
<rect x="356.12" y="592.8" width="3.03" height="54.8" fill="#A9D18E" />
<rect x="358.14" y="583.8" width="3.03" height="22.7" fill="#ED1C24" />
<rect x="358.14" y="606.5" width="3.03" height="2.7" fill="#558ED5" />
<rect x="358.14" y="609.2" width="3.03" height="38.4" fill="#A9D18E" />
<rect x="360.17" y="583.8" width="3.03" height="26.2" fill="#ED1C24" />
<rect x="360.17" y="610" width="3.03" height="2.7" fill="#558ED5" />
<rect x="360.17" y="612.7" width="3.03" height="34.9" fill="#A9D18E" />
<rect x="362.19" y="583.8" width="3.03" height="5.8" fill="#ED1C24" />
<rect x="362.19" y="589.6" width="3.03" height="2" fill="#558ED5" />
<rect x="362.19" y="591.6" width="3.03" height="56" fill="#A9D18E" />
<rect x="364.22" y="583.8" width="3.03" height="17.5" fill="#ED1C24" />
<rect x="364.22" y="601.3" width="3.03" height="1.7" fill="#558ED5" />
<rect x="364.22" y="603" width="3.03" height="44.6" fill="#A9D18E" />
<rect x="366.25" y="583.8" width="3.03" height="7.8" fill="#ED1C24" />
<rect x="366.25" y="591.6" width="3.03" height="5.3" fill="#558ED5" />
<rect x="366.25" y="596.9" width="3.03" height="50.7" fill="#A9D18E" />
<rect x="368.27" y="583.8" width="3.03" height="9.3" fill="#ED1C24" />
<rect x="368.27" y="593.1" width="3.03" height="5.8" fill="#558ED5" />
<rect x="368.27" y="598.9" width="3.03" height="48.7" fill="#A9D18E" />
<rect x="370.3" y="583.8" width="3.03" height="12.8" fill="#ED1C24" />
<rect x="370.3" y="596.6" width="3.03" height="11.1" fill="#558ED5" />
<rect x="370.3" y="607.7" width="3.03" height="39.9" fill="#A9D18E" />
<rect x="372.33" y="583.8" width="3.03" height="11.9" fill="#ED1C24" />
<rect x="372.33" y="595.7" width="3.03" height="1.5" fill="#558ED5" />
<rect x="372.33" y="597.2" width="3.03" height="50.4" fill="#A9D18E" />
<rect x="374.35" y="583.8" width="3.03" height="12.8" fill="#ED1C24" />
<rect x="374.35" y="596.6" width="3.03" height="1.5" fill="#558ED5" />
<rect x="374.35" y="598.1" width="3.03" height="49.5" fill="#A9D18E" />
<rect x="376.38" y="583.8" width="3.03" height="5.5" fill="#ED1C24" />
<rect x="376.38" y="589.3" width="3.03" height="3.5" fill="#558ED5" />
<rect x="376.38" y="592.8" width="3.03" height="54.8" fill="#A9D18E" />
<rect x="378.41" y="583.8" width="3.03" height="5.8" fill="#ED1C24" />
<rect x="378.41" y="589.6" width="3.03" height="3.8" fill="#558ED5" />
<rect x="378.41" y="593.4" width="3.03" height="54.2" fill="#A9D18E" />
<rect x="380.43" y="583.8" width="3.03" height="7.5" fill="#ED1C24" />
<rect x="380.43" y="591.3" width="3.03" height="2.4" fill="#558ED5" />
<rect x="380.43" y="593.7" width="3.03" height="53.9" fill="#A9D18E" />
<rect x="382.46" y="583.8" width="3.03" height="7" fill="#ED1C24" />
<rect x="382.46" y="590.8" width="3.03" height="3.8" fill="#558ED5" />
<rect x="382.46" y="594.6" width="3.03" height="53" fill="#A9D18E" />
<rect x="384.48" y="583.8" width="3.03" height="20.4" fill="#ED1C24" />
<rect x="384.48" y="604.2" width="3.03" height="3.5" fill="#558ED5" />
<rect x="384.48" y="607.7" width="3.03" height="39.9" fill="#A9D18E" />
<rect x="386.51" y="583.8" width="3.03" height="11.7" fill="#ED1C24" />
<rect x="386.51" y="595.5" width="3.03" height="33" fill="#FFF200" />
<rect x="386.51" y="628.5" width="3.03" height="1.2" fill="#558ED5" />
<rect x="386.51" y="629.7" width="3.03" height="17.9" fill="#A9D18E" />
<rect x="388.54" y="583.8" width="3.03" height="9.3" fill="#ED1C24" />
<rect x="388.54" y="593.1" width="3.03" height="1.2" fill="#558ED5" />
<rect x="388.54" y="594.3" width="3.03" height="53.3" fill="#A9D18E" />
<rect x="390.56" y="583.8" width="3.03" height="6.4" fill="#ED1C24" />
<rect x="390.56" y="590.2" width="3.03" height="9.3" fill="#558ED5" />
<rect x="390.56" y="599.5" width="3.03" height="48.1" fill="#A9D18E" />
<rect x="392.59" y="583.8" width="3.03" height="7.5" fill="#ED1C24" />
<rect x="392.59" y="591.3" width="3.03" height="7.1" fill="#558ED5" />
<rect x="392.59" y="598.4" width="3.03" height="49.2" fill="#A9D18E" />
<rect x="394.62" y="583.8" width="3.03" height="10.2" fill="#ED1C24" />
<rect x="394.62" y="594" width="3.03" height="5.5" fill="#558ED5" />
<rect x="394.62" y="599.5" width="3.03" height="48.1" fill="#A9D18E" />
<rect x="396.64" y="583.8" width="3.03" height="5.8" fill="#ED1C24" />
<rect x="396.64" y="589.6" width="3.03" height="2.3" fill="#558ED5" />
<rect x="396.64" y="591.9" width="3.03" height="55.7" fill="#A9D18E" />
<rect x="398.67" y="583.8" width="3.03" height="10.8" fill="#ED1C24" />
<rect x="398.67" y="594.6" width="3.03" height="2.9" fill="#558ED5" />
<rect x="398.67" y="597.5" width="3.03" height="50.1" fill="#A9D18E" />
<rect x="400.69" y="583.8" width="3.03" height="9.6" fill="#ED1C24" />
<rect x="400.69" y="593.4" width="3.03" height="2.9" fill="#558ED5" />
<rect x="400.69" y="596.3" width="3.03" height="51.3" fill="#A9D18E" />
<rect x="402.72" y="583.8" width="3.03" height="6.7" fill="#ED1C24" />
<rect x="402.72" y="590.5" width="3.03" height="4.9" fill="#558ED5" />
<rect x="402.72" y="595.4" width="3.03" height="52.2" fill="#A9D18E" />
<rect x="404.75" y="583.8" width="3.03" height="12.8" fill="#ED1C24" />
<rect x="404.75" y="596.6" width="3.03" height="2.9" fill="#558ED5" />
<rect x="404.75" y="599.5" width="3.03" height="48.1" fill="#A9D18E" />
<rect x="406.77" y="583.8" width="3.03" height="7.8" fill="#ED1C24" />
<rect x="406.77" y="591.6" width="3.03" height="9.1" fill="#558ED5" />
<rect x="406.77" y="600.7" width="3.03" height="46.9" fill="#A9D18E" />
<rect x="408.8" y="583.8" width="3" height="18.6" fill="#558ED5" />
<rect x="408.8" y="602.4" width="3" height="45.2" fill="#A9D18E" />
<rect x="410.8" y="583.8" width="3" height="27.6" fill="#558ED5" />
<rect x="410.8" y="611.4" width="3" height="36.2" fill="#A9D18E" />
<rect x="412.79" y="583.8" width="3" height="36.5" fill="#558ED5" />
<rect x="412.79" y="620.3" width="3" height="27.3" fill="#A9D18E" />
<rect x="414.79" y="583.8" width="3" height="27.9" fill="#558ED5" />
<rect x="414.79" y="611.7" width="3" height="35.9" fill="#A9D18E" />
<rect x="416.78" y="583.8" width="2.99" height="31.7" fill="#558ED5" />
<rect x="416.78" y="615.5" width="2.99" height="32.1" fill="#A9D18E" />
<rect x="418.77" y="583.8" width="3" height="26.4" fill="#558ED5" />
<rect x="418.77" y="610.2" width="3" height="37.4" fill="#A9D18E" />
<rect x="420.77" y="583.8" width="3" height="19.7" fill="#558ED5" />
<rect x="420.77" y="603.5" width="3" height="44.1" fill="#A9D18E" />
<rect x="422.76" y="583.8" width="3" height="18.2" fill="#558ED5" />
<rect x="422.76" y="602" width="3" height="45.6" fill="#A9D18E" />
<rect x="424.76" y="583.8" width="3" height="26.1" fill="#558ED5" />
<rect x="424.76" y="609.9" width="3" height="37.7" fill="#A9D18E" />
<rect x="426.75" y="583.8" width="3" height="29.8" fill="#558ED5" />
<rect x="426.75" y="613.6" width="3" height="34" fill="#A9D18E" />
<rect x="428.75" y="583.8" width="3" height="25.9" fill="#558ED5" />
<rect x="428.75" y="609.7" width="3" height="37.9" fill="#A9D18E" />
<rect x="430.75" y="583.8" width="3" height="25.2" fill="#558ED5" />
<rect x="430.75" y="609" width="3" height="38.6" fill="#A9D18E" />
<rect x="432.74" y="583.8" width="3" height="27.2" fill="#558ED5" />
<rect x="432.74" y="611" width="3" height="36.6" fill="#A9D18E" />
<rect x="434.74" y="583.8" width="3" height="27.9" fill="#558ED5" />
<rect x="434.74" y="611.7" width="3" height="35.9" fill="#A9D18E" />
<rect x="436.73" y="583.8" width="3" height="30.9" fill="#558ED5" />
<rect x="436.73" y="614.7" width="3" height="32.9" fill="#A9D18E" />
<rect x="438.73" y="583.8" width="2.99" height="22.5" fill="#558ED5" />
<rect x="438.73" y="606.3" width="2.99" height="41.3" fill="#A9D18E" />
<rect x="440.72" y="583.8" width="3" height="25.3" fill="#558ED5" />
<rect x="440.72" y="609.1" width="3" height="38.5" fill="#A9D18E" />
<rect x="442.71" y="583.8" width="3" height="23.1" fill="#558ED5" />
<rect x="442.71" y="606.9" width="3" height="40.7" fill="#A9D18E" />
<rect x="444.71" y="583.8" width="3" height="20.1" fill="#558ED5" />
<rect x="444.71" y="603.9" width="3" height="43.7" fill="#A9D18E" />
<rect x="446.7" y="583.8" width="3" height="23.1" fill="#558ED5" />
<rect x="446.7" y="606.9" width="3" height="40.7" fill="#A9D18E" />
<rect x="448.7" y="583.8" width="3.01" height="0.09" fill="#ED1C24" />
<rect x="448.7" y="583.89" width="3.01" height="0.95" fill="#FFF200" />
<rect x="448.7" y="584.84" width="3.01" height="17.96" fill="#558ED5" />
<rect x="448.7" y="602.8" width="3.01" height="44.8" fill="#A9D18E" />
<rect x="450.71" y="583.8" width="3.01" height="19.4" fill="#558ED5" />
<rect x="450.71" y="603.2" width="3.01" height="44.4" fill="#A9D18E" />
<rect x="452.72" y="583.8" width="3.01" height="0.21" fill="#ED1C24" />
<rect x="452.72" y="584.01" width="3.01" height="0.41" fill="#FFF200" />
<rect x="452.72" y="584.42" width="3.01" height="12.68" fill="#558ED5" />
<rect x="452.72" y="597.1" width="3.01" height="50.5" fill="#A9D18E" />
<rect x="454.73" y="583.8" width="3.01" height="0.59" fill="#ED1C24" />
<rect x="454.73" y="584.39" width="3.01" height="15.51" fill="#558ED5" />
<rect x="454.73" y="599.9" width="3.01" height="47.7" fill="#A9D18E" />
<rect x="456.74" y="583.8" width="3.01" height="0.5" fill="#ED1C24" />
<rect x="456.74" y="584.3" width="3.01" height="0.19" fill="#FFF200" />
<rect x="456.74" y="584.49" width="3.01" height="17.11" fill="#558ED5" />
<rect x="456.74" y="601.6" width="3.01" height="46" fill="#A9D18E" />
<rect x="458.75" y="583.8" width="3.01" height="0.71" fill="#ED1C24" />
<rect x="458.75" y="584.51" width="3.01" height="0.88" fill="#FFF200" />
<rect x="458.75" y="585.39" width="3.01" height="17.01" fill="#558ED5" />
<rect x="458.75" y="602.4" width="3.01" height="45.2" fill="#A9D18E" />
<rect x="460.76" y="583.8" width="3.01" height="0.94" fill="#ED1C24" />
<rect x="460.76" y="584.74" width="3.01" height="0.36" fill="#FFF200" />
<rect x="460.76" y="585.1" width="3.01" height="5" fill="#558ED5" />
<rect x="460.76" y="590.1" width="3.01" height="57.5" fill="#A9D18E" />
<rect x="462.77" y="583.8" width="3.01" height="0.54" fill="#ED1C24" />
<rect x="462.77" y="584.34" width="3.01" height="0.21" fill="#FFF200" />
<rect x="462.77" y="584.54" width="3.01" height="13.36" fill="#558ED5" />
<rect x="462.77" y="597.9" width="3.01" height="49.7" fill="#A9D18E" />
<rect x="464.78" y="583.8" width="3.01" height="0.25" fill="#ED1C24" />
<rect x="464.78" y="584.05" width="3.01" height="0.32" fill="#FFF200" />
<rect x="464.78" y="584.37" width="3.01" height="6.53" fill="#558ED5" />
<rect x="464.78" y="590.9" width="3.01" height="56.7" fill="#A9D18E" />
<rect x="466.79" y="583.8" width="3.01" height="0.14" fill="#FFF200" />
<rect x="466.79" y="583.94" width="3.01" height="13.56" fill="#558ED5" />
<rect x="466.79" y="597.5" width="3.01" height="50.1" fill="#A9D18E" />
<rect x="468.8" y="583.8" width="3.01" height="0.46" fill="#FFF200" />
<rect x="468.8" y="584.26" width="3.01" height="17.7" fill="#558ED5" />
<rect x="468.8" y="601.96" width="3.01" height="45.64" fill="#A9D18E" />
<rect x="470.81" y="583.8" width="3.01" height="0.57" fill="#FFF200" />
<rect x="470.81" y="584.37" width="3.01" height="19.63" fill="#558ED5" />
<rect x="470.81" y="604" width="3.01" height="43.6" fill="#A9D18E" />
<rect x="472.82" y="583.8" width="3.01" height="1.02" fill="#ED1C24" />
<rect x="472.82" y="584.82" width="3.01" height="0.54" fill="#FFF200" />
<rect x="472.82" y="585.36" width="3.01" height="5.54" fill="#558ED5" />
<rect x="472.82" y="590.9" width="3.01" height="56.7" fill="#A9D18E" />
<rect x="474.82" y="583.8" width="3.01" height="0.53" fill="#ED1C24" />
<rect x="474.82" y="584.33" width="3.01" height="0.46" fill="#FFF200" />
<rect x="474.82" y="584.79" width="3.01" height="15.51" fill="#558ED5" />
<rect x="474.82" y="600.3" width="3.01" height="47.3" fill="#A9D18E" />
<rect x="476.83" y="583.8" width="3.01" height="0.72" fill="#ED1C24" />
<rect x="476.83" y="584.52" width="3.01" height="0.35" fill="#FFF200" />
<rect x="476.83" y="584.87" width="3.01" height="6.03" fill="#558ED5" />
<rect x="476.83" y="590.9" width="3.01" height="56.7" fill="#A9D18E" />
<rect x="478.84" y="583.8" width="3.01" height="11.2" fill="#558ED5" />
<rect x="478.84" y="595" width="3.01" height="52.6" fill="#A9D18E" />
<rect x="480.85" y="583.8" width="3.01" height="0.51" fill="#ED1C24" />
<rect x="480.85" y="584.31" width="3.01" height="0.12" fill="#FFF200" />
<rect x="480.85" y="584.43" width="3.01" height="26.17" fill="#558ED5" />
<rect x="480.85" y="610.6" width="3.01" height="37" fill="#A9D18E" />
<rect x="482.86" y="583.8" width="3.01" height="0.2" fill="#ED1C24" />
<rect x="482.86" y="584" width="3.01" height="0.31" fill="#FFF200" />
<rect x="482.86" y="584.31" width="3.01" height="5.79" fill="#558ED5" />
<rect x="482.86" y="590.1" width="3.01" height="57.5" fill="#A9D18E" />
<rect x="484.87" y="583.8" width="3.01" height="0.63" fill="#ED1C24" />
<rect x="484.87" y="584.43" width="3.01" height="0.59" fill="#FFF200" />
<rect x="484.87" y="585.01" width="3.01" height="9.19" fill="#558ED5" />
<rect x="484.87" y="594.2" width="3.01" height="53.4" fill="#A9D18E" />
<rect x="486.88" y="583.8" width="3.01" height="0.87" fill="#ED1C24" />
<rect x="486.88" y="584.67" width="3.01" height="0.2" fill="#FFF200" />
<rect x="486.88" y="584.87" width="3.01" height="13.03" fill="#558ED5" />
<rect x="486.88" y="597.9" width="3.01" height="49.7" fill="#A9D18E" />
<rect x="488.89" y="583.8" width="3.01" height="0.75" fill="#ED1C24" />
<rect x="488.89" y="584.55" width="3.01" height="0.49" fill="#FFF200" />
<rect x="488.89" y="585.04" width="3.01" height="22.26" fill="#558ED5" />
<rect x="488.89" y="607.3" width="3.01" height="40.3" fill="#A9D18E" />
<rect x="490.9" y="583.8" width="3.01" height="0.07" fill="#ED1C24" />
<rect x="490.9" y="583.87" width="3.01" height="0.55" fill="#FFF200" />
<rect x="490.9" y="584.41" width="3.01" height="5.69" fill="#558ED5" />
<rect x="490.9" y="590.1" width="3.01" height="57.5" fill="#A9D18E" />
<rect x="492.91" y="583.8" width="3.01" height="0.36" fill="#FFF200" />
<rect x="492.91" y="584.16" width="3.01" height="3.94" fill="#558ED5" />
<rect x="492.91" y="588.1" width="3.01" height="59.5" fill="#A9D18E" />
<rect x="494.92" y="583.8" width="3.01" height="0.78" fill="#ED1C24" />
<rect x="494.92" y="584.58" width="3.01" height="17.38" fill="#558ED5" />
<rect x="494.92" y="601.97" width="3.01" height="45.63" fill="#A9D18E" />
<rect x="496.93" y="583.8" width="3.01" height="0.48" fill="#ED1C24" />
<rect x="496.93" y="584.28" width="3.01" height="0.25" fill="#FFF200" />
<rect x="496.93" y="584.54" width="3.01" height="8.86" fill="#558ED5" />
<rect x="496.93" y="593.4" width="3.01" height="54.2" fill="#A9D18E" />
<rect x="498.94" y="583.8" width="3.01" height="0.23" fill="#ED1C24" />
<rect x="498.94" y="584.03" width="3.01" height="0.38" fill="#FFF200" />
<rect x="498.94" y="584.41" width="3.01" height="10.19" fill="#558ED5" />
<rect x="498.94" y="594.6" width="3.01" height="53" fill="#A9D18E" />
<rect x="500.95" y="583.8" width="3.01" height="0.46" fill="#ED1C24" />
<rect x="500.95" y="584.26" width="3.01" height="0.3" fill="#FFF200" />
<rect x="500.95" y="584.56" width="3.01" height="10.44" fill="#558ED5" />
<rect x="500.95" y="595" width="3.01" height="52.6" fill="#A9D18E" />
<rect x="502.96" y="583.8" width="3.01" height="0.41" fill="#ED1C24" />
<rect x="502.96" y="584.21" width="3.01" height="0.65" fill="#FFF200" />
<rect x="502.96" y="584.86" width="3.01" height="15.04" fill="#558ED5" />
<rect x="502.96" y="599.9" width="3.01" height="47.7" fill="#A9D18E" />
<rect x="504.97" y="583.8" width="3.01" height="0.54" fill="#ED1C24" />
<rect x="504.97" y="584.34" width="3.01" height="0.33" fill="#FFF200" />
<rect x="504.97" y="584.67" width="3.01" height="16.03" fill="#558ED5" />
<rect x="504.97" y="600.7" width="3.01" height="46.9" fill="#A9D18E" />
<rect x="506.98" y="583.8" width="3.01" height="0.86" fill="#ED1C24" />
<rect x="506.98" y="584.66" width="3.01" height="21.84" fill="#558ED5" />
<rect x="506.98" y="606.5" width="3.01" height="41.1" fill="#A9D18E" />
<rect x="508.99" y="583.8" width="3.01" height="0.36" fill="#ED1C24" />
<rect x="508.99" y="584.16" width="3.01" height="1" fill="#FFF200" />
<rect x="508.99" y="585.16" width="3.01" height="9.84" fill="#558ED5" />
<rect x="508.99" y="595" width="3.01" height="52.6" fill="#A9D18E" />
<rect x="511" y="583.8" width="3.01" height="0.07" fill="#ED1C24" />
<rect x="511" y="583.87" width="3.01" height="0.19" fill="#FFF200" />
<rect x="511" y="584.06" width="3.01" height="3.14" fill="#558ED5" />
<rect x="511" y="587.2" width="3.01" height="60.4" fill="#A9D18E" />
<rect x="513.01" y="583.8" width="3.01" height="0.86" fill="#ED1C24" />
<rect x="513.01" y="584.66" width="3.01" height="0.57" fill="#FFF200" />
<rect x="513.01" y="585.23" width="3.01" height="7.37" fill="#558ED5" />
<rect x="513.01" y="592.6" width="3.01" height="55" fill="#A9D18E" />
<rect x="515.02" y="583.8" width="3.01" height="0.13" fill="#FFF200" />
<rect x="515.02" y="583.93" width="3.01" height="4.97" fill="#558ED5" />
<rect x="515.02" y="588.9" width="3.01" height="58.7" fill="#A9D18E" />
<rect x="517.03" y="583.8" width="3.01" height="0.16" fill="#ED1C24" />
<rect x="517.03" y="583.96" width="3.01" height="0.1" fill="#FFF200" />
<rect x="517.03" y="584.05" width="3.01" height="6.45" fill="#558ED5" />
<rect x="517.03" y="590.5" width="3.01" height="57.1" fill="#A9D18E" />
<rect x="519.04" y="583.8" width="3.01" height="0.32" fill="#ED1C24" />
<rect x="519.04" y="584.12" width="3.01" height="0.4" fill="#FFF200" />
<rect x="519.04" y="584.52" width="3.01" height="19.88" fill="#558ED5" />
<rect x="519.04" y="604.4" width="3.01" height="43.2" fill="#A9D18E" />
<rect x="521.05" y="583.8" width="3.01" height="0.46" fill="#ED1C24" />
<rect x="521.05" y="584.26" width="3.01" height="0.26" fill="#FFF200" />
<rect x="521.05" y="584.52" width="3.01" height="10.08" fill="#558ED5" />
<rect x="521.05" y="594.6" width="3.01" height="53" fill="#A9D18E" />
<rect x="523.06" y="583.8" width="3.01" height="0.19" fill="#ED1C24" />
<rect x="523.06" y="583.99" width="3.01" height="0.59" fill="#FFF200" />
<rect x="523.06" y="584.58" width="3.01" height="5.52" fill="#558ED5" />
<rect x="523.06" y="590.1" width="3.01" height="57.5" fill="#A9D18E" />
<rect x="525.07" y="583.8" width="3.01" height="0.43" fill="#ED1C24" />
<rect x="525.07" y="584.23" width="3.01" height="0.73" fill="#FFF200" />
<rect x="525.07" y="584.96" width="3.01" height="8.84" fill="#558ED5" />
<rect x="525.07" y="593.8" width="3.01" height="53.8" fill="#A9D18E" />
<rect x="527.08" y="583.8" width="3.01" height="0.3" fill="#ED1C24" />
<rect x="527.08" y="584.1" width="3.01" height="13.4" fill="#558ED5" />
<rect x="527.08" y="597.5" width="3.01" height="50.1" fill="#A9D18E" />
<rect x="529.08" y="583.8" width="3.01" height="0.25" fill="#ED1C24" />
<rect x="529.08" y="584.05" width="3.01" height="10.15" fill="#558ED5" />
<rect x="529.08" y="594.2" width="3.01" height="53.4" fill="#A9D18E" />
<rect x="531.09" y="583.8" width="3.01" height="0.88" fill="#ED1C24" />
<rect x="531.09" y="584.68" width="3.01" height="0.62" fill="#FFF200" />
<rect x="531.09" y="585.3" width="3.01" height="10.9" fill="#558ED5" />
<rect x="531.09" y="596.2" width="3.01" height="51.4" fill="#A9D18E" />
<rect x="533.1" y="583.8" width="3.01" height="0.56" fill="#ED1C24" />
<rect x="533.1" y="584.36" width="3.01" height="24.14" fill="#558ED5" />
<rect x="533.1" y="608.5" width="3.01" height="39.1" fill="#A9D18E" />
<rect x="535.11" y="583.8" width="3.01" height="0.36" fill="#FFF200" />
<rect x="535.11" y="584.16" width="3.01" height="10.83" fill="#558ED5" />
<rect x="535.11" y="594.99" width="3.01" height="52.61" fill="#A9D18E" />
<rect x="537.12" y="583.8" width="3.01" height="0.57" fill="#ED1C24" />
<rect x="537.12" y="584.37" width="3.01" height="0.54" fill="#FFF200" />
<rect x="537.12" y="584.9" width="3.01" height="14.2" fill="#558ED5" />
<rect x="537.12" y="599.1" width="3.01" height="48.5" fill="#A9D18E" />
<rect x="539.13" y="583.8" width="3.01" height="0.64" fill="#ED1C24" />
<rect x="539.13" y="584.44" width="3.01" height="0.39" fill="#FFF200" />
<rect x="539.13" y="584.83" width="3.01" height="15.47" fill="#558ED5" />
<rect x="539.13" y="600.3" width="3.01" height="47.3" fill="#A9D18E" />
<rect x="541.14" y="583.8" width="3.01" height="0.5" fill="#ED1C24" />
<rect x="541.14" y="584.3" width="3.01" height="13.6" fill="#558ED5" />
<rect x="541.14" y="597.9" width="3.01" height="49.7" fill="#A9D18E" />
<rect x="543.15" y="583.8" width="3.01" height="0.67" fill="#ED1C24" />
<rect x="543.15" y="584.47" width="3.01" height="0.3" fill="#FFF200" />
<rect x="543.15" y="584.77" width="3.01" height="12.73" fill="#558ED5" />
<rect x="543.15" y="597.5" width="3.01" height="50.1" fill="#A9D18E" />
<rect x="545.16" y="583.8" width="3.01" height="0.31" fill="#ED1C24" />
<rect x="545.16" y="584.11" width="3.01" height="0.28" fill="#FFF200" />
<rect x="545.16" y="584.38" width="3.01" height="5.72" fill="#558ED5" />
<rect x="545.16" y="590.1" width="3.01" height="57.5" fill="#A9D18E" />
<rect x="547.17" y="583.8" width="3.01" height="0.32" fill="#ED1C24" />
<rect x="547.17" y="584.12" width="3.01" height="0.78" fill="#FFF200" />
<rect x="547.17" y="584.9" width="3.01" height="12.2" fill="#558ED5" />
<rect x="547.17" y="597.1" width="3.01" height="50.5" fill="#A9D18E" />
<rect x="549.18" y="583.8" width="3.01" height="0.64" fill="#ED1C24" />
<rect x="549.18" y="584.44" width="3.01" height="0.76" fill="#FFF200" />
<rect x="549.18" y="585.2" width="3.01" height="14.3" fill="#558ED5" />
<rect x="549.18" y="599.5" width="3.01" height="48.1" fill="#A9D18E" />
<rect x="551.19" y="583.8" width="3.01" height="0.35" fill="#ED1C24" />
<rect x="551.19" y="584.15" width="3.01" height="0.83" fill="#FFF200" />
<rect x="551.19" y="584.98" width="3.01" height="8.82" fill="#558ED5" />
<rect x="551.19" y="593.8" width="3.01" height="53.8" fill="#A9D18E" />
<rect x="553.2" y="583.8" width="3.01" height="63.07" fill="#558ED5" />
<rect x="553.2" y="646.87" width="3.01" height="0.73" fill="#A9D18E" />
<rect x="555.21" y="583.8" width="3.01" height="0.6" fill="#ED1C24" />
<rect x="555.21" y="584.4" width="3.01" height="62.11" fill="#558ED5" />
<rect x="555.21" y="646.52" width="3.01" height="1.08" fill="#A9D18E" />
<rect x="557.23" y="583.8" width="3.01" height="0.33" fill="#ED1C24" />
<rect x="557.23" y="584.13" width="3.01" height="62.35" fill="#558ED5" />
<rect x="557.23" y="646.48" width="3.01" height="1.12" fill="#A9D18E" />
<rect x="559.24" y="583.8" width="3.01" height="0.25" fill="#ED1C24" />
<rect x="559.24" y="584.05" width="3.01" height="62.87" fill="#558ED5" />
<rect x="559.24" y="646.92" width="3.01" height="0.68" fill="#A9D18E" />
<rect x="561.25" y="583.8" width="3.01" height="0.51" fill="#ED1C24" />
<rect x="561.25" y="584.31" width="3.01" height="63.29" fill="#558ED5" />
<rect x="561.25" y="647.6" width="3.01" height="0" fill="#A9D18E" />
<rect x="563.26" y="583.8" width="3.01" height="63.25" fill="#558ED5" />
<rect x="563.26" y="647.05" width="3.01" height="0.55" fill="#A9D18E" />
<rect x="565.28" y="583.8" width="3.01" height="60.8" fill="#558ED5" />
<rect x="565.28" y="644.6" width="3.01" height="3" fill="#A9D18E" />
<rect x="567.29" y="583.8" width="3.01" height="0.52" fill="#ED1C24" />
<rect x="567.29" y="584.32" width="3.01" height="61.97" fill="#558ED5" />
<rect x="567.29" y="646.29" width="3.01" height="1.31" fill="#A9D18E" />
<rect x="569.3" y="583.8" width="3.01" height="0.48" fill="#ED1C24" />
<rect x="569.3" y="584.28" width="3.01" height="63.32" fill="#558ED5" />
<rect x="569.3" y="647.6" width="3.01" height="0" fill="#A9D18E" />
<rect x="571.32" y="583.8" width="3.01" height="0.03" fill="#ED1C24" />
<rect x="571.32" y="583.83" width="3.01" height="62.44" fill="#558ED5" />
<rect x="571.32" y="646.27" width="3.01" height="1.33" fill="#A9D18E" />
<rect x="573.33" y="583.8" width="3.01" height="63.8" fill="#558ED5" />
<rect x="573.33" y="647.6" width="3.01" height="0" fill="#A9D18E" />
<rect x="575.34" y="583.8" width="3.01" height="0.3" fill="#ED1C24" />
<rect x="575.34" y="584.1" width="3.01" height="63.08" fill="#558ED5" />
<rect x="575.34" y="647.18" width="3.01" height="0.42" fill="#A9D18E" />
<rect x="577.35" y="583.8" width="3.01" height="63.21" fill="#558ED5" />
<rect x="577.35" y="647.01" width="3.01" height="0.59" fill="#A9D18E" />
<rect x="579.37" y="583.8" width="3.01" height="62.86" fill="#558ED5" />
<rect x="579.37" y="646.66" width="3.01" height="0.94" fill="#A9D18E" />
<rect x="581.38" y="583.8" width="3.01" height="62.46" fill="#558ED5" />
<rect x="581.38" y="646.26" width="3.01" height="1.34" fill="#A9D18E" />
<rect x="583.39" y="583.8" width="3.01" height="63.42" fill="#558ED5" />
<rect x="583.39" y="647.22" width="3.01" height="0.38" fill="#A9D18E" />
<rect x="585.41" y="583.8" width="3.01" height="0.59" fill="#ED1C24" />
<rect x="585.41" y="584.39" width="3.01" height="54.31" fill="#558ED5" />
<rect x="585.41" y="638.7" width="3.01" height="8.9" fill="#A9D18E" />
<rect x="587.42" y="583.8" width="3.01" height="0.38" fill="#ED1C24" />
<rect x="587.42" y="584.18" width="3.01" height="62.11" fill="#558ED5" />
<rect x="587.42" y="646.29" width="3.01" height="1.31" fill="#A9D18E" />
<rect x="589.43" y="583.8" width="3.01" height="61.8" fill="#558ED5" />
<rect x="589.43" y="645.6" width="3.01" height="2" fill="#A9D18E" />
<rect x="591.45" y="583.8" width="3.01" height="0.03" fill="#ED1C24" />
<rect x="591.45" y="583.83" width="3.01" height="63.28" fill="#558ED5" />
<rect x="591.45" y="647.11" width="3.01" height="0.49" fill="#A9D18E" />
<rect x="593.46" y="583.8" width="3.01" height="0.35" fill="#ED1C24" />
<rect x="593.46" y="584.15" width="3.01" height="63.23" fill="#558ED5" />
<rect x="593.46" y="647.39" width="3.01" height="0.21" fill="#A9D18E" />
<rect x="595.47" y="583.8" width="3.01" height="63.44" fill="#558ED5" />
<rect x="595.47" y="647.24" width="3.01" height="0.36" fill="#A9D18E" />
<rect x="597.48" y="583.8" width="3.01" height="63.63" fill="#558ED5" />
<rect x="597.48" y="647.43" width="3.01" height="0.17" fill="#A9D18E" />
<rect x="599.5" y="583.8" width="3.01" height="0.6" fill="#ED1C24" />
<rect x="599.5" y="584.4" width="3.01" height="57.5" fill="#558ED5" />
<rect x="599.5" y="641.9" width="3.01" height="5.7" fill="#A9D18E" />
<rect x="601.51" y="583.8" width="3.01" height="62.9" fill="#558ED5" />
<rect x="601.51" y="646.7" width="3.01" height="0.9" fill="#A9D18E" />
<rect x="603.52" y="583.8" width="3.01" height="0.25" fill="#ED1C24" />
<rect x="603.52" y="584.05" width="3.01" height="56.85" fill="#558ED5" />
<rect x="603.52" y="640.9" width="3.01" height="6.7" fill="#A9D18E" />
<rect x="605.54" y="583.8" width="3.01" height="0.29" fill="#ED1C24" />
<rect x="605.54" y="584.09" width="3.01" height="61.98" fill="#558ED5" />
<rect x="605.54" y="646.07" width="3.01" height="1.53" fill="#A9D18E" />
<rect x="607.55" y="583.8" width="3.01" height="0.64" fill="#ED1C24" />
<rect x="607.55" y="584.44" width="3.01" height="61.8" fill="#558ED5" />
<rect x="607.55" y="646.24" width="3.01" height="1.36" fill="#A9D18E" />
<rect x="609.56" y="583.8" width="3.01" height="0.07" fill="#ED1C24" />
<rect x="609.56" y="583.87" width="3.01" height="62.26" fill="#558ED5" />
<rect x="609.56" y="646.12" width="3.01" height="1.48" fill="#A9D18E" />
<rect x="611.57" y="583.8" width="3.01" height="0.43" fill="#ED1C24" />
<rect x="611.57" y="584.23" width="3.01" height="61.94" fill="#558ED5" />
<rect x="611.57" y="646.17" width="3.01" height="1.43" fill="#A9D18E" />
<rect x="613.59" y="583.8" width="3.01" height="0.08" fill="#ED1C24" />
<rect x="613.59" y="583.88" width="3.01" height="63.72" fill="#558ED5" />
<rect x="613.59" y="647.6" width="3.01" height="0" fill="#A9D18E" />
<rect x="615.6" y="583.8" width="3.01" height="0.17" fill="#ED1C24" />
<rect x="615.6" y="583.97" width="3.01" height="63.63" fill="#558ED5" />
<rect x="615.6" y="647.6" width="3.01" height="0" fill="#A9D18E" />
<rect x="617.61" y="583.8" width="3.01" height="62.65" fill="#558ED5" />
<rect x="617.61" y="646.45" width="3.01" height="1.15" fill="#A9D18E" />
<rect x="619.63" y="583.8" width="3.01" height="0.59" fill="#ED1C24" />
<rect x="619.63" y="584.39" width="3.01" height="63.21" fill="#558ED5" />
<rect x="619.63" y="647.6" width="3.01" height="0" fill="#A9D18E" />
<rect x="621.64" y="583.8" width="3.01" height="0.64" fill="#ED1C24" />
<rect x="621.64" y="584.44" width="3.01" height="59.66" fill="#558ED5" />
<rect x="621.64" y="644.1" width="3.01" height="3.5" fill="#A9D18E" />
<rect x="623.65" y="583.8" width="3.01" height="0.52" fill="#ED1C24" />
<rect x="623.65" y="584.32" width="3.01" height="63.28" fill="#558ED5" />
<rect x="623.65" y="647.59" width="3.01" height="0.01" fill="#A9D18E" />
<rect x="625.66" y="583.8" width="3.01" height="0.8" fill="#ED1C24" />
<rect x="625.66" y="584.6" width="3.01" height="55" fill="#558ED5" />
<rect x="625.66" y="639.6" width="3.01" height="8" fill="#A9D18E" />
<rect x="627.68" y="583.8" width="3.01" height="0.28" fill="#ED1C24" />
<rect x="627.68" y="584.08" width="3.01" height="62.85" fill="#558ED5" />
<rect x="627.68" y="646.93" width="3.01" height="0.67" fill="#A9D18E" />
<rect x="629.69" y="583.8" width="3.01" height="0.5" fill="#ED1C24" />
<rect x="629.69" y="584.3" width="3.01" height="62.59" fill="#558ED5" />
<rect x="629.69" y="646.89" width="3.01" height="0.71" fill="#A9D18E" />
<rect x="631.7" y="583.8" width="3.01" height="0.23" fill="#ED1C24" />
<rect x="631.7" y="584.03" width="3.01" height="62.15" fill="#558ED5" />
<rect x="631.7" y="646.18" width="3.01" height="1.42" fill="#A9D18E" />
<rect x="633.72" y="583.8" width="3.01" height="0.42" fill="#ED1C24" />
<rect x="633.72" y="584.22" width="3.01" height="52.78" fill="#558ED5" />
<rect x="633.72" y="637" width="3.01" height="10.6" fill="#A9D18E" />
<rect x="635.73" y="583.8" width="3.01" height="0.39" fill="#ED1C24" />
<rect x="635.73" y="584.19" width="3.01" height="59.41" fill="#558ED5" />
<rect x="635.73" y="643.6" width="3.01" height="4" fill="#A9D18E" />
<rect x="637.74" y="583.8" width="3.01" height="0.69" fill="#ED1C24" />
<rect x="637.74" y="584.49" width="3.01" height="62.16" fill="#558ED5" />
<rect x="637.74" y="646.64" width="3.01" height="0.96" fill="#A9D18E" />
<rect x="639.75" y="583.8" width="3.01" height="0.06" fill="#ED1C24" />
<rect x="639.75" y="583.86" width="3.01" height="60.74" fill="#558ED5" />
<rect x="639.75" y="644.6" width="3.01" height="3" fill="#A9D18E" />
<rect x="641.77" y="583.8" width="3.01" height="0.73" fill="#ED1C24" />
<rect x="641.77" y="584.53" width="3.01" height="62.06" fill="#558ED5" />
<rect x="641.77" y="646.59" width="3.01" height="1.01" fill="#A9D18E" />
<rect x="643.78" y="583.8" width="3.01" height="0.33" fill="#ED1C24" />
<rect x="643.78" y="584.13" width="3.01" height="62.99" fill="#558ED5" />
<rect x="643.78" y="647.12" width="3.01" height="0.48" fill="#A9D18E" />
<rect x="645.79" y="583.8" width="3.01" height="0.58" fill="#ED1C24" />
<rect x="645.79" y="584.38" width="3.01" height="52.62" fill="#558ED5" />
<rect x="645.79" y="637" width="3.01" height="10.6" fill="#A9D18E" />
<rect x="647.81" y="583.8" width="3.01" height="62.69" fill="#558ED5" />
<rect x="647.81" y="646.49" width="3.01" height="1.11" fill="#A9D18E" />
<rect x="649.82" y="583.8" width="3.01" height="0.27" fill="#ED1C24" />
<rect x="649.82" y="584.07" width="3.01" height="63.48" fill="#558ED5" />
<rect x="649.82" y="647.56" width="3.01" height="0.04" fill="#A9D18E" />
<rect x="651.83" y="583.8" width="3.01" height="0.96" fill="#ED1C24" />
<rect x="651.83" y="584.76" width="3.01" height="61.8" fill="#558ED5" />
<rect x="651.83" y="646.57" width="3.01" height="1.03" fill="#A9D18E" />
<rect x="653.85" y="583.8" width="3.01" height="0.54" fill="#ED1C24" />
<rect x="653.85" y="584.34" width="3.01" height="59.56" fill="#558ED5" />
<rect x="653.85" y="643.9" width="3.01" height="3.7" fill="#A9D18E" />
<rect x="655.86" y="583.8" width="3.01" height="62.54" fill="#558ED5" />
<rect x="655.86" y="646.34" width="3.01" height="1.26" fill="#A9D18E" />
<rect x="657.87" y="583.8" width="3.01" height="0.25" fill="#ED1C24" />
<rect x="657.87" y="584.05" width="3.01" height="63.24" fill="#558ED5" />
<rect x="657.87" y="647.29" width="3.01" height="0.31" fill="#A9D18E" />
<rect x="659.88" y="583.8" width="3.01" height="0.15" fill="#ED1C24" />
<rect x="659.88" y="583.95" width="3.01" height="63.14" fill="#558ED5" />
<rect x="659.88" y="647.1" width="3.01" height="0.5" fill="#A9D18E" />
<rect x="661.9" y="583.8" width="3.01" height="62.72" fill="#558ED5" />
<rect x="661.9" y="646.52" width="3.01" height="1.08" fill="#A9D18E" />
<rect x="663.91" y="583.8" width="3.01" height="0.01" fill="#ED1C24" />
<rect x="663.91" y="583.81" width="3.01" height="62.71" fill="#558ED5" />
<rect x="663.91" y="646.52" width="3.01" height="1.08" fill="#A9D18E" />
<rect x="665.92" y="583.8" width="3.01" height="0.36" fill="#ED1C24" />
<rect x="665.92" y="584.16" width="3.01" height="62.97" fill="#558ED5" />
<rect x="665.92" y="647.13" width="3.01" height="0.47" fill="#A9D18E" />
<rect x="667.94" y="583.8" width="3.01" height="0.29" fill="#ED1C24" />
<rect x="667.94" y="584.09" width="3.01" height="63.06" fill="#558ED5" />
<rect x="667.94" y="647.14" width="3.01" height="0.46" fill="#A9D18E" />
<rect x="669.95" y="583.8" width="3.01" height="0.21" fill="#ED1C24" />
<rect x="669.95" y="584.01" width="3.01" height="61.83" fill="#558ED5" />
<rect x="669.95" y="645.84" width="3.01" height="1.76" fill="#A9D18E" />
<rect x="671.96" y="583.8" width="3.01" height="0.42" fill="#ED1C24" />
<rect x="671.96" y="584.22" width="3.01" height="62.67" fill="#558ED5" />
<rect x="671.96" y="646.89" width="3.01" height="0.71" fill="#A9D18E" />
<rect x="673.97" y="583.8" width="3.01" height="0.52" fill="#ED1C24" />
<rect x="673.97" y="584.32" width="3.01" height="62.69" fill="#558ED5" />
<rect x="673.97" y="647.02" width="3.01" height="0.58" fill="#A9D18E" />
<rect x="675.99" y="583.8" width="2.01" height="4" fill="#ED1C24" />
<rect x="675.99" y="587.8" width="2.01" height="59.77" fill="#558ED5" />
<rect x="675.99" y="647.57" width="2.01" height="0.03" fill="#A9D18E" />
<line x1="110.4" y1="583.8" x2="110.4" y2="647.6" stroke="#000000" stroke-width="1" stroke-opacity="0.42"/>
<line x1="169.9" y1="583.8" x2="169.9" y2="647.6" stroke="#000000" stroke-width="1" stroke-opacity="0.42"/>
<line x1="215.8" y1="583.8" x2="215.8" y2="647.6" stroke="#000000" stroke-width="1" stroke-opacity="0.42"/>
<line x1="274.6" y1="583.8" x2="274.6" y2="647.6" stroke="#000000" stroke-width="1" stroke-opacity="0.42"/>
<line x1="331.8" y1="583.8" x2="331.8" y2="647.6" stroke="#000000" stroke-width="1" stroke-opacity="0.42"/>
<line x1="408.8" y1="583.8" x2="408.8" y2="647.6" stroke="#000000" stroke-width="1" stroke-opacity="0.42"/>
<line x1="448.7" y1="583.8" x2="448.7" y2="647.6" stroke="#000000" stroke-width="1" stroke-opacity="0.42"/>
<line x1="553.2" y1="583.8" x2="553.2" y2="647.6" stroke="#000000" stroke-width="1" stroke-opacity="0.42"/>
<rect x="76" y="583" width="603" height="65.6" fill="none" stroke="#000" stroke-width="2"/>
<text transform="translate(47.6,468.9)" text-anchor="middle" style='font-family:"Liberation Serif", serif;font-size:14px;font-style:italic' class="h">K</text>
<text transform="translate(57.95,469.9) scale(0.86,1)" text-anchor="middle" style='font-family:"Liberation Serif", serif;font-size:14px;' class="h">=</text>
<text transform="translate(68.25,468.9) scale(1.05,1)" text-anchor="middle" style='font-family:"Liberation Serif", serif;font-size:14px;' class="h">2</text>
<text transform="translate(72,484.8)" text-anchor="end" style='font-family:"Liberation Serif", serif;font-size:14px;' class="h" textLength="66.6" lengthAdjust="spacingAndGlyphs">10/10 runs</text>
<text transform="translate(47.6,538.9)" text-anchor="middle" style='font-family:"Liberation Serif", serif;font-size:14px;font-style:italic' class="h">K</text>
<text transform="translate(57.95,539.9) scale(0.86,1)" text-anchor="middle" style='font-family:"Liberation Serif", serif;font-size:14px;' class="h">=</text>
<text transform="translate(68.25,538.9) scale(1.05,1)" text-anchor="middle" style='font-family:"Liberation Serif", serif;font-size:14px;' class="h">3</text>
<text transform="translate(72,555)" text-anchor="end" style='font-family:"Liberation Serif", serif;font-size:14px;' class="h" textLength="59" lengthAdjust="spacingAndGlyphs">9/10 runs</text>
<text transform="translate(47.6,608.7)" text-anchor="middle" style='font-family:"Liberation Serif", serif;font-size:14px;font-style:italic' class="h">K</text>
<text transform="translate(57.95,609.7) scale(0.86,1)" text-anchor="middle" style='font-family:"Liberation Serif", serif;font-size:14px;' class="h">=</text>
<text transform="translate(68.25,608.7) scale(1.05,1)" text-anchor="middle" style='font-family:"Liberation Serif", serif;font-size:14px;' class="h">4</text>
<text transform="translate(72,624.8)" text-anchor="end" style='font-family:"Liberation Serif", serif;font-size:14px;' class="h" textLength="66.6" lengthAdjust="spacingAndGlyphs">10/10 runs</text>
<text transform="translate(91.9,663) scale(0.86,1)" text-anchor="middle" style='font-family:"Liberation Serif", serif;font-size:14px;' class="h" textLength="32.79" lengthAdjust="spacing">C/CS</text>
<text transform="translate(139.95,663) scale(0.86,1)" text-anchor="middle" style='font-family:"Liberation Serif", serif;font-size:14px;' class="h" textLength="31.98" lengthAdjust="spacing">C/Za</text>
<text transform="translate(192.25,663) scale(0.86,1)" text-anchor="middle" style='font-family:"Liberation Serif", serif;font-size:14px;' class="h" textLength="35.23" lengthAdjust="spacing">C/Du</text>
<text transform="translate(244,663) scale(0.86,1)" text-anchor="middle" style='font-family:"Liberation Serif", serif;font-size:14px;' class="h" textLength="31.63" lengthAdjust="spacing">C/Pr</text>
<text transform="translate(301.45,663) scale(0.86,1)" text-anchor="middle" style='font-family:"Liberation Serif", serif;font-size:14px;' class="h" textLength="38.26" lengthAdjust="spacing">CI/Be</text>
<text transform="translate(367.55,663) scale(0.86,1)" text-anchor="middle" style='font-family:"Liberation Serif", serif;font-size:14px;' class="h" textLength="38.02" lengthAdjust="spacing">CI/Su</text>
<text transform="translate(427.1,663) scale(0.86,1)" text-anchor="middle" style='font-family:"Liberation Serif", serif;font-size:14px;' class="h" textLength="30.93" lengthAdjust="spacing">I/KS</text>
<text transform="translate(498.25,663) scale(0.86,1)" text-anchor="middle" style='font-family:"Liberation Serif", serif;font-size:14px;' class="h" textLength="45.93" lengthAdjust="spacing">CIN/St</text>
<text transform="translate(615.15,663) scale(0.86,1)" text-anchor="middle" style='font-family:"Liberation Serif", serif;font-size:14px;' class="h" textLength="38.95" lengthAdjust="spacing">N/KH</text></svg>
</body></html>
